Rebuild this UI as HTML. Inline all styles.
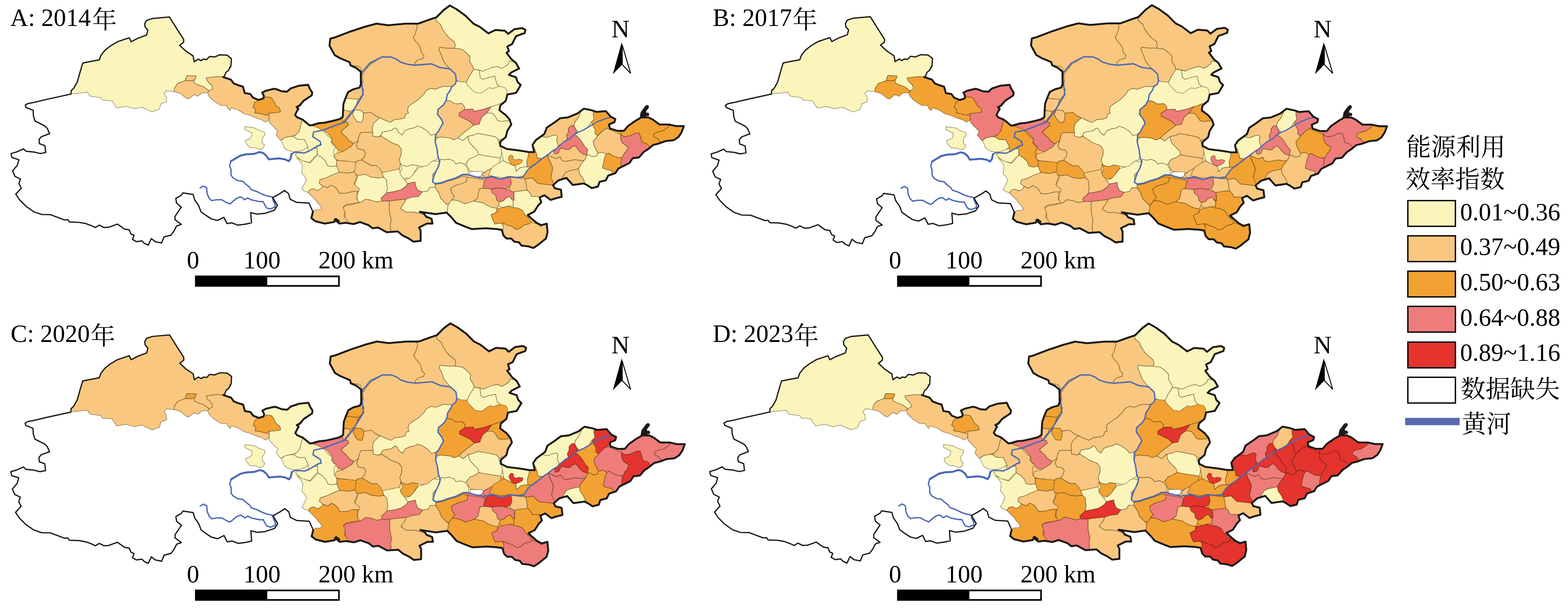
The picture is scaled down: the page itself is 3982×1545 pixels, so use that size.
<!DOCTYPE html><html><head><meta charset="utf-8"><style>
html,body{margin:0;padding:0;background:#fff;}
body{width:3982px;height:1545px;overflow:hidden;font-family:"Liberation Serif",serif;}
svg{display:block}
text{font-family:"Liberation Serif",serif;font-size:63px;fill:#000}
text.cj{font-family:"Liberation Serif","Noto Serif CJK SC",serif}
</style></head><body><svg width="3982" height="1545" viewBox="0 0 3982 1545">
<defs><path id="ol" d="M28.0,390.3 42.0,386.3 60.1,378.3 66.1,384.3 86.1,386.3 102.1,390.3 116.1,387.5 114.1,370.3 100.1,365.1 99.3,354.3 104.9,347.5 126.1,339.5 120.1,326.3 114.1,320.3 88.9,307.5 84.9,294.3 84.1,280.2 66.1,273.0 64.1,267.4 70.1,263.4 86.1,260.2 120.1,252.2 180.2,239.0 181.0,230.2 187.4,224.2 196.2,208.2 204.2,180.2 210.2,160.1 230.2,156.1 252.2,152.1 256.2,140.9 266.2,128.1 280.2,116.9 298.3,106.1 316.3,100.1 328.3,96.1 333.1,106.1 348.3,98.1 372.3,88.9 375.5,76.9 368.3,68.1 367.5,60.1 372.3,52.0 386.3,47.2 430.4,43.2 448.4,72.1 466.4,100.1 466.4,107.3 456.4,115.3 472.4,130.1 490.4,142.1 493.2,156.9 503.6,150.1 510.5,154.1 516.5,150.1 524.5,151.3 532.5,143.3 544.5,144.9 558.5,139.3 576.5,140.1 587.7,148.9 586.5,167.3 584.5,172.2 584.2,170.0 580.7,178.2 573.7,184.0 570.2,193.3 566.7,195.7 586.6,202.6 593.5,212.0 605.2,216.6 616.9,220.1 621.5,236.5 635.5,238.8 642.5,248.1 656.5,253.9 668.2,250.5 670.5,244.6 665.8,235.3 675.2,230.6 696.2,225.5 703.1,227.1 714.8,231.8 728.8,233.0 738.1,224.8 759.1,217.8 782.4,215.5 787.1,226.0 792.9,235.3 791.8,242.3 770.8,256.3 761.0,268.6 753.1,272.1 757.7,276.3 754.0,282.6 749.3,292.0 754.0,297.8 768.0,303.6 786.6,318.8 793.6,317.6 809.9,312.9 823.9,311.8 843.1,307.6 861.7,302.9 870.6,297.1 871.0,285.0 872.2,264.0 876.9,250.5 883.9,234.1 896.7,227.1 913.0,222.5 916.5,214.3 916.1,182.2 904.0,172.2 890.0,166.1 888.0,158.1 864.0,148.1 850.0,140.1 836.8,116.1 838.8,98.1 850.0,95.3 890.0,80.1 926.1,68.1 956.1,60.1 986.1,64.1 1030.2,60.1 1062.2,60.1 1090.2,50.0 1108.2,44.0 1126.2,26.0 1142.3,14.0 1160.3,24.0 1182.3,40.0 1202.3,60.1 1218.3,68.1 1240.3,84.9 1258.4,76.1 1282.4,78.1 1290.4,86.1 1306.4,74.1 1326.4,71.3 1334.4,76.1 1332.4,84.1 1310.4,92.1 1300.4,112.1 1288.4,118.1 1292.4,130.1 1286.4,134.1 1298.4,150.1 1310.4,160.1 1318.4,174.2 1298.4,184.2 1292.4,190.2 1310.4,196.2 1314.4,208.2 1322.4,216.2 1310.4,236.2 1288.4,240.2 1284.4,256.2 1270.4,268.2 1268.4,280.2 1284.4,292.3 1294.4,304.3 1298.4,316.3 1288.4,332.3 1284.4,348.3 1270.4,360.3 1270.4,370.3 1286.4,378.3 1318.4,382.3 1342.4,386.3 1356.5,386.3 1352.4,368.3 1360.5,356.3 1382.5,340.3 1388.5,324.3 1406.5,312.3 1422.5,300.3 1442.5,298.3 1466.5,288.3 1482.6,276.2 1502.6,280.2 1514.6,284.3 1538.6,282.3 1550.6,296.3 1562.6,302.3 1560.6,310.3 1546.6,316.3 1548.6,326.3 1566.6,332.3 1584.7,332.3 1594.7,320.3 1614.7,306.3 1628.7,298.3 1646.7,298.3 1658.7,304.3 1674.7,316.3 1698.8,316.3 1716.8,320.3 1736.8,320.3 1730.8,336.3 1722.8,348.3 1710.8,356.3 1690.7,358.3 1674.7,364.3 1658.7,368.3 1646.7,378.3 1634.7,386.3 1622.7,400.0 1606.7,402.0 1598.7,414.1 1586.7,420.1 1570.6,428.1 1562.6,440.1 1544.6,446.1 1538.6,458.1 1522.6,462.1 1518.6,474.1 1502.6,478.1 1490.6,470.1 1482.6,466.1 1468.5,468.1 1454.5,470.1 1438.5,452.1 1418.5,458.1 1404.5,470.1 1408.5,478.1 1424.5,482.1 1426.5,500.1 1410.5,504.1 1398.5,508.1 1382.5,496.1 1370.5,502.1 1374.5,514.1 1366.5,522.2 1356.5,538.2 1340.4,546.2 1348.4,554.2 1362.5,566.2 1374.5,572.2 1388.5,568.2 1390.5,590.2 1386.5,606.2 1366.5,622.2 1354.4,630.2 1342.4,626.2 1324.4,624.2 1318.4,616.2 1306.4,614.2 1298.4,606.2 1286.4,606.2 1278.4,598.2 1274.4,584.2 1262.4,582.2 1234.3,580.2 1198.3,582.2 1182.3,576.2 1158.3,566.2 1146.3,552.2 1134.3,540.2 1106.2,544.2 1066.2,538.2 1076.2,542.2 1082.2,550.2 1096.2,556.2 1098.2,568.2 1084.2,568.2 1064.2,578.2 1068.2,586.2 1068.2,612.2 1050.2,614.2 1038.2,606.2 1022.2,598.2 1010.1,588.2 982.1,590.2 960.1,578.2 946.1,580.2 936.1,572.2 914.1,564.2 898.0,569.4 878.0,566.2 862.0,568.2 850.0,558.2 860.8,562.2 852.8,556.2 848.8,564.2 824.7,568.2 800.7,562.2 790.7,554.2 794.7,538.2 784.7,516.1 752.7,514.1 736.7,506.1 732.7,492.1 722.6,484.1 710.6,492.1 692.6,502.1 704.6,522.2 696.6,534.2 672.6,542.2 652.6,544.2 636.6,540.2 638.6,566.2 624.6,569.4 604.5,572.2 588.5,566.2 576.5,568.2 568.5,552.2 552.5,560.2 536.5,556.2 524.5,548.2 510.5,538.2 504.4,522.2 494.4,508.1 490.4,494.1 464.4,490.1 460.4,496.1 446.4,504.1 448.4,516.1 460.4,526.2 452.4,538.2 444.4,550.2 444.4,558.2 460.4,570.2 448.4,574.2 442.4,586.2 434.4,597.4 416.4,602.2 410.4,617.4 394.4,614.2 384.3,606.2 376.3,623.0 366.3,618.2 360.3,612.2 346.3,614.2 336.3,608.2 340.3,598.2 332.3,594.2 328.3,584.2 316.3,582.2 298.3,569.4 276.2,577.4 264.2,578.2 252.2,572.2 242.2,578.2 232.2,573.4 218.2,568.2 200.2,565.0 176.2,564.2 172.2,558.2 164.1,559.0 146.1,552.2 128.1,545.4 106.1,545.0 86.1,538.2 66.1,524.2 50.0,508.1 40.0,493.3 54.0,478.1 48.0,466.1 52.0,454.9 38.0,448.1 32.0,434.1 44.0,420.1 48.0,406.0 30.0,400.0Z"/><clipPath id="cp"><use href="#ol"/></clipPath>
<path id="rv" d="M508.4,477.3 516.6,472.6 524.8,477.3 525.9,491.3 530.6,502.9 537.6,509.9 549.2,507.6 563.2,507.6 574.9,514.6 584.2,518.1 593.5,509.9 602.9,502.9 612.2,500.6 621.5,507.6 628.5,502.9 637.9,507.6 647.2,509.9 658.8,512.2 668.2,512.2 672.8,521.6 677.5,528.6 686.8,530.9 698.5,526.2 698.5,519.2 693.8,509.9 691.5,500.6 679.8,498.3 665.8,493.6 651.8,486.6 637.9,481.9 633.2,474.9 623.9,467.9 616.9,460.9 602.9,458.6 591.2,451.6 586.6,444.6 586.6,430.6 583.1,421.3 586.6,409.6 598.2,402.6 609.9,395.7 623.9,392.2 644.9,391.0 658.8,386.3 668.2,388.7 676.3,395.7 682.2,405.0 693.8,403.8 710.1,402.6 724.1,405.0 733.5,409.6 738.1,402.6 740.5,391.0 749.8,386.3 759.1,387.5 773.1,388.7 784.8,384.0 796.4,377.0 808.1,370.0 815.1,368.2 812.7,358.9 794.1,347.2 796.4,335.6 819.7,330.9 875.7,309.9 896.7,281.9 922.3,240.0 916.5,193.3 919.8,183.2 927.9,173.9 939.6,159.9 969.9,144.8 993.2,144.8 1007.2,150.6 1016.6,157.6 1035.2,163.4 1053.9,165.7 1095.8,162.2 1116.8,171.6 1142.5,175.1 1156.5,187.9 1158.8,204.2 1156.5,213.5 1147.1,220.5 1143.6,229.3 1135.5,241.0 1133.1,255.0 1126.2,266.6 1112.2,278.3 1111.0,290.0 1121.5,303.9 1125.0,313.3 1119.2,322.6 1113.3,334.3 1106.3,341.3 1105.2,359.9 1109.8,378.6 1112.2,397.2 1116.8,411.2 1112.2,425.2 1105.2,439.2 1100.5,453.0 1098.2,462.0 1105.2,466.6 1121.5,464.3 1133.1,459.6 1156.5,452.6 1175.1,443.3 1186.8,443.3 1193.8,445.7 1212.4,450.3 1226.4,452.6 1240.4,450.3 1249.7,448.0 1261.4,452.6 1273.1,455.0 1284.7,451.5 1296.4,449.1 1315.0,451.5 1329.0,450.3"/>
<path id="rvs" d="M1329.0,450.3 1329.3,447.5 1338.6,433.5 1347.9,424.2 1361.9,414.9 1375.9,403.2 1389.9,393.9 1401.6,384.6 1413.2,377.6 1422.6,368.3 1434.2,358.9 1448.2,351.9 1457.5,342.6 1469.2,335.6 1480.9,330.9 1492.5,323.9 1504.2,317.0 1515.8,310.0 1527.5,305.3 1539.2,300.6 1550.8,298.3"/>
<path id="rvt" d="M586.6,409.6 598.2,402.6 609.9,395.7 623.9,392.2 644.9,391.0 658.8,386.3 668.2,388.7 676.3,395.7 682.2,405.0 693.8,403.8 710.1,402.6 724.1,405.0 733.5,409.6 738.1,402.6 740.5,391.0"/>
<path id="olt" d="M566.7,195.7 586.6,202.6 593.5,212.0 605.2,216.6 616.9,220.1 621.5,236.5 635.5,238.8 642.5,248.1 656.5,253.9 668.2,250.5 670.5,244.6 665.8,235.3 675.2,230.6 696.2,225.5 703.1,227.1 714.8,231.8 728.8,233.0 738.1,224.8 759.1,217.8 782.4,215.5 787.1,226.0 792.9,235.3 791.8,242.3 770.8,256.3 761.0,268.6 753.1,272.1 757.7,276.3 754.0,282.6 749.3,292.0 754.0,297.8 768.0,303.6 786.6,318.8 793.6,317.6 809.9,312.9 823.9,311.8 843.1,307.6 861.7,302.9 870.6,297.1 871.0,285.0 872.2,264.0 876.9,250.5 883.9,234.1 896.7,227.1 913.0,222.5 916.5,214.3 916.1,182.2 904.0,172.2 890.0,166.1 888.0,158.1 864.0,148.1 850.0,140.1 836.8,116.1 838.8,98.1 850.0,95.3 890.0,80.1 926.1,68.1 956.1,60.1 986.1,64.1 1030.2,60.1 1062.2,60.1 1090.2,50.0 1108.2,44.0 1126.2,26.0 1142.3,14.0 1160.3,24.0 1182.3,40.0 1202.3,60.1 1218.3,68.1 1240.3,84.9 1258.4,76.1 1282.4,78.1 1290.4,86.1 1306.4,74.1 1326.4,71.3 1334.4,76.1 1332.4,84.1 1310.4,92.1 1300.4,112.1 1288.4,118.1 1292.4,130.1 1286.4,134.1 1298.4,150.1 1310.4,160.1 1318.4,174.2 1298.4,184.2 1292.4,190.2 1310.4,196.2 1314.4,208.2 1322.4,216.2 1310.4,236.2 1288.4,240.2 1284.4,256.2 1270.4,268.2 1268.4,280.2 1284.4,292.3 1294.4,304.3 1298.4,316.3 1288.4,332.3 1284.4,348.3 1270.4,360.3 1270.4,370.3 1286.4,378.3 1318.4,382.3 1342.4,386.3 1356.5,386.3 1352.4,368.3 1360.5,356.3 1382.5,340.3 1388.5,324.3 1406.5,312.3 1422.5,300.3 1442.5,298.3 1466.5,288.3 1482.6,276.2 1502.6,280.2 1514.6,284.3 1538.6,282.3 1550.6,296.3 1562.6,302.3 1560.6,310.3 1546.6,316.3 1548.6,326.3 1566.6,332.3 1584.7,332.3 1594.7,320.3 1614.7,306.3 1628.7,298.3 1646.7,298.3 1658.7,304.3 1674.7,316.3 1698.8,316.3 1716.8,320.3 1736.8,320.3 1730.8,336.3 1722.8,348.3 1710.8,356.3 1690.7,358.3 1674.7,364.3 1658.7,368.3 1646.7,378.3 1634.7,386.3 1622.7,400.0 1606.7,402.0 1598.7,414.1 1586.7,420.1 1570.6,428.1 1562.6,440.1 1544.6,446.1 1538.6,458.1 1522.6,462.1 1518.6,474.1 1502.6,478.1 1490.6,470.1 1482.6,466.1 1468.5,468.1 1454.5,470.1 1438.5,452.1 1418.5,458.1 1404.5,470.1 1408.5,478.1 1424.5,482.1 1426.5,500.1 1410.5,504.1 1398.5,508.1 1382.5,496.1 1370.5,502.1 1374.5,514.1 1366.5,522.2 1356.5,538.2 1340.4,546.2 1348.4,554.2 1362.5,566.2 1374.5,572.2 1388.5,568.2 1390.5,590.2 1386.5,606.2 1366.5,622.2 1354.4,630.2 1342.4,626.2 1324.4,624.2 1318.4,616.2 1306.4,614.2 1298.4,606.2 1286.4,606.2 1278.4,598.2 1274.4,584.2 1262.4,582.2 1234.3,580.2 1198.3,582.2 1182.3,576.2 1158.3,566.2 1146.3,552.2 1134.3,540.2 1106.2,544.2 1066.2,538.2 1076.2,542.2 1082.2,550.2 1096.2,556.2 1098.2,568.2 1084.2,568.2 1064.2,578.2 1068.2,586.2 1068.2,612.2 1050.2,614.2 1038.2,606.2 1022.2,598.2 1010.1,588.2 982.1,590.2 960.1,578.2 946.1,580.2 936.1,572.2 914.1,564.2 898.0,569.4 878.0,566.2 862.0,568.2 850.0,558.2 860.8,562.2 852.8,556.2 848.8,564.2 824.7,568.2 800.7,562.2 790.7,554.2 794.7,538.2"/>
<path id="spike" d="M1624.5,298.0 1627.0,285.0 1638.0,270.0 1643.0,266.5 1648.0,269.0 1647.5,274.0 1641.0,282.0 1641.5,287.0 1646.0,286.0 1649.0,290.0 1647.5,294.5 1642.0,295.0 1637.0,300.0Z"/>
<path id="r_alxa" d="M172.2,240.2 152.1,140.1 360.3,20.0 480.4,32.0 600.5,132.1 592.5,188.2 577.2,191.0 566.7,195.7 551.6,194.5 523.6,198.0 525.9,205.0 537.6,216.6 539.9,226.0 530.6,230.6 516.6,220.1 502.6,215.5 493.3,210.8 493.3,202.6 496.8,199.1 497.9,192.9 474.6,192.2 472.3,198.0 470.0,205.0 451.3,212.0 443.1,223.6 442.0,233.0 423.3,230.6 416.3,237.6 422.2,247.0 423.3,258.6 409.3,263.3 404.7,277.3 400.0,279.6 386.3,284.3 360.3,272.2 340.3,276.2 320.3,270.2 296.3,274.2 284.3,256.2 260.2,254.2 256.2,248.2 228.2,244.2 222.2,234.2 180.2,239.0Z"/>
<path id="r_xinzhou" d="M1147.1,220.0 1154.1,206.0 1186.8,206.0 1200.8,217.7 1214.8,221.2 1226.4,215.3 1247.4,208.3 1268.4,210.7 1287.1,206.0 1316.2,206.0 1319.7,230.5 1308.0,241.0 1294.0,242.2 1284.7,250.3 1283.6,257.3 1270.7,263.1 1261.4,266.6 1247.4,271.3 1226.4,278.3 1203.1,283.0 1200.8,277.1 1179.8,278.3 1179.8,271.3 1172.8,263.1 1156.5,264.3 1144.8,257.3 1133.1,255.0 1135.5,241.0 1143.6,229.3Z"/>
<path id="r_g2" d="M523.6,198.0 551.6,194.5 566.7,195.7 577.2,191.0 609.9,205.0 633.2,228.3 656.5,253.9 647.2,259.8 642.5,272.6 649.5,278.4 647.2,286.6 656.5,287.8 675.2,292.4 683.3,293.6 682.2,305.3 674.0,309.9 661.2,302.9 651.8,300.6 633.2,292.4 619.2,288.9 605.2,279.6 586.6,273.8 584.2,280.8 577.2,273.8 576.1,267.9 560.9,267.9 549.2,260.9 539.9,253.9 530.6,244.6 527.1,235.3 530.6,230.6 539.9,226.0 537.6,216.6 525.9,205.0Z"/>
<path id="r_g3" d="M656.5,253.9 668.2,250.5 677.5,245.8 689.2,248.1 696.2,258.6 700.8,267.9 710.1,274.9 712.5,284.3 700.8,286.6 683.3,287.8 675.2,292.4 656.5,287.8 647.2,286.6 649.5,278.4 642.5,272.6 647.2,259.8Z"/>
<path id="r_g4" d="M668.2,250.5 661.2,240.0 668.2,223.6 703.1,216.6 738.1,216.6 773.1,207.3 801.1,221.3 801.1,244.6 770.8,256.3 752.1,271.4 756.8,281.9 749.8,291.3 752.1,297.1 768.4,302.9 763.8,319.2 760.3,333.2 752.1,342.6 735.8,347.2 724.1,349.6 712.5,356.6 700.8,342.6 705.5,333.2 691.5,319.2 683.3,309.9 683.3,293.6 683.3,287.8 700.8,286.6 712.5,284.3 710.1,274.9 700.8,267.9 696.2,258.6 689.2,248.1 677.5,245.8Z"/>
<path id="r_g5" d="M621.5,321.6 633.2,322.7 647.2,325.1 656.5,330.9 671.7,335.6 672.8,342.6 665.8,351.9 665.8,363.5 671.7,368.2 669.3,375.2 663.5,379.9 656.5,378.7 647.2,375.2 635.5,375.2 626.2,365.9 622.7,356.6 630.9,354.2 637.9,349.6 640.2,337.9 629.7,333.2 621.5,328.6Z"/>
<path id="r_g6" d="M724.1,349.6 735.8,347.2 745.1,347.2 756.8,354.2 773.1,354.2 777.8,363.5 782.4,372.9 773.1,379.9 759.1,384.5 745.1,385.7 731.1,382.2 721.8,375.2 717.1,363.5 713.6,356.6Z"/>
<path id="r_bayannur" d="M825.3,99.3 876.6,78.3 957.1,55.0 1063.2,55.0 1057.4,63.1 1059.7,69.0 1053.9,87.6 1049.2,94.6 1056.2,106.3 1063.2,113.3 1067.9,122.6 1070.2,134.3 1077.2,141.3 1074.9,148.3 1059.7,152.9 1053.9,159.9 1053.9,165.7 1035.2,163.4 1016.6,157.6 1007.2,150.6 993.2,144.8 969.9,144.8 939.6,159.9 919.8,183.2 913.9,169.2 888.3,164.6 853.3,145.9 830.0,117.9Z"/>
<path id="r_baotou" d="M1057.4,63.1 1063.2,52.6 1107.5,43.3 1107.5,52.6 1119.2,62.0 1123.8,73.6 1133.1,87.6 1142.5,97.0 1154.1,106.3 1156.5,115.6 1154.1,122.6 1133.1,122.6 1116.8,120.3 1114.5,126.1 1121.5,141.3 1126.2,155.3 1135.5,166.9 1142.5,175.1 1116.8,171.6 1095.8,162.2 1053.9,165.7 1053.9,159.9 1059.7,152.9 1074.9,148.3 1077.2,141.3 1070.2,134.3 1067.9,122.6 1063.2,113.3 1056.2,106.3 1049.2,94.6 1053.9,87.6 1059.7,69.0Z"/>
<path id="r_hohhot" d="M1116.8,120.3 1133.1,122.6 1154.1,122.6 1172.8,124.9 1182.1,131.9 1193.8,143.6 1192.6,155.3 1200.8,169.2 1203.1,176.2 1191.4,194.9 1184.5,208.9 1168.1,207.7 1158.8,204.2 1156.5,187.9 1142.5,175.1 1135.5,166.9 1126.2,155.3 1121.5,141.3 1114.5,126.1Z"/>
<path id="r_ulanqab" d="M1107.5,52.6 1107.5,43.3 1133.1,13.0 1179.8,29.3 1226.4,66.6 1343.0,62.0 1319.7,124.9 1305.7,157.6 1292.9,155.3 1291.7,162.2 1282.4,169.2 1273.1,173.9 1261.4,169.2 1249.7,171.6 1240.4,175.1 1226.4,180.9 1214.8,177.4 1203.1,176.2 1200.8,169.2 1192.6,155.3 1193.8,143.6 1182.1,131.9 1172.8,124.9 1154.1,122.6 1156.5,115.6 1154.1,106.3 1142.5,97.0 1133.1,87.6 1123.8,73.6 1119.2,62.0Z"/>
<path id="r_datong" d="M1217.1,178.6 1226.4,180.9 1240.4,175.1 1249.7,171.6 1261.4,169.2 1273.1,173.9 1282.4,169.2 1291.7,162.2 1292.9,155.3 1305.7,157.6 1329.0,169.2 1319.7,183.2 1331.4,211.2 1324.4,241.5 1294.0,243.9 1287.1,250.9 1287.1,229.9 1282.4,222.9 1268.4,219.4 1261.4,213.5 1259.1,204.2 1256.7,193.7 1240.4,197.2 1226.4,201.9 1219.4,197.2Z"/>
<path id="r_shuozhou" d="M1203.1,176.2 1217.1,178.6 1219.4,197.2 1226.4,201.9 1240.4,197.2 1256.7,193.7 1261.4,213.5 1268.4,219.4 1249.7,225.2 1242.7,222.9 1231.1,229.9 1221.8,236.9 1205.4,234.5 1196.1,225.2 1186.8,215.9 1184.5,208.9 1191.4,194.9Z"/>
<path id="r_ordos" d="M919.8,189.7 939.6,164.0 969.9,145.4 993.2,145.4 1007.2,151.2 1016.6,158.2 1035.2,164.0 1053.9,166.4 1095.8,162.9 1116.8,172.2 1142.5,175.7 1156.5,188.5 1158.8,204.8 1156.5,214.2 1147.1,220.0 1123.8,220.0 1105.2,227.0 1093.5,224.7 1081.8,230.5 1077.2,238.7 1063.2,252.6 1049.2,262.0 1037.5,270.1 1035.2,280.6 1037.5,287.6 1030.5,290.0 1028.2,299.3 1016.6,302.8 1002.6,303.9 990.9,310.9 979.2,306.3 964.1,299.3 953.6,294.6 941.9,285.3 923.3,287.6 916.3,280.6 900.0,279.5 897.6,278.3 904.6,266.6 909.3,257.3 918.6,243.3 923.3,229.3 919.8,220.0Z"/>
<path id="r_wuhai" d="M897.6,222.3 919.8,220.0 923.3,229.3 918.6,243.3 909.3,252.6 886.0,250.3 876.6,248.0 874.3,234.0 888.3,220.0 907.0,206.0 915.1,194.3 919.8,189.7 922.1,208.3Z"/>
<path id="r_g10" d="M886.0,250.3 909.3,252.6 904.6,266.6 897.6,278.3 888.3,283.0 876.6,280.6 867.3,276.0 869.6,257.3 875.5,250.3Z"/>
<path id="r_g10s" d="M876.6,280.6 888.3,283.0 888.3,290.0 880.1,299.3 872.0,310.9 867.3,297.0 865.0,285.3Z"/>
<path id="r_g11" d="M900.0,279.5 916.3,280.6 923.3,287.6 922.1,301.6 918.6,310.9 907.0,309.8 900.0,299.3 895.3,290.0Z"/>
<path id="r_g9" d="M888.3,290.0 897.6,278.3 900.0,279.5 895.3,290.0 900.0,299.3 907.0,309.8 918.6,310.9 922.1,301.6 923.3,287.6 941.9,285.3 953.6,294.6 964.1,299.3 948.9,313.3 945.4,324.9 946.6,336.6 916.3,336.6 911.6,345.9 909.3,357.6 897.6,364.6 886.0,357.6 879.0,348.3 870.8,341.3 865.0,334.3 884.8,317.9 882.5,310.9 872.0,310.9 880.1,299.3Z"/>
<path id="r_g8" d="M792.7,320.3 830.0,308.6 844.0,305.1 860.3,301.6 867.3,297.0 872.0,310.9 882.5,310.9 884.8,317.9 865.0,334.3 870.8,341.3 879.0,348.3 886.0,357.6 897.6,364.6 893.0,371.6 881.3,378.6 869.6,385.6 858.0,380.9 848.7,369.2 841.7,359.9 844.0,352.9 830.0,336.6 823.0,331.9 806.7,331.9Z"/>
<path id="r_yulin" d="M964.1,299.3 979.2,306.3 990.9,310.9 1002.6,303.9 1016.6,302.8 1028.2,299.3 1030.5,290.0 1037.5,287.6 1035.2,280.6 1037.5,270.1 1049.2,262.0 1063.2,252.6 1077.2,238.7 1081.8,230.5 1093.5,224.7 1105.2,227.0 1123.8,220.0 1147.1,220.0 1143.6,229.3 1135.5,241.0 1133.1,255.0 1126.2,266.6 1112.2,278.3 1111.0,290.0 1121.5,303.9 1125.0,313.3 1119.2,322.6 1113.3,334.3 1106.3,341.3 1093.5,343.6 1086.5,334.3 1079.5,329.6 1072.5,324.9 1059.7,320.3 1051.5,324.9 1039.9,327.3 1028.2,331.9 1021.2,343.6 1011.9,336.6 1007.2,327.3 1002.6,324.9 993.2,331.9 979.2,334.3 969.9,336.6 967.6,343.6 960.6,348.3 946.6,345.9 946.6,336.6 945.4,324.9 948.9,313.3Z"/>
<path id="r_yanan" d="M969.9,336.6 979.2,334.3 993.2,331.9 1002.6,324.9 1007.2,327.3 1011.9,336.6 1021.2,343.6 1028.2,331.9 1039.9,327.3 1051.5,324.9 1059.7,320.3 1072.5,324.9 1079.5,329.6 1086.5,334.3 1093.5,343.6 1106.3,341.3 1105.2,359.9 1109.8,378.6 1112.2,397.2 1109.8,404.2 1100.5,408.9 1093.5,413.5 1095.8,420.5 1086.5,425.2 1072.5,422.9 1058.5,420.5 1044.5,418.2 1035.2,422.9 1023.5,420.5 1016.6,415.9 1014.2,404.2 1018.9,392.6 1018.9,378.6 1011.9,369.2 993.2,362.2 979.2,352.9 967.6,345.9Z"/>
<path id="r_qingyang" d="M946.6,336.6 946.6,345.9 960.6,348.3 967.6,345.9 979.2,352.9 993.2,362.2 1011.9,369.2 1018.9,378.6 1018.9,392.6 1014.2,404.2 1016.6,415.9 1014.2,429.4 1009.6,431.0 993.2,434.5 969.9,439.2 960.6,429.9 955.9,420.5 941.9,420.5 930.3,413.5 918.6,406.6 925.6,397.2 927.9,387.9 923.3,380.9 909.3,378.6 904.6,369.2 909.3,357.6 911.6,345.9 916.3,336.6Z"/>
<path id="r_guyuan" d="M897.6,364.6 909.3,357.6 904.6,369.2 909.3,378.6 923.3,380.9 927.9,387.9 925.6,397.2 918.6,406.6 907.0,408.9 900.0,418.2 888.3,413.5 876.6,408.9 865.0,408.9 853.3,406.6 848.7,397.2 853.3,390.2 869.6,385.6 881.3,378.6 893.0,371.6Z"/>
<path id="r_tongchuan" d="M1016.6,415.9 1023.5,420.5 1035.2,422.9 1044.5,418.2 1058.5,420.5 1060.9,427.5 1053.9,434.5 1049.2,443.9 1039.9,453.0 1016.6,453.0 1014.2,441.5 1021.2,429.9Z"/>
<path id="r_lvliang" d="M1133.1,255.0 1144.8,257.3 1156.5,264.3 1172.8,263.1 1179.8,271.3 1179.8,278.3 1165.8,287.6 1165.8,294.6 1179.8,301.6 1193.8,308.6 1203.1,317.9 1193.8,324.9 1184.5,331.9 1172.8,341.3 1163.5,350.6 1151.8,355.3 1142.5,350.6 1130.8,349.4 1119.2,348.3 1109.8,350.6 1106.3,341.3 1113.3,334.3 1119.2,322.6 1125.0,313.3 1121.5,303.9 1111.0,290.0 1112.2,278.3 1126.2,266.6Z"/>
<path id="r_taiyuan" d="M1165.8,287.6 1179.8,278.3 1200.8,277.1 1203.1,283.0 1226.4,278.3 1247.4,271.3 1242.7,278.3 1235.8,287.6 1224.1,297.0 1219.4,308.6 1217.1,315.6 1203.1,317.9 1193.8,308.6 1179.8,301.6 1165.8,294.6Z"/>
<path id="r_yangquan" d="M1247.4,271.3 1261.4,266.6 1270.7,263.1 1277.7,273.6 1284.7,278.3 1291.7,290.0 1298.7,299.3 1296.4,306.3 1273.1,308.6 1263.7,306.3 1256.7,294.6 1249.7,287.6 1235.8,287.6 1242.7,278.3Z"/>
<path id="r_jinzhong" d="M1235.8,287.6 1249.7,287.6 1256.7,294.6 1263.7,306.3 1273.1,308.6 1296.4,306.3 1301.0,313.3 1294.0,322.6 1289.4,331.9 1285.9,343.6 1277.7,352.9 1266.1,355.3 1259.1,348.3 1249.7,345.9 1238.1,343.6 1226.4,341.3 1212.4,338.9 1203.1,343.6 1189.1,345.9 1175.1,357.6 1163.5,350.6 1172.8,341.3 1184.5,331.9 1193.8,324.9 1203.1,317.9 1217.1,315.6 1219.4,308.6 1224.1,297.0Z"/>
<path id="r_changzhi" d="M1189.1,345.9 1203.1,343.6 1212.4,338.9 1226.4,341.3 1238.1,343.6 1249.7,345.9 1259.1,348.3 1266.1,355.3 1273.1,359.9 1275.4,378.6 1273.1,392.6 1270.7,401.9 1256.7,399.6 1240.4,397.2 1226.4,394.9 1214.8,392.6 1212.4,383.2 1203.1,373.9 1193.8,364.6 1189.1,355.3Z"/>
<path id="r_linfen" d="M1109.8,350.6 1119.2,348.3 1130.8,349.4 1142.5,350.6 1151.8,355.3 1163.5,350.6 1175.1,357.6 1189.1,345.9 1189.1,355.3 1193.8,364.6 1203.1,373.9 1212.4,383.2 1214.8,392.6 1203.1,399.6 1191.4,404.2 1184.5,413.5 1179.8,418.2 1170.5,413.5 1156.5,415.9 1151.8,408.9 1140.1,404.2 1128.5,406.6 1119.2,404.2 1116.8,411.2 1112.2,397.2 1109.8,378.6 1105.2,359.9Z"/>
<path id="r_jincheng" d="M1214.8,392.6 1226.4,394.9 1240.4,397.2 1256.7,399.6 1270.7,401.9 1268.4,413.5 1261.4,422.9 1249.7,427.5 1235.8,434.5 1226.4,439.2 1212.4,436.9 1193.8,434.5 1186.8,425.2 1184.5,413.5 1191.4,404.2 1203.1,399.6Z"/>
<path id="r_yuncheng" d="M1116.8,411.2 1119.2,404.2 1128.5,406.6 1140.1,404.2 1151.8,408.9 1156.5,415.9 1170.5,413.5 1179.8,418.2 1186.8,425.2 1189.1,434.5 1189.1,445.0 1175.1,445.0 1156.5,453.2 1133.1,460.2 1121.5,464.9 1105.2,467.2 1097.0,462.5 1097.0,450.9 1102.8,439.2 1109.8,425.2Z"/>
<path id="r_jiyuan" d="M1193.8,435.7 1224.1,435.7 1226.4,441.5 1221.8,447.4 1212.4,449.7 1198.4,447.4 1192.6,442.7Z"/>
<path id="r_pingliang" d="M853.3,406.0 865.0,408.8 888.3,413.5 900.0,418.1 907.0,408.8 918.6,406.5 930.3,413.5 941.9,420.5 955.9,420.5 965.3,429.8 969.9,438.7 974.6,450.3 960.6,452.6 941.9,450.3 927.9,443.3 909.3,445.7 900.0,441.0 876.6,443.3 858.0,434.0 848.7,424.7 855.7,413.5Z"/>
<path id="r_xianyang" d="M909.3,445.7 927.9,443.3 941.9,450.3 960.6,452.6 974.6,450.3 981.6,457.3 983.9,478.3 981.6,490.0 967.6,503.9 969.9,510.9 955.9,513.3 941.9,508.6 927.9,506.3 918.6,513.3 909.3,515.6 907.0,501.6 909.3,490.0 900.0,469.0 904.6,459.6Z"/>
<path id="r_weinan_n" d="M974.6,450.3 969.9,438.7 993.2,434.0 1014.2,429.3 1016.6,443.3 1028.2,457.3 1035.2,466.6 1030.5,473.6 1016.6,483.0 997.9,487.6 981.6,490.0 983.9,478.3 981.6,457.3Z"/>
<path id="r_xian" d="M969.9,510.9 967.6,503.9 981.6,490.0 997.9,487.6 1016.6,483.0 1030.5,473.6 1035.2,466.6 1053.9,462.0 1056.2,473.6 1060.9,483.0 1072.5,487.6 1063.2,499.3 1044.5,501.6 1030.5,506.3 1007.2,508.6 988.6,510.9Z"/>
<path id="r_weinan_e" d="M1035.2,466.6 1028.2,457.3 1039.9,452.9 1049.2,443.3 1060.9,427.0 1086.5,420.0 1093.5,413.0 1100.5,408.3 1115.7,410.7 1115.7,420.0 1107.5,434.0 1098.2,443.3 1098.2,459.6 1105.2,469.0 1105.2,476.0 1091.2,476.0 1086.5,485.3 1072.5,487.6 1060.9,483.0 1056.2,473.6 1053.9,462.0Z"/>
<path id="r_shangluo_n" d="M1016.6,529.6 1028.2,513.3 1030.5,506.3 1044.5,501.6 1063.2,499.3 1072.5,487.6 1086.5,485.3 1091.2,476.0 1105.2,476.0 1114.5,490.0 1119.2,503.9 1133.1,517.9 1137.8,522.6 1135.5,538.9 1128.5,545.9 1114.5,548.3 1095.8,548.3 1077.2,547.1 1063.2,541.3 1049.2,538.9 1030.5,538.9Z"/>
<path id="r_shangluo_s" d="M988.6,510.9 1007.2,508.6 1030.5,506.3 1028.2,513.3 1016.6,529.6 1030.5,538.9 1049.2,538.9 1063.2,541.3 1077.2,545.9 1081.8,552.9 1100.5,557.6 1102.8,571.6 1081.8,573.9 1072.5,580.9 1072.5,620.5 1049.2,622.9 1028.2,606.6 1004.9,592.6 993.2,594.9 990.9,571.6 993.2,559.9 988.6,536.6Z"/>
<path id="r_baoji" d="M876.6,522.6 890.6,520.3 909.3,515.6 918.6,513.3 927.9,506.3 941.9,508.6 955.9,513.3 969.9,510.9 988.6,510.9 988.6,536.6 993.2,559.9 990.9,571.6 993.2,594.9 979.2,594.9 955.9,585.6 932.6,578.6 900.0,576.2 876.6,564.6 876.6,541.3 869.6,531.9Z"/>
<path id="r_sanmenxia" d="M1105.2,476.0 1105.2,469.0 1121.5,466.6 1133.1,462.0 1156.5,455.0 1175.1,448.0 1186.8,450.3 1184.5,462.0 1172.8,466.6 1156.5,471.3 1144.8,478.3 1147.1,490.0 1154.1,499.3 1147.1,508.6 1140.1,517.9 1133.1,517.9 1119.2,503.9 1114.5,490.0Z"/>
<path id="r_luoyang" d="M1186.8,450.3 1203.1,452.6 1217.1,455.0 1231.1,457.3 1226.4,478.3 1217.1,480.6 1214.8,492.3 1212.4,503.9 1203.1,510.9 1189.1,515.6 1179.8,517.9 1165.8,510.9 1154.1,508.6 1147.1,508.6 1154.1,499.3 1147.1,490.0 1144.8,478.3 1156.5,471.3 1172.8,466.6 1184.5,462.0Z"/>
<path id="r_zhengzhou" d="M1231.1,457.3 1235.8,452.6 1249.7,450.3 1266.1,455.0 1282.4,452.6 1296.4,450.3 1298.7,466.6 1294.0,476.0 1282.4,480.6 1273.1,478.3 1259.1,478.3 1247.4,480.6 1226.4,478.3Z"/>
<path id="r_xuchang" d="M1247.4,480.6 1259.1,478.3 1273.1,478.3 1282.4,480.6 1294.0,483.0 1303.4,487.6 1305.7,508.6 1298.7,506.3 1294.0,499.3 1284.7,503.9 1277.7,510.9 1268.4,513.3 1261.4,508.6 1259.1,497.0 1249.7,490.0Z"/>
<path id="r_pingdingshan" d="M1217.1,480.6 1226.4,478.3 1247.4,480.6 1249.7,490.0 1259.1,497.0 1261.4,508.6 1268.4,513.3 1266.1,522.6 1261.4,529.6 1249.7,527.3 1238.1,522.6 1226.4,515.6 1214.8,513.3 1203.1,510.9 1212.4,503.9 1214.8,492.3Z"/>
<path id="r_nanyang" d="M1137.8,522.6 1140.1,517.9 1147.1,508.6 1154.1,508.6 1165.8,510.9 1179.8,517.9 1189.1,515.6 1203.1,510.9 1214.8,513.3 1226.4,515.6 1238.1,522.6 1249.7,527.3 1261.4,529.6 1261.4,538.9 1247.4,545.9 1252.1,559.9 1256.7,569.2 1273.1,566.9 1277.7,573.9 1282.4,590.2 1268.4,587.9 1249.7,585.6 1226.4,585.6 1200.8,587.9 1175.1,578.6 1156.5,571.6 1142.5,557.6 1128.5,545.9 1135.5,538.9Z"/>
<path id="r_zhumadian" d="M1247.4,545.9 1261.4,538.9 1266.1,529.6 1277.7,527.3 1289.4,523.8 1303.4,527.3 1315.0,528.4 1326.7,534.3 1333.7,545.9 1343.0,555.3 1350.0,564.6 1343.0,569.2 1331.4,571.6 1319.7,580.9 1310.4,583.2 1301.0,576.2 1287.1,571.6 1277.7,566.9 1273.1,566.9 1256.7,569.2 1252.1,559.9Z"/>
<path id="r_xinyang" d="M1277.7,566.9 1287.1,571.6 1301.0,576.2 1310.4,583.2 1319.7,580.9 1331.4,571.6 1343.0,569.2 1350.0,564.6 1364.0,569.2 1373.3,576.2 1387.3,564.6 1396.7,583.2 1399.0,601.9 1389.7,618.2 1371.0,629.9 1359.3,639.2 1338.4,634.5 1319.7,627.5 1296.4,615.9 1282.4,608.9 1275.4,599.6 1277.7,585.6Z"/>
<path id="r_luohe" d="M1268.4,513.3 1277.7,510.9 1284.7,503.9 1294.0,499.3 1298.7,506.3 1303.4,510.9 1303.4,522.6 1289.4,523.8 1277.7,527.3 1266.1,522.6Z"/>
<path id="r_zhoukou" d="M1305.7,487.6 1319.7,485.3 1338.4,483.0 1345.4,490.0 1350.0,499.3 1364.0,499.3 1375.7,499.3 1378.0,513.3 1373.3,520.3 1368.7,529.6 1359.3,545.9 1343.0,552.9 1333.7,545.9 1326.7,534.3 1315.0,528.4 1303.4,527.3 1303.4,522.6 1303.4,510.9 1305.7,508.6Z"/>
<path id="r_kaifeng" d="M1296.4,450.3 1315.0,452.6 1333.7,455.0 1336.0,466.6 1338.4,483.0 1319.7,485.3 1305.7,487.6 1303.4,487.6 1294.0,483.0 1294.0,476.0 1298.7,466.6Z"/>
<path id="r_heze" d="M1329.0,450.3 1333.7,441.0 1343.0,429.3 1357.0,420.0 1368.7,410.7 1389.7,393.9 1394.3,406.0 1399.0,415.3 1403.6,427.0 1401.3,438.7 1399.0,450.3 1410.6,452.6 1413.0,464.3 1406.0,471.3 1389.7,469.0 1366.3,466.6 1352.3,452.6 1333.7,455.0Z"/>
<path id="r_shangqiu" d="M1333.7,455.0 1352.3,452.6 1366.3,466.6 1389.7,469.0 1406.0,471.3 1413.0,464.3 1427.0,455.0 1448.0,450.3 1459.6,471.3 1448.0,490.0 1434.0,490.0 1434.0,510.9 1413.0,513.3 1399.0,517.9 1389.7,506.3 1375.7,499.3 1364.0,499.3 1350.0,499.3 1345.4,490.0 1338.4,483.0 1336.0,466.6Z"/>
<path id="r_jiaozuo" d="M1224.1,443.3 1235.8,434.0 1249.7,427.0 1259.1,424.7 1266.1,434.0 1268.4,443.3 1259.1,448.0 1245.1,450.3 1231.1,450.3Z"/>
<path id="r_dongying" d="M1506.5,286.6 1520.5,279.6 1534.5,277.3 1548.5,282.0 1560.1,296.0 1567.1,303.0 1562.5,312.3 1550.8,312.3 1546.2,319.3 1541.5,326.3 1532.2,330.9 1525.2,337.9 1518.2,344.9 1511.2,340.3 1511.2,328.6 1504.2,317.0 1501.8,310.0 1508.8,303.0 1506.5,293.6Z"/>
<path id="r_binzhou" d="M1459.9,310.0 1469.2,298.3 1473.9,286.6 1478.5,275.0 1497.2,273.8 1506.5,279.6 1506.5,293.6 1508.8,303.0 1501.8,310.0 1492.5,323.9 1480.9,330.9 1469.2,335.6 1462.2,328.6 1457.5,319.3Z"/>
<path id="r_dezhou" d="M1371.3,347.3 1375.9,335.6 1387.6,326.3 1394.6,317.0 1403.9,310.0 1413.2,307.6 1422.6,303.0 1429.6,293.6 1443.5,292.5 1459.9,291.3 1473.9,286.6 1469.2,298.3 1459.9,310.0 1457.5,319.3 1450.5,319.3 1443.5,326.3 1443.5,335.6 1438.9,344.9 1441.2,354.3 1434.2,358.9 1422.6,368.3 1417.9,370.6 1413.2,356.6 1415.6,347.3 1410.9,342.6 1401.6,344.9 1389.9,349.6 1375.9,347.3Z"/>
<path id="r_jinan_n" d="M1443.5,326.3 1450.5,319.3 1457.5,319.3 1462.2,328.6 1464.5,335.6 1457.5,342.6 1448.2,351.9 1441.2,354.3 1438.9,344.9 1443.5,335.6Z"/>
<path id="r_jinan_s" d="M1457.5,342.6 1464.5,344.9 1471.5,351.9 1478.5,361.3 1485.5,372.9 1492.5,379.9 1490.2,393.9 1480.9,391.6 1471.5,384.6 1464.5,375.3 1459.9,370.6 1452.9,372.9 1445.9,379.9 1436.6,379.9 1429.6,377.6 1422.6,377.6 1417.9,389.2 1408.6,391.6 1406.2,384.6 1413.2,377.6 1422.6,368.3 1434.2,358.9 1448.2,351.9Z"/>
<path id="r_liaocheng" d="M1354.9,361.3 1371.3,347.3 1375.9,347.3 1389.9,349.6 1401.6,344.9 1410.9,342.6 1415.6,347.3 1413.2,356.6 1417.9,370.6 1413.2,377.6 1401.6,384.6 1389.9,393.9 1375.9,403.2 1364.3,400.9 1361.9,389.2 1358.4,377.6 1352.6,370.6Z"/>
<path id="r_puyang" d="M1343.3,384.6 1357.3,385.7 1361.9,389.2 1364.3,400.9 1375.9,403.2 1361.9,414.9 1347.9,424.2 1338.6,424.2 1337.4,410.2 1340.9,398.6Z"/>
<path id="r_zibo" d="M1469.2,335.6 1480.9,330.9 1492.5,323.9 1504.2,317.0 1511.2,328.6 1511.2,340.3 1518.2,344.9 1513.5,351.9 1506.5,358.9 1508.8,370.6 1513.5,379.9 1518.2,389.2 1515.8,396.2 1504.2,398.6 1497.2,393.9 1490.2,393.9 1492.5,379.9 1485.5,372.9 1478.5,361.3 1471.5,351.9 1464.5,344.9 1457.5,342.6 1464.5,335.6Z"/>
<path id="r_weifang" d="M1518.2,344.9 1525.2,337.9 1532.2,330.9 1541.5,326.3 1550.8,330.9 1562.5,335.6 1576.5,342.6 1576.5,354.3 1581.1,363.6 1590.5,370.6 1595.1,372.9 1590.5,384.6 1585.8,389.2 1581.1,398.6 1574.1,400.9 1562.5,398.6 1553.1,393.9 1546.2,389.2 1539.2,391.6 1529.8,386.9 1518.2,389.2 1513.5,379.9 1508.8,370.6 1506.5,358.9 1513.5,351.9Z"/>
<path id="r_qingdao" d="M1576.5,342.6 1585.8,347.3 1599.8,344.9 1613.8,337.9 1623.1,337.9 1627.8,349.6 1630.1,361.3 1644.1,365.9 1651.1,370.6 1641.8,382.2 1632.4,391.6 1620.8,398.6 1609.1,407.9 1599.8,417.2 1585.8,426.6 1576.5,426.6 1576.5,414.9 1578.8,403.2 1581.1,398.6 1585.8,389.2 1590.5,384.6 1595.1,372.9 1590.5,370.6 1581.1,363.6 1576.5,354.3Z"/>
<path id="r_yantai" d="M1576.5,335.6 1585.8,330.9 1583.5,319.3 1599.8,310.0 1606.8,300.6 1620.8,296.0 1623.1,286.6 1637.1,268.0 1651.1,270.3 1651.1,296.0 1669.7,305.3 1693.1,310.0 1702.4,317.0 1693.1,326.3 1681.4,333.3 1669.7,335.6 1660.4,340.3 1660.4,347.3 1669.7,351.9 1676.7,360.1 1676.7,365.9 1658.1,370.6 1651.1,375.3 1644.1,365.9 1630.1,361.3 1627.8,349.6 1623.1,337.9 1613.8,337.9 1599.8,344.9 1585.8,347.3 1576.5,342.6Z"/>
<path id="r_weihai" d="M1702.4,317.0 1702.4,307.6 1725.7,314.6 1744.4,317.0 1742.0,333.3 1735.0,342.6 1737.4,354.3 1721.0,358.9 1714.0,363.6 1707.1,358.9 1697.7,356.6 1686.1,361.3 1676.7,365.9 1676.7,360.1 1669.7,351.9 1660.4,347.3 1660.4,340.3 1669.7,335.6 1681.4,333.3 1693.1,326.3Z"/>
<path id="r_rizhao" d="M1539.2,391.6 1546.2,389.2 1553.1,393.9 1562.5,398.6 1574.1,400.9 1578.8,403.2 1576.5,414.9 1576.5,426.6 1585.8,426.6 1571.8,445.2 1557.8,449.9 1553.1,433.5 1541.5,431.2 1529.8,426.6 1532.2,414.9 1534.5,403.2Z"/>
<path id="r_linyi" d="M1490.2,393.9 1497.2,393.9 1504.2,398.6 1515.8,396.2 1518.2,389.2 1529.8,386.9 1539.2,391.6 1534.5,403.2 1532.2,414.9 1529.8,426.6 1541.5,431.2 1553.1,433.5 1557.8,449.9 1550.8,454.5 1536.8,466.2 1518.2,477.9 1487.9,477.9 1483.2,459.2 1478.5,449.9 1471.5,440.5 1469.2,428.9 1473.9,419.6 1483.2,407.9 1487.9,400.9Z"/>
<path id="r_taian" d="M1413.2,377.6 1406.2,384.6 1408.6,391.6 1417.9,389.2 1422.6,377.6 1429.6,377.6 1436.6,379.9 1445.9,379.9 1452.9,372.9 1459.9,370.6 1464.5,375.3 1471.5,384.6 1480.9,391.6 1490.2,393.9 1487.9,400.9 1483.2,407.9 1473.9,407.9 1459.9,405.6 1450.5,407.9 1436.6,410.2 1427.2,407.9 1422.6,398.6 1410.9,403.2 1401.6,398.6 1389.9,393.9 1401.6,384.6Z"/>
<path id="r_jining" d="M1389.9,393.9 1401.6,398.6 1410.9,403.2 1422.6,398.6 1427.2,407.9 1436.6,410.2 1450.5,407.9 1459.9,405.6 1473.9,407.9 1483.2,407.9 1473.9,419.6 1469.2,428.9 1459.9,431.2 1448.2,433.5 1436.6,438.2 1431.9,445.2 1424.9,456.9 1415.6,463.9 1410.9,477.9 1399.2,449.9 1401.6,438.2 1403.9,426.6 1399.2,414.9 1394.6,405.6Z"/>
<path id="r_zaozhuang" d="M1436.6,438.2 1448.2,433.5 1459.9,431.2 1469.2,428.9 1471.5,440.5 1478.5,449.9 1483.2,459.2 1487.9,477.9 1450.5,477.9 1443.5,463.9 1434.2,455.7 1424.9,456.9 1431.9,445.2Z"/>
<path id="r_anyang" d="M1264.0,356.6 1271.0,368.3 1282.6,372.9 1296.6,377.6 1315.3,382.2 1327.0,384.6 1343.3,384.6 1340.9,398.6 1337.4,410.2 1338.6,424.2 1329.3,424.2 1320.0,426.6 1310.6,435.9 1308.3,421.9 1296.6,417.2 1287.3,412.6 1278.0,407.9 1275.7,393.9 1273.3,379.9Z"/>
<path id="r_xinxiang" d="M1250.0,424.2 1261.7,417.2 1278.0,407.9 1287.3,412.6 1296.6,417.2 1308.3,421.9 1310.6,435.9 1320.0,426.6 1329.3,424.2 1338.6,424.2 1347.9,424.2 1338.6,433.5 1329.3,447.5 1310.6,449.9 1292.0,447.5 1280.3,451.0 1264.0,449.9 1250.0,447.5 1240.7,445.2Z"/>
<path id="r_hebi" d="M1292.0,398.6 1296.6,393.9 1302.5,396.2 1302.5,403.2 1308.3,406.7 1317.6,404.4 1327.0,406.7 1324.6,413.7 1315.3,418.4 1308.3,420.7 1299.0,418.4 1294.3,411.4 1290.8,404.4Z"/>
<path id="r_g7a" d="M768.4,302.9 782.4,314.6 791.8,319.2 805.8,323.9 819.7,330.9 796.4,335.6 794.1,347.2 812.7,358.9 815.1,368.2 796.4,377.5 782.4,386.9 782.4,372.9 777.8,363.5 773.1,354.2 756.8,354.2 745.1,347.2 752.1,342.6 760.3,333.2 763.8,319.2Z"/>
<path id="r_g7b" d="M796.4,335.5 819.7,330.8 831.4,344.8 843.1,354.1 840.7,361.1 847.7,370.5 852.4,370.0 847.7,384.0 847.7,398.0 854.7,407.3 854.7,421.3 843.1,423.6 831.4,421.3 826.7,409.6 817.4,400.3 805.8,393.3 805.8,377.0 796.4,377.0 784.8,384.0 782.4,386.8 796.4,377.5 815.1,368.1 812.7,358.8 794.1,347.1Z"/>
<path id="r_linxia" d="M754.5,400.3 773.1,409.6 787.1,414.3 796.4,405.0 805.8,393.3 817.4,400.3 826.7,409.6 831.4,421.3 843.1,423.6 854.7,421.3 861.7,437.6 843.1,444.6 829.1,451.6 812.7,456.3 810.4,465.6 819.7,472.6 815.1,479.6 805.8,484.3 796.4,479.6 787.1,481.9 782.4,488.9 770.8,484.3 766.1,479.6 773.1,467.9 777.8,456.3 773.1,447.0 766.1,440.0 768.4,421.3 763.8,412.0Z"/>
<path id="r_gs_c2" d="M854.7,407.3 903.7,412.0 901.4,433.0 896.7,437.6 882.7,440.0 861.7,437.6 854.7,421.3Z"/>
<path id="r_dingxi" d="M812.7,456.3 829.1,451.6 843.1,444.6 861.7,437.6 882.7,440.0 896.7,437.6 901.4,437.6 906.0,449.3 899.0,467.9 906.0,474.9 913.0,479.6 910.7,486.6 896.7,486.6 878.0,491.3 861.7,491.3 857.1,481.9 850.1,474.9 840.7,470.3 831.4,477.3 819.7,472.6 810.4,465.6Z"/>
<path id="r_longnan" d="M782.4,488.9 787.1,481.9 796.4,479.6 805.8,484.3 815.1,479.6 819.7,472.6 831.4,477.3 840.7,470.3 850.1,474.9 857.1,481.9 861.7,491.3 878.0,491.3 896.7,486.6 910.7,486.6 906.0,491.3 906.0,505.3 913.0,514.6 899.0,516.9 880.4,519.2 871.0,526.2 875.7,537.9 873.4,549.6 880.4,558.9 887.4,568.2 857.1,572.9 829.1,575.2 796.4,568.2 789.4,554.2 791.8,540.2 801.1,533.2 810.4,533.2 817.4,530.9 812.7,521.6 805.8,514.6 801.1,507.6 794.1,500.6Z"/>
<path id="r_g1b" d="M472.3,205.0 488.6,205.0 493.3,202.6 493.3,210.8 502.6,215.5 516.6,220.1 530.6,230.6 527.1,235.3 511.9,236.5 502.6,244.6 493.3,240.0 479.3,251.6 472.3,249.3 458.3,237.6 442.0,233.0 443.1,223.6 451.3,212.0 470.0,205.0Z"/>
<path id="r_g1a" d="M474.6,192.2 497.9,192.9 496.8,199.1 493.3,202.6 488.6,205.0 472.3,205.0 472.3,198.0Z"/>
<path id="r_g6s" d="M754.0,399.1 768.0,408.5 786.6,413.1 798.3,399.1 805.3,394.5 805.8,377.0 796.4,377.0 784.8,384.0 773.1,388.7 759.1,387.5 749.8,391.0Z"/>
</defs>
<g transform="translate(0,0) scale(1)">
<g clip-path="url(#cp)">
<path d="M1139.5,14.0 1141.0,13.0 1143.0,14.0 1149.5,18.5 1150.0,19.0 1149.0,19.0 1141.0,15.0 1140.0,14.5Z" fill="#fbf5bc"/>
<path d="M889.0,167.0 889.0,166.0 967.0,145.5 967.5,145.5 967.0,146.0 915.0,193.5Z" fill="#f9c77f"/>
<path d="M1054.0,166.5 1050.5,166.5 1045.5,166.0 1034.5,165.0 1025.0,160.0 1022.0,159.0 1023.5,159.0Z" fill="#f9c77f"/>
<path d="M1220.0,179.5 1218.5,179.5 1213.5,179.0 1208.0,176.0 1213.0,176.0 1218.5,179.0Z" fill="#fbf5bc"/>
<path d="M913.0,221.0 913.0,220.5 915.5,210.5 918.0,210.0 920.0,209.0 920.0,221.0Z" fill="#f9c77f"/>
<path d="M906.0,261.5 906.0,260.5 908.0,254.5 908.5,251.5 916.5,245.5 916.5,246.0Z" fill="#f9c77f"/>
<path d="M876.0,249.0 876.5,247.5 877.5,247.5 882.0,249.0 884.0,250.5 876.0,250.5Z" fill="#f9c77f"/>
<path d="M770.5,256.5 755.0,280.0 754.5,279.5 751.5,272.5 751.5,272.0 752.5,271.0 762.5,262.5 770.0,256.5Z" fill="#f9c77f"/>
<path d="M1272.0,266.5 1271.5,266.5 1270.5,265.0 1270.0,264.0 1273.0,260.5 1281.5,257.5 1282.0,257.5 1280.5,259.0 1277.0,264.0Z" fill="#fbf5bc"/>
<path d="M870.0,283.5 870.0,280.0 870.5,277.5 871.0,277.5 877.0,281.5Z" fill="#f9c77f"/>
<path d="M887.5,290.0 887.5,284.0 894.0,279.5 897.0,278.0 897.0,278.5 893.5,285.0Z" fill="#f9c77f"/>
<path d="M1464.5,289.5 1476.0,280.5 1476.0,281.0 1475.5,282.5 1474.0,287.5 1466.0,289.5Z" fill="#f9c77f"/>
<path d="M1506.0,287.0 1506.0,280.5 1512.5,282.0 1513.0,283.5Z" fill="#f2a233"/>
<path d="M683.5,287.0 683.5,294.0 682.0,294.0 677.0,293.5 674.5,293.0 677.0,289.5 682.5,287.5Z" fill="#f9c77f"/>
<path d="M1423.5,299.0 1425.0,299.0 1425.0,299.5 1423.5,301.5 1423.0,302.0 1417.0,306.0 1413.5,307.5 1413.0,307.5 1414.0,306.5 1422.0,300.0Z" fill="#f9c77f"/>
<path d="M1504.5,315.5 1504.5,318.0 1502.0,319.5 1493.0,323.5 1492.5,323.5 1501.5,311.0 1502.5,310.0 1503.5,312.5Z" fill="#fbf5bc"/>
<path d="M789.0,319.0 810.5,311.5 817.5,311.0 819.0,311.0 816.0,312.0 794.5,320.0 792.5,320.5 791.0,320.0Z" fill="#f2a233"/>
<path d="M1548.5,315.0 1549.5,311.5 1555.5,311.5 1553.5,312.5 1549.0,315.5 1548.5,315.5Z" fill="#f2a233"/>
<path d="M1583.5,333.0 1577.0,343.0 1551.0,332.0 1541.0,325.0 1541.5,324.0 1543.0,321.5 1546.0,317.0Z" fill="#f9c77f"/>
<path d="M1462.0,329.0 1469.0,336.0 1466.0,336.0 1464.5,335.5 1462.5,331.0 1462.0,329.5Z" fill="#fbf5bc"/>
<path d="M844.5,353.5 844.5,354.0 844.0,354.5 843.0,354.0 831.0,346.0 829.5,344.5 824.5,336.5 820.0,331.0 822.0,331.0 823.0,331.5 824.5,332.5 828.0,335.0 830.5,337.5 843.0,351.5Z" fill="#f2a233"/>
<path d="M750.0,342.5 751.0,342.5 746.5,347.5 737.0,347.5 738.5,347.0 746.0,343.5Z" fill="#f9c77f"/>
<path d="M1104.5,359.0 1104.5,356.0 1105.0,345.0 1105.5,342.5 1106.0,343.5 1109.5,347.5 1110.0,351.0 1110.0,352.0Z" fill="#fbf5bc"/>
<path d="M968.0,343.0 968.5,343.0 968.0,346.5 963.0,347.5 962.5,347.5 963.0,347.0Z" fill="#fbf5bc"/>
<path d="M1265.5,356.0 1285.5,344.0 1285.5,345.5 1285.0,347.0 1284.0,348.0 1271.5,359.0 1270.0,359.0Z" fill="#fbf5bc"/>
<path d="M850.0,371.0 848.5,371.0 840.5,361.0 840.0,360.0 840.0,359.5 840.5,359.0Z" fill="#fbf5bc"/>
<path d="M1414.5,375.5 1414.5,375.0 1416.5,370.0 1419.0,369.5 1421.0,368.5 1421.5,368.5Z" fill="#ee7c7a"/>
<path d="M1361.5,388.0 1361.5,389.0 1355.5,386.0 1355.0,385.5 1352.0,371.5 1352.0,370.5 1354.0,373.0 1355.5,375.0 1358.5,376.5 1359.0,377.5 1359.5,381.0 1361.0,386.0Z" fill="#fbf5bc"/>
<path d="M870.0,386.5 847.5,399.5 847.0,399.0 847.0,382.5 849.0,376.0 850.0,373.0 850.5,372.0Z" fill="#fbf5bc"/>
<path d="M1643.5,380.0 1644.5,378.5 1649.0,373.5 1650.0,372.5 1650.5,372.5 1651.0,373.0 1651.0,374.0 1649.5,377.5 1645.5,379.0 1644.0,380.0Z" fill="#ee7c7a"/>
<path d="M1331.0,385.0 1326.0,385.0 1323.5,384.5 1314.5,381.0 1317.0,381.0Z" fill="#fbf5bc"/>
<path d="M1267.5,413.5 1268.5,408.5 1269.5,402.0 1275.0,386.5 1275.5,388.5 1277.5,399.5 1278.5,407.5 1278.5,408.5 1277.0,409.5 1268.0,413.5Z" fill="#fbf5bc"/>
<path d="M1627.5,394.0 1628.0,394.0 1625.0,399.5 1621.5,401.0 1618.0,401.0 1618.5,400.5 1621.5,396.5Z" fill="#ee7c7a"/>
<path d="M785.0,414.5 783.5,414.0 799.5,398.0 802.5,396.0 803.0,396.0 801.5,398.0 797.5,403.0 786.0,414.5Z" fill="#fbf5bc"/>
<path d="M1101.0,409.0 1113.0,397.0 1115.0,403.0 1116.5,410.0 1116.5,411.0 1114.0,411.0 1103.0,409.5Z" fill="#fbf5bc"/>
<path d="M1579.5,403.5 1579.0,403.5 1576.0,403.0 1573.5,399.5 1575.0,399.0 1580.5,398.0 1581.0,398.0 1581.0,398.5Z" fill="#f9c77f"/>
<path d="M1382.0,398.5 1382.5,398.5 1381.5,399.5 1378.5,402.0 1357.5,419.5 1355.5,421.0 1349.5,425.0 1344.0,428.5 1343.5,428.5 1347.5,424.5 1377.5,401.5Z" fill="#f2a233"/>
<path d="M1186.5,424.5 1179.0,418.0 1181.0,415.0 1185.0,413.5 1185.5,414.0 1186.5,422.0Z" fill="#fbf5bc"/>
<path d="M1013.5,429.0 1014.0,424.0 1015.5,416.0 1016.0,417.0 1019.5,421.5 1021.5,430.0 1021.5,430.5 1020.0,433.5 1015.0,438.5 1014.5,437.0 1013.5,431.0Z" fill="#fbf5bc"/>
<path d="M1061.0,427.5 1059.5,427.5 1058.5,422.0 1058.0,420.0 1060.5,420.0 1073.0,421.5 1076.0,422.0 1070.5,425.5Z" fill="#fbf5bc"/>
<path d="M1051.5,438.5 1051.5,438.0 1052.5,434.0 1056.5,432.0 1056.5,432.5 1055.5,434.0 1052.0,438.0Z" fill="#fbf5bc"/>
<path d="M1225.0,441.5 1225.0,440.5 1225.5,439.0 1231.5,436.0 1232.0,436.0 1230.5,437.5 1226.5,441.0 1225.5,441.5Z" fill="#f9c77f"/>
<path d="M1097.5,444.0 1102.5,439.0 1102.5,439.5 1097.5,447.5Z" fill="#fbf5bc"/>
<path d="M898.5,468.0 905.0,442.5 905.5,442.5 909.5,444.5 909.5,445.0 907.5,451.5 905.0,461.0 899.0,469.0 898.5,468.5Z" fill="#f9c77f"/>
<path d="M1024.5,452.5 1037.5,452.5 1028.0,457.5 1027.0,457.5 1026.5,457.0Z" fill="#fbf5bc"/>
<path d="M1294.5,475.5 1294.5,483.5 1293.0,483.5 1288.5,483.0 1281.5,481.5 1284.0,478.5 1294.0,475.5Z" fill="#ee7c7a"/>
<path d="M1302.5,487.0 1306.0,487.0 1306.0,503.0 1305.5,499.0 1302.5,488.5Z" fill="#ee7c7a"/>
<path d="M905.5,506.0 905.5,490.0 909.0,488.5 909.5,488.5 909.5,490.0 906.0,507.0Z" fill="#f9c77f"/>
<path d="M1304.0,511.0 1299.0,506.0 1300.0,506.0 1306.0,509.5 1305.0,510.5Z" fill="#ee7c7a"/>
<path d="M907.5,514.5 909.5,514.5 901.5,516.5 889.0,521.0 878.0,523.0 875.5,523.0 878.0,521.0 879.5,520.0Z" fill="#f9c77f"/>
<path d="M1133.0,517.0 1140.5,517.0 1138.5,523.0 1134.5,521.0Z" fill="#f9c77f"/>
<path d="M1260.5,538.0 1260.5,530.5 1261.0,529.5 1263.5,524.0 1267.0,522.0 1268.0,522.0 1278.0,526.0Z" fill="#f2a233"/>
<path d="M1302.5,527.5 1288.5,522.5 1295.5,522.0 1303.5,522.0 1303.5,527.5Z" fill="#fbf5bc"/>
<path d="M874.5,527.0 871.0,528.5 870.5,527.5 870.5,527.0 871.0,526.5 875.5,522.5 876.0,522.5 876.0,523.0Z" fill="#f9c77f"/>
<path d="M877.0,540.0 877.0,554.0 873.5,552.0 872.5,550.5 872.5,549.5 873.5,542.5 876.0,540.5 876.5,539.0Z" fill="#f9c77f"/>
<path d="M1096.0,556.5 1094.5,556.5 1088.5,555.0 1081.0,553.5 1080.5,553.0 1078.5,548.0 1078.0,547.0 1078.0,546.5 1079.0,546.5Z" fill="#f9c77f"/>
<path d="M1374.0,576.5 1349.5,565.5 1349.0,565.0 1336.5,548.0 1337.0,548.0 1345.0,551.0 1379.5,572.0 1378.0,573.5 1375.5,575.5Z" fill="#f9c77f"/>
<path d="M1273.0,566.0 1278.0,566.0 1278.0,573.0 1277.5,572.5 1274.5,571.0 1273.0,566.5Z" fill="#fbf5bc"/>
<use href="#r_xinzhou" fill="#fbf5bc" stroke="#fbf5bc" stroke-width="14" stroke-linejoin="round"/>
<use href="#r_bayannur" fill="#f9c77f" stroke="#f9c77f" stroke-width="14" stroke-linejoin="round"/>
<use href="#r_baotou" fill="#f9c77f" stroke="#f9c77f" stroke-width="14" stroke-linejoin="round"/>
<use href="#r_hohhot" fill="#f9c77f" stroke="#f9c77f" stroke-width="14" stroke-linejoin="round"/>
<use href="#r_ulanqab" fill="#fbf5bc" stroke="#fbf5bc" stroke-width="14" stroke-linejoin="round"/>
<use href="#r_datong" fill="#fbf5bc" stroke="#fbf5bc" stroke-width="14" stroke-linejoin="round"/>
<use href="#r_shuozhou" fill="#fbf5bc" stroke="#fbf5bc" stroke-width="14" stroke-linejoin="round"/>
<use href="#r_ordos" fill="#f9c77f" stroke="#f9c77f" stroke-width="14" stroke-linejoin="round"/>
<use href="#r_wuhai" fill="#f9c77f" stroke="#f9c77f" stroke-width="14" stroke-linejoin="round"/>
<use href="#r_g10" fill="#fbf5bc" stroke="#fbf5bc" stroke-width="14" stroke-linejoin="round"/>
<use href="#r_g10s" fill="#f9c77f" stroke="#f9c77f" stroke-width="14" stroke-linejoin="round"/>
<use href="#r_g11" fill="#fbf5bc" stroke="#fbf5bc" stroke-width="14" stroke-linejoin="round"/>
<use href="#r_g9" fill="#f9c77f" stroke="#f9c77f" stroke-width="14" stroke-linejoin="round"/>
<use href="#r_g8" fill="#f2a233" stroke="#f2a233" stroke-width="14" stroke-linejoin="round"/>
<use href="#r_yulin" fill="#fbf5bc" stroke="#fbf5bc" stroke-width="14" stroke-linejoin="round"/>
<use href="#r_yanan" fill="#fbf5bc" stroke="#fbf5bc" stroke-width="14" stroke-linejoin="round"/>
<use href="#r_qingyang" fill="#f9c77f" stroke="#f9c77f" stroke-width="14" stroke-linejoin="round"/>
<use href="#r_guyuan" fill="#f9c77f" stroke="#f9c77f" stroke-width="14" stroke-linejoin="round"/>
<use href="#r_tongchuan" fill="#fbf5bc" stroke="#fbf5bc" stroke-width="14" stroke-linejoin="round"/>
<use href="#r_lvliang" fill="#f9c77f" stroke="#f9c77f" stroke-width="14" stroke-linejoin="round"/>
<use href="#r_taiyuan" fill="#ee7c7a" stroke="#ee7c7a" stroke-width="14" stroke-linejoin="round"/>
<use href="#r_yangquan" fill="#fbf5bc" stroke="#fbf5bc" stroke-width="14" stroke-linejoin="round"/>
<use href="#r_jinzhong" fill="#fbf5bc" stroke="#fbf5bc" stroke-width="14" stroke-linejoin="round"/>
<use href="#r_changzhi" fill="#fbf5bc" stroke="#fbf5bc" stroke-width="14" stroke-linejoin="round"/>
<use href="#r_linfen" fill="#fbf5bc" stroke="#fbf5bc" stroke-width="14" stroke-linejoin="round"/>
<use href="#r_jincheng" fill="#fbf5bc" stroke="#fbf5bc" stroke-width="14" stroke-linejoin="round"/>
<use href="#r_yuncheng" fill="#fbf5bc" stroke="#fbf5bc" stroke-width="14" stroke-linejoin="round"/>
<use href="#r_pingliang" fill="#f9c77f" stroke="#f9c77f" stroke-width="14" stroke-linejoin="round"/>
<use href="#r_xianyang" fill="#fbf5bc" stroke="#fbf5bc" stroke-width="14" stroke-linejoin="round"/>
<use href="#r_weinan_n" fill="#fbf5bc" stroke="#fbf5bc" stroke-width="14" stroke-linejoin="round"/>
<use href="#r_xian" fill="#ee7c7a" stroke="#ee7c7a" stroke-width="14" stroke-linejoin="round"/>
<use href="#r_weinan_e" fill="#fbf5bc" stroke="#fbf5bc" stroke-width="14" stroke-linejoin="round"/>
<use href="#r_shangluo_n" fill="#fbf5bc" stroke="#fbf5bc" stroke-width="14" stroke-linejoin="round"/>
<use href="#r_shangluo_s" fill="#f9c77f" stroke="#f9c77f" stroke-width="14" stroke-linejoin="round"/>
<use href="#r_baoji" fill="#f9c77f" stroke="#f9c77f" stroke-width="14" stroke-linejoin="round"/>
<use href="#r_sanmenxia" fill="#f9c77f" stroke="#f9c77f" stroke-width="14" stroke-linejoin="round"/>
<use href="#r_luoyang" fill="#f9c77f" stroke="#f9c77f" stroke-width="14" stroke-linejoin="round"/>
<use href="#r_zhengzhou" fill="#ee7c7a" stroke="#ee7c7a" stroke-width="14" stroke-linejoin="round"/>
<use href="#r_xuchang" fill="#ee7c7a" stroke="#ee7c7a" stroke-width="14" stroke-linejoin="round"/>
<use href="#r_pingdingshan" fill="#f9c77f" stroke="#f9c77f" stroke-width="14" stroke-linejoin="round"/>
<use href="#r_nanyang" fill="#fbf5bc" stroke="#fbf5bc" stroke-width="14" stroke-linejoin="round"/>
<use href="#r_zhumadian" fill="#f2a233" stroke="#f2a233" stroke-width="14" stroke-linejoin="round"/>
<use href="#r_xinyang" fill="#f9c77f" stroke="#f9c77f" stroke-width="14" stroke-linejoin="round"/>
<use href="#r_luohe" fill="#fbf5bc" stroke="#fbf5bc" stroke-width="14" stroke-linejoin="round"/>
<use href="#r_zhoukou" fill="#fbf5bc" stroke="#fbf5bc" stroke-width="14" stroke-linejoin="round"/>
<use href="#r_kaifeng" fill="#f9c77f" stroke="#f9c77f" stroke-width="14" stroke-linejoin="round"/>
<use href="#r_heze" fill="#f2a233" stroke="#f2a233" stroke-width="14" stroke-linejoin="round"/>
<use href="#r_shangqiu" fill="#f9c77f" stroke="#f9c77f" stroke-width="14" stroke-linejoin="round"/>
<use href="#r_jiaozuo" fill="#f9c77f" stroke="#f9c77f" stroke-width="14" stroke-linejoin="round"/>
<use href="#r_dongying" fill="#f2a233" stroke="#f2a233" stroke-width="14" stroke-linejoin="round"/>
<use href="#r_binzhou" fill="#fbf5bc" stroke="#fbf5bc" stroke-width="14" stroke-linejoin="round"/>
<use href="#r_dezhou" fill="#f9c77f" stroke="#f9c77f" stroke-width="14" stroke-linejoin="round"/>
<use href="#r_jinan_n" fill="#ee7c7a" stroke="#ee7c7a" stroke-width="14" stroke-linejoin="round"/>
<use href="#r_jinan_s" fill="#ee7c7a" stroke="#ee7c7a" stroke-width="14" stroke-linejoin="round"/>
<use href="#r_liaocheng" fill="#fbf5bc" stroke="#fbf5bc" stroke-width="14" stroke-linejoin="round"/>
<use href="#r_puyang" fill="#f2a233" stroke="#f2a233" stroke-width="14" stroke-linejoin="round"/>
<use href="#r_zibo" fill="#fbf5bc" stroke="#fbf5bc" stroke-width="14" stroke-linejoin="round"/>
<use href="#r_weifang" fill="#f9c77f" stroke="#f9c77f" stroke-width="14" stroke-linejoin="round"/>
<use href="#r_qingdao" fill="#ee7c7a" stroke="#ee7c7a" stroke-width="14" stroke-linejoin="round"/>
<use href="#r_yantai" fill="#f2a233" stroke="#f2a233" stroke-width="14" stroke-linejoin="round"/>
<use href="#r_weihai" fill="#f2a233" stroke="#f2a233" stroke-width="14" stroke-linejoin="round"/>
<use href="#r_rizhao" fill="#f2a233" stroke="#f2a233" stroke-width="14" stroke-linejoin="round"/>
<use href="#r_linyi" fill="#fbf5bc" stroke="#fbf5bc" stroke-width="14" stroke-linejoin="round"/>
<use href="#r_taian" fill="#f9c77f" stroke="#f9c77f" stroke-width="14" stroke-linejoin="round"/>
<use href="#r_jining" fill="#f9c77f" stroke="#f9c77f" stroke-width="14" stroke-linejoin="round"/>
<use href="#r_zaozhuang" fill="#f9c77f" stroke="#f9c77f" stroke-width="14" stroke-linejoin="round"/>
<use href="#r_anyang" fill="#fbf5bc" stroke="#fbf5bc" stroke-width="14" stroke-linejoin="round"/>
<use href="#r_xinxiang" fill="#fbf5bc" stroke="#fbf5bc" stroke-width="14" stroke-linejoin="round"/>
<use href="#r_hebi" fill="#f2a233" stroke="#f2a233" stroke-width="14" stroke-linejoin="round"/>
<use href="#r_g7a" fill="#fbf5bc" stroke="#fbf5bc" stroke-width="14" stroke-linejoin="round"/>
<use href="#r_g7b" fill="#fbf5bc" stroke="#fbf5bc" stroke-width="14" stroke-linejoin="round"/>
<use href="#r_gs_c2" fill="#f9c77f" stroke="#f9c77f" stroke-width="14" stroke-linejoin="round"/>
<use href="#r_dingxi" fill="#f9c77f" stroke="#f9c77f" stroke-width="14" stroke-linejoin="round"/>
<use href="#r_g6s" fill="#fbf5bc" stroke="#fbf5bc" stroke-width="14" stroke-linejoin="round"/>
<use href="#r_alxa" fill="#fbf5bc" stroke="#2e2400" stroke-opacity="0.5" stroke-width="1.5" stroke-linejoin="round"/>
<use href="#r_xinzhou" fill="#fbf5bc" stroke="#2e2400" stroke-opacity="0.5" stroke-width="1.5" stroke-linejoin="round"/>
<use href="#r_g2" fill="#f9c77f" stroke="#2e2400" stroke-opacity="0.5" stroke-width="1.5" stroke-linejoin="round"/>
<use href="#r_g3" fill="#f2a233" stroke="#2e2400" stroke-opacity="0.5" stroke-width="1.5" stroke-linejoin="round"/>
<use href="#r_g4" fill="#f9c77f" stroke="#2e2400" stroke-opacity="0.5" stroke-width="1.5" stroke-linejoin="round"/>
<use href="#r_g5" fill="#fbf5bc" stroke="#2e2400" stroke-opacity="0.5" stroke-width="1.5" stroke-linejoin="round"/>
<use href="#r_g6" fill="#fbf5bc" stroke="#2e2400" stroke-opacity="0.5" stroke-width="1.5" stroke-linejoin="round"/>
<use href="#r_bayannur" fill="#f9c77f" stroke="#2e2400" stroke-opacity="0.5" stroke-width="1.5" stroke-linejoin="round"/>
<use href="#r_baotou" fill="#f9c77f" stroke="#2e2400" stroke-opacity="0.5" stroke-width="1.5" stroke-linejoin="round"/>
<use href="#r_hohhot" fill="#f9c77f" stroke="#2e2400" stroke-opacity="0.5" stroke-width="1.5" stroke-linejoin="round"/>
<use href="#r_ulanqab" fill="#fbf5bc" stroke="#2e2400" stroke-opacity="0.5" stroke-width="1.5" stroke-linejoin="round"/>
<use href="#r_datong" fill="#fbf5bc" stroke="#2e2400" stroke-opacity="0.5" stroke-width="1.5" stroke-linejoin="round"/>
<use href="#r_shuozhou" fill="#fbf5bc" stroke="#2e2400" stroke-opacity="0.5" stroke-width="1.5" stroke-linejoin="round"/>
<use href="#r_ordos" fill="#f9c77f" stroke="#2e2400" stroke-opacity="0.5" stroke-width="1.5" stroke-linejoin="round"/>
<use href="#r_wuhai" fill="#f9c77f" stroke="#2e2400" stroke-opacity="0.5" stroke-width="1.5" stroke-linejoin="round"/>
<use href="#r_g10" fill="#fbf5bc" stroke="#2e2400" stroke-opacity="0.5" stroke-width="1.5" stroke-linejoin="round"/>
<use href="#r_g10s" fill="#f9c77f" stroke="#2e2400" stroke-opacity="0.5" stroke-width="1.5" stroke-linejoin="round"/>
<use href="#r_g11" fill="#fbf5bc" stroke="#2e2400" stroke-opacity="0.5" stroke-width="1.5" stroke-linejoin="round"/>
<use href="#r_g9" fill="#f9c77f" stroke="#2e2400" stroke-opacity="0.5" stroke-width="1.5" stroke-linejoin="round"/>
<use href="#r_g8" fill="#f2a233" stroke="#2e2400" stroke-opacity="0.5" stroke-width="1.5" stroke-linejoin="round"/>
<use href="#r_yulin" fill="#fbf5bc" stroke="#2e2400" stroke-opacity="0.5" stroke-width="1.5" stroke-linejoin="round"/>
<use href="#r_yanan" fill="#fbf5bc" stroke="#2e2400" stroke-opacity="0.5" stroke-width="1.5" stroke-linejoin="round"/>
<use href="#r_qingyang" fill="#f9c77f" stroke="#2e2400" stroke-opacity="0.5" stroke-width="1.5" stroke-linejoin="round"/>
<use href="#r_guyuan" fill="#f9c77f" stroke="#2e2400" stroke-opacity="0.5" stroke-width="1.5" stroke-linejoin="round"/>
<use href="#r_tongchuan" fill="#fbf5bc" stroke="#2e2400" stroke-opacity="0.5" stroke-width="1.5" stroke-linejoin="round"/>
<use href="#r_lvliang" fill="#f9c77f" stroke="#2e2400" stroke-opacity="0.5" stroke-width="1.5" stroke-linejoin="round"/>
<use href="#r_taiyuan" fill="#ee7c7a" stroke="#2e2400" stroke-opacity="0.5" stroke-width="1.5" stroke-linejoin="round"/>
<use href="#r_yangquan" fill="#fbf5bc" stroke="#2e2400" stroke-opacity="0.5" stroke-width="1.5" stroke-linejoin="round"/>
<use href="#r_jinzhong" fill="#fbf5bc" stroke="#2e2400" stroke-opacity="0.5" stroke-width="1.5" stroke-linejoin="round"/>
<use href="#r_changzhi" fill="#fbf5bc" stroke="#2e2400" stroke-opacity="0.5" stroke-width="1.5" stroke-linejoin="round"/>
<use href="#r_linfen" fill="#fbf5bc" stroke="#2e2400" stroke-opacity="0.5" stroke-width="1.5" stroke-linejoin="round"/>
<use href="#r_jincheng" fill="#fbf5bc" stroke="#2e2400" stroke-opacity="0.5" stroke-width="1.5" stroke-linejoin="round"/>
<use href="#r_yuncheng" fill="#fbf5bc" stroke="#2e2400" stroke-opacity="0.5" stroke-width="1.5" stroke-linejoin="round"/>
<use href="#r_jiyuan" fill="#ffffff" stroke="#2e2400" stroke-opacity="0.5" stroke-width="1.5" stroke-linejoin="round"/>
<use href="#r_pingliang" fill="#f9c77f" stroke="#2e2400" stroke-opacity="0.5" stroke-width="1.5" stroke-linejoin="round"/>
<use href="#r_xianyang" fill="#fbf5bc" stroke="#2e2400" stroke-opacity="0.5" stroke-width="1.5" stroke-linejoin="round"/>
<use href="#r_weinan_n" fill="#fbf5bc" stroke="#2e2400" stroke-opacity="0.5" stroke-width="1.5" stroke-linejoin="round"/>
<use href="#r_xian" fill="#ee7c7a" stroke="#2e2400" stroke-opacity="0.5" stroke-width="1.5" stroke-linejoin="round"/>
<use href="#r_weinan_e" fill="#fbf5bc" stroke="#2e2400" stroke-opacity="0.5" stroke-width="1.5" stroke-linejoin="round"/>
<use href="#r_shangluo_n" fill="#fbf5bc" stroke="#2e2400" stroke-opacity="0.5" stroke-width="1.5" stroke-linejoin="round"/>
<use href="#r_shangluo_s" fill="#f9c77f" stroke="#2e2400" stroke-opacity="0.5" stroke-width="1.5" stroke-linejoin="round"/>
<use href="#r_baoji" fill="#f9c77f" stroke="#2e2400" stroke-opacity="0.5" stroke-width="1.5" stroke-linejoin="round"/>
<use href="#r_sanmenxia" fill="#f9c77f" stroke="#2e2400" stroke-opacity="0.5" stroke-width="1.5" stroke-linejoin="round"/>
<use href="#r_luoyang" fill="#f9c77f" stroke="#2e2400" stroke-opacity="0.5" stroke-width="1.5" stroke-linejoin="round"/>
<use href="#r_zhengzhou" fill="#ee7c7a" stroke="#2e2400" stroke-opacity="0.5" stroke-width="1.5" stroke-linejoin="round"/>
<use href="#r_xuchang" fill="#ee7c7a" stroke="#2e2400" stroke-opacity="0.5" stroke-width="1.5" stroke-linejoin="round"/>
<use href="#r_pingdingshan" fill="#f9c77f" stroke="#2e2400" stroke-opacity="0.5" stroke-width="1.5" stroke-linejoin="round"/>
<use href="#r_nanyang" fill="#fbf5bc" stroke="#2e2400" stroke-opacity="0.5" stroke-width="1.5" stroke-linejoin="round"/>
<use href="#r_zhumadian" fill="#f2a233" stroke="#2e2400" stroke-opacity="0.5" stroke-width="1.5" stroke-linejoin="round"/>
<use href="#r_xinyang" fill="#f9c77f" stroke="#2e2400" stroke-opacity="0.5" stroke-width="1.5" stroke-linejoin="round"/>
<use href="#r_luohe" fill="#fbf5bc" stroke="#2e2400" stroke-opacity="0.5" stroke-width="1.5" stroke-linejoin="round"/>
<use href="#r_zhoukou" fill="#fbf5bc" stroke="#2e2400" stroke-opacity="0.5" stroke-width="1.5" stroke-linejoin="round"/>
<use href="#r_kaifeng" fill="#f9c77f" stroke="#2e2400" stroke-opacity="0.5" stroke-width="1.5" stroke-linejoin="round"/>
<use href="#r_heze" fill="#f2a233" stroke="#2e2400" stroke-opacity="0.5" stroke-width="1.5" stroke-linejoin="round"/>
<use href="#r_shangqiu" fill="#f9c77f" stroke="#2e2400" stroke-opacity="0.5" stroke-width="1.5" stroke-linejoin="round"/>
<use href="#r_jiaozuo" fill="#f9c77f" stroke="#2e2400" stroke-opacity="0.5" stroke-width="1.5" stroke-linejoin="round"/>
<use href="#r_dongying" fill="#f2a233" stroke="#2e2400" stroke-opacity="0.5" stroke-width="1.5" stroke-linejoin="round"/>
<use href="#r_binzhou" fill="#fbf5bc" stroke="#2e2400" stroke-opacity="0.5" stroke-width="1.5" stroke-linejoin="round"/>
<use href="#r_dezhou" fill="#f9c77f" stroke="#2e2400" stroke-opacity="0.5" stroke-width="1.5" stroke-linejoin="round"/>
<use href="#r_jinan_n" fill="#ee7c7a" stroke="#2e2400" stroke-opacity="0.5" stroke-width="1.5" stroke-linejoin="round"/>
<use href="#r_jinan_s" fill="#ee7c7a" stroke="#2e2400" stroke-opacity="0.5" stroke-width="1.5" stroke-linejoin="round"/>
<use href="#r_liaocheng" fill="#fbf5bc" stroke="#2e2400" stroke-opacity="0.5" stroke-width="1.5" stroke-linejoin="round"/>
<use href="#r_puyang" fill="#f2a233" stroke="#2e2400" stroke-opacity="0.5" stroke-width="1.5" stroke-linejoin="round"/>
<use href="#r_zibo" fill="#fbf5bc" stroke="#2e2400" stroke-opacity="0.5" stroke-width="1.5" stroke-linejoin="round"/>
<use href="#r_weifang" fill="#f9c77f" stroke="#2e2400" stroke-opacity="0.5" stroke-width="1.5" stroke-linejoin="round"/>
<use href="#r_qingdao" fill="#ee7c7a" stroke="#2e2400" stroke-opacity="0.5" stroke-width="1.5" stroke-linejoin="round"/>
<use href="#r_yantai" fill="#f2a233" stroke="#2e2400" stroke-opacity="0.5" stroke-width="1.5" stroke-linejoin="round"/>
<use href="#r_weihai" fill="#f2a233" stroke="#2e2400" stroke-opacity="0.5" stroke-width="1.5" stroke-linejoin="round"/>
<use href="#r_rizhao" fill="#f2a233" stroke="#2e2400" stroke-opacity="0.5" stroke-width="1.5" stroke-linejoin="round"/>
<use href="#r_linyi" fill="#fbf5bc" stroke="#2e2400" stroke-opacity="0.5" stroke-width="1.5" stroke-linejoin="round"/>
<use href="#r_taian" fill="#f9c77f" stroke="#2e2400" stroke-opacity="0.5" stroke-width="1.5" stroke-linejoin="round"/>
<use href="#r_jining" fill="#f9c77f" stroke="#2e2400" stroke-opacity="0.5" stroke-width="1.5" stroke-linejoin="round"/>
<use href="#r_zaozhuang" fill="#f9c77f" stroke="#2e2400" stroke-opacity="0.5" stroke-width="1.5" stroke-linejoin="round"/>
<use href="#r_anyang" fill="#fbf5bc" stroke="#2e2400" stroke-opacity="0.5" stroke-width="1.5" stroke-linejoin="round"/>
<use href="#r_xinxiang" fill="#fbf5bc" stroke="#2e2400" stroke-opacity="0.5" stroke-width="1.5" stroke-linejoin="round"/>
<use href="#r_hebi" fill="#f2a233" stroke="#2e2400" stroke-opacity="0.5" stroke-width="1.5" stroke-linejoin="round"/>
<use href="#r_g7a" fill="#fbf5bc" stroke="#2e2400" stroke-opacity="0.5" stroke-width="1.5" stroke-linejoin="round"/>
<use href="#r_g7b" fill="#fbf5bc" stroke="#2e2400" stroke-opacity="0.5" stroke-width="1.5" stroke-linejoin="round"/>
<use href="#r_linxia" fill="#fbf5bc" stroke="#2e2400" stroke-opacity="0.5" stroke-width="1.5" stroke-linejoin="round"/>
<use href="#r_gs_c2" fill="#f9c77f" stroke="#2e2400" stroke-opacity="0.5" stroke-width="1.5" stroke-linejoin="round"/>
<use href="#r_dingxi" fill="#f9c77f" stroke="#2e2400" stroke-opacity="0.5" stroke-width="1.5" stroke-linejoin="round"/>
<use href="#r_longnan" fill="#f9c77f" stroke="#2e2400" stroke-opacity="0.5" stroke-width="1.5" stroke-linejoin="round"/>
<use href="#r_g1b" fill="#f9c77f" stroke="#2e2400" stroke-opacity="0.5" stroke-width="1.5" stroke-linejoin="round"/>
<use href="#r_g1a" fill="#f9c77f" stroke="#2e2400" stroke-opacity="0.5" stroke-width="1.5" stroke-linejoin="round"/>
<use href="#r_g6s" fill="#fbf5bc" stroke="#2e2400" stroke-opacity="0.5" stroke-width="1.5" stroke-linejoin="round"/>
</g>
<use href="#rv" fill="none" stroke="#4a68b8" stroke-width="3.4" stroke-linejoin="round" stroke-linecap="round"/>
<use href="#rvs" fill="none" stroke="#4a68b8" stroke-width="3" stroke-linejoin="round" stroke-linecap="round"/>
<use href="#rvt" fill="none" stroke="#4a68b8" stroke-width="5" stroke-linejoin="round" stroke-linecap="round"/>
<use href="#ol" fill="none" stroke="#1c1a18" stroke-width="3.2" stroke-linejoin="round"/>
<use href="#olt" fill="none" stroke="#1c1a18" stroke-width="4.8" stroke-linejoin="round" stroke-linecap="round"/>
<use href="#spike" fill="#1c1a18"/>
</g>
<g transform="translate(1777.8,-0.96) scale(1.0045)">
<g clip-path="url(#cp)">
<path d="M1139.5,14.0 1141.0,13.0 1143.0,14.0 1149.5,18.5 1150.0,19.0 1149.0,19.0 1141.0,15.0 1140.0,14.5Z" fill="#f9c77f"/>
<path d="M889.0,167.0 889.0,166.0 967.0,145.5 967.5,145.5 967.0,146.0 915.0,193.5Z" fill="#f9c77f"/>
<path d="M1054.0,166.5 1050.5,166.5 1045.5,166.0 1034.5,165.0 1025.0,160.0 1022.0,159.0 1023.5,159.0Z" fill="#f9c77f"/>
<path d="M1220.0,179.5 1218.5,179.5 1213.5,179.0 1208.0,176.0 1213.0,176.0 1218.5,179.0Z" fill="#f9c77f"/>
<path d="M913.0,221.0 913.0,220.5 915.5,210.5 918.0,210.0 920.0,209.0 920.0,221.0Z" fill="#f9c77f"/>
<path d="M906.0,261.5 906.0,260.5 908.0,254.5 908.5,251.5 916.5,245.5 916.5,246.0Z" fill="#f9c77f"/>
<path d="M876.0,249.0 876.5,247.5 877.5,247.5 882.0,249.0 884.0,250.5 876.0,250.5Z" fill="#f9c77f"/>
<path d="M770.5,256.5 755.0,280.0 754.5,279.5 751.5,272.5 751.5,272.0 752.5,271.0 762.5,262.5 770.0,256.5Z" fill="#ee7c7a"/>
<path d="M1272.0,266.5 1271.5,266.5 1270.5,265.0 1270.0,264.0 1273.0,260.5 1281.5,257.5 1282.0,257.5 1280.5,259.0 1277.0,264.0Z" fill="#fbf5bc"/>
<path d="M870.0,283.5 870.0,280.0 870.5,277.5 871.0,277.5 877.0,281.5Z" fill="#f9c77f"/>
<path d="M887.5,290.0 887.5,284.0 894.0,279.5 897.0,278.0 897.0,278.5 893.5,285.0Z" fill="#f2a233"/>
<path d="M1464.5,289.5 1476.0,280.5 1476.0,281.0 1475.5,282.5 1474.0,287.5 1466.0,289.5Z" fill="#f9c77f"/>
<path d="M1506.0,287.0 1506.0,280.5 1512.5,282.0 1513.0,283.5Z" fill="#ee7c7a"/>
<path d="M683.5,287.0 683.5,294.0 682.0,294.0 677.0,293.5 674.5,293.0 677.0,289.5 682.5,287.5Z" fill="#f2a233"/>
<path d="M1423.5,299.0 1425.0,299.0 1425.0,299.5 1423.5,301.5 1423.0,302.0 1417.0,306.0 1413.5,307.5 1413.0,307.5 1414.0,306.5 1422.0,300.0Z" fill="#f9c77f"/>
<path d="M1504.5,315.5 1504.5,318.0 1502.0,319.5 1493.0,323.5 1492.5,323.5 1501.5,311.0 1502.5,310.0 1503.5,312.5Z" fill="#fbf5bc"/>
<path d="M789.0,319.0 810.5,311.5 817.5,311.0 819.0,311.0 816.0,312.0 794.5,320.0 792.5,320.5 791.0,320.0Z" fill="#ee7c7a"/>
<path d="M1548.5,315.0 1549.5,311.5 1555.5,311.5 1553.5,312.5 1549.0,315.5 1548.5,315.5Z" fill="#ee7c7a"/>
<path d="M1583.5,333.0 1577.0,343.0 1551.0,332.0 1541.0,325.0 1541.5,324.0 1543.0,321.5 1546.0,317.0Z" fill="#f2a233"/>
<path d="M1462.0,329.0 1469.0,336.0 1466.0,336.0 1464.5,335.5 1462.5,331.0 1462.0,329.5Z" fill="#fbf5bc"/>
<path d="M844.5,353.5 844.5,354.0 844.0,354.5 843.0,354.0 831.0,346.0 829.5,344.5 824.5,336.5 820.0,331.0 822.0,331.0 823.0,331.5 824.5,332.5 828.0,335.0 830.5,337.5 843.0,351.5Z" fill="#ee7c7a"/>
<path d="M750.0,342.5 751.0,342.5 746.5,347.5 737.0,347.5 738.5,347.0 746.0,343.5Z" fill="#ee7c7a"/>
<path d="M1104.5,359.0 1104.5,356.0 1105.0,345.0 1105.5,342.5 1106.0,343.5 1109.5,347.5 1110.0,351.0 1110.0,352.0Z" fill="#fbf5bc"/>
<path d="M968.0,343.0 968.5,343.0 968.0,346.5 963.0,347.5 962.5,347.5 963.0,347.0Z" fill="#fbf5bc"/>
<path d="M1265.5,356.0 1285.5,344.0 1285.5,345.5 1285.0,347.0 1284.0,348.0 1271.5,359.0 1270.0,359.0Z" fill="#f9c77f"/>
<path d="M850.0,371.0 848.5,371.0 840.5,361.0 840.0,360.0 840.0,359.5 840.5,359.0Z" fill="#f2a233"/>
<path d="M1414.5,375.5 1414.5,375.0 1416.5,370.0 1419.0,369.5 1421.0,368.5 1421.5,368.5Z" fill="#ee7c7a"/>
<path d="M1361.5,388.0 1361.5,389.0 1355.5,386.0 1355.0,385.5 1352.0,371.5 1352.0,370.5 1354.0,373.0 1355.5,375.0 1358.5,376.5 1359.0,377.5 1359.5,381.0 1361.0,386.0Z" fill="#fbf5bc"/>
<path d="M870.0,386.5 847.5,399.5 847.0,399.0 847.0,382.5 849.0,376.0 850.0,373.0 850.5,372.0Z" fill="#f2a233"/>
<path d="M1643.5,380.0 1644.5,378.5 1649.0,373.5 1650.0,372.5 1650.5,372.5 1651.0,373.0 1651.0,374.0 1649.5,377.5 1645.5,379.0 1644.0,380.0Z" fill="#ee7c7a"/>
<path d="M1331.0,385.0 1326.0,385.0 1323.5,384.5 1314.5,381.0 1317.0,381.0Z" fill="#fbf5bc"/>
<path d="M1267.5,413.5 1268.5,408.5 1269.5,402.0 1275.0,386.5 1275.5,388.5 1277.5,399.5 1278.5,407.5 1278.5,408.5 1277.0,409.5 1268.0,413.5Z" fill="#fbf5bc"/>
<path d="M1627.5,394.0 1628.0,394.0 1625.0,399.5 1621.5,401.0 1618.0,401.0 1618.5,400.5 1621.5,396.5Z" fill="#ee7c7a"/>
<path d="M785.0,414.5 783.5,414.0 799.5,398.0 802.5,396.0 803.0,396.0 801.5,398.0 797.5,403.0 786.0,414.5Z" fill="#fbf5bc"/>
<path d="M1101.0,409.0 1113.0,397.0 1115.0,403.0 1116.5,410.0 1116.5,411.0 1114.0,411.0 1103.0,409.5Z" fill="#fbf5bc"/>
<path d="M1579.5,403.5 1579.0,403.5 1576.0,403.0 1573.5,399.5 1575.0,399.0 1580.5,398.0 1581.0,398.0 1581.0,398.5Z" fill="#f2a233"/>
<path d="M1382.0,398.5 1382.5,398.5 1381.5,399.5 1378.5,402.0 1357.5,419.5 1355.5,421.0 1349.5,425.0 1344.0,428.5 1343.5,428.5 1347.5,424.5 1377.5,401.5Z" fill="#f2a233"/>
<path d="M1186.5,424.5 1179.0,418.0 1181.0,415.0 1185.0,413.5 1185.5,414.0 1186.5,422.0Z" fill="#f9c77f"/>
<path d="M1013.5,429.0 1014.0,424.0 1015.5,416.0 1016.0,417.0 1019.5,421.5 1021.5,430.0 1021.5,430.5 1020.0,433.5 1015.0,438.5 1014.5,437.0 1013.5,431.0Z" fill="#f2a233"/>
<path d="M1061.0,427.5 1059.5,427.5 1058.5,422.0 1058.0,420.0 1060.5,420.0 1073.0,421.5 1076.0,422.0 1070.5,425.5Z" fill="#fbf5bc"/>
<path d="M1051.5,438.5 1051.5,438.0 1052.5,434.0 1056.5,432.0 1056.5,432.5 1055.5,434.0 1052.0,438.0Z" fill="#f2a233"/>
<path d="M1225.0,441.5 1225.0,440.5 1225.5,439.0 1231.5,436.0 1232.0,436.0 1230.5,437.5 1226.5,441.0 1225.5,441.5Z" fill="#f9c77f"/>
<path d="M1097.5,444.0 1102.5,439.0 1102.5,439.5 1097.5,447.5Z" fill="#fbf5bc"/>
<path d="M898.5,468.0 905.0,442.5 905.5,442.5 909.5,444.5 909.5,445.0 907.5,451.5 905.0,461.0 899.0,469.0 898.5,468.5Z" fill="#f9c77f"/>
<path d="M1024.5,452.5 1037.5,452.5 1028.0,457.5 1027.0,457.5 1026.5,457.0Z" fill="#f2a233"/>
<path d="M1294.5,475.5 1294.5,483.5 1293.0,483.5 1288.5,483.0 1281.5,481.5 1284.0,478.5 1294.0,475.5Z" fill="#ee7c7a"/>
<path d="M1302.5,487.0 1306.0,487.0 1306.0,503.0 1305.5,499.0 1302.5,488.5Z" fill="#ee7c7a"/>
<path d="M905.5,506.0 905.5,490.0 909.0,488.5 909.5,488.5 909.5,490.0 906.0,507.0Z" fill="#f9c77f"/>
<path d="M1304.0,511.0 1299.0,506.0 1300.0,506.0 1306.0,509.5 1305.0,510.5Z" fill="#ee7c7a"/>
<path d="M907.5,514.5 909.5,514.5 901.5,516.5 889.0,521.0 878.0,523.0 875.5,523.0 878.0,521.0 879.5,520.0Z" fill="#f9c77f"/>
<path d="M1133.0,517.0 1140.5,517.0 1138.5,523.0 1134.5,521.0Z" fill="#f2a233"/>
<path d="M1260.5,538.0 1260.5,530.5 1261.0,529.5 1263.5,524.0 1267.0,522.0 1268.0,522.0 1278.0,526.0Z" fill="#f2a233"/>
<path d="M1302.5,527.5 1288.5,522.5 1295.5,522.0 1303.5,522.0 1303.5,527.5Z" fill="#f9c77f"/>
<path d="M874.5,527.0 871.0,528.5 870.5,527.5 870.5,527.0 871.0,526.5 875.5,522.5 876.0,522.5 876.0,523.0Z" fill="#f9c77f"/>
<path d="M877.0,540.0 877.0,554.0 873.5,552.0 872.5,550.5 872.5,549.5 873.5,542.5 876.0,540.5 876.5,539.0Z" fill="#f9c77f"/>
<path d="M1096.0,556.5 1094.5,556.5 1088.5,555.0 1081.0,553.5 1080.5,553.0 1078.5,548.0 1078.0,547.0 1078.0,546.5 1079.0,546.5Z" fill="#f9c77f"/>
<path d="M1374.0,576.5 1349.5,565.5 1349.0,565.0 1336.5,548.0 1337.0,548.0 1345.0,551.0 1379.5,572.0 1378.0,573.5 1375.5,575.5Z" fill="#f2a233"/>
<path d="M1273.0,566.0 1278.0,566.0 1278.0,573.0 1277.5,572.5 1274.5,571.0 1273.0,566.5Z" fill="#f2a233"/>
<use href="#r_xinzhou" fill="#fbf5bc" stroke="#fbf5bc" stroke-width="14" stroke-linejoin="round"/>
<use href="#r_bayannur" fill="#f9c77f" stroke="#f9c77f" stroke-width="14" stroke-linejoin="round"/>
<use href="#r_baotou" fill="#f9c77f" stroke="#f9c77f" stroke-width="14" stroke-linejoin="round"/>
<use href="#r_hohhot" fill="#f9c77f" stroke="#f9c77f" stroke-width="14" stroke-linejoin="round"/>
<use href="#r_ulanqab" fill="#f9c77f" stroke="#f9c77f" stroke-width="14" stroke-linejoin="round"/>
<use href="#r_datong" fill="#fbf5bc" stroke="#fbf5bc" stroke-width="14" stroke-linejoin="round"/>
<use href="#r_shuozhou" fill="#fbf5bc" stroke="#fbf5bc" stroke-width="14" stroke-linejoin="round"/>
<use href="#r_ordos" fill="#f9c77f" stroke="#f9c77f" stroke-width="14" stroke-linejoin="round"/>
<use href="#r_wuhai" fill="#f9c77f" stroke="#f9c77f" stroke-width="14" stroke-linejoin="round"/>
<use href="#r_g10" fill="#f9c77f" stroke="#f9c77f" stroke-width="14" stroke-linejoin="round"/>
<use href="#r_g10s" fill="#f9c77f" stroke="#f9c77f" stroke-width="14" stroke-linejoin="round"/>
<use href="#r_g11" fill="#f9c77f" stroke="#f9c77f" stroke-width="14" stroke-linejoin="round"/>
<use href="#r_g9" fill="#f2a233" stroke="#f2a233" stroke-width="14" stroke-linejoin="round"/>
<use href="#r_g8" fill="#ee7c7a" stroke="#ee7c7a" stroke-width="14" stroke-linejoin="round"/>
<use href="#r_yulin" fill="#fbf5bc" stroke="#fbf5bc" stroke-width="14" stroke-linejoin="round"/>
<use href="#r_yanan" fill="#fbf5bc" stroke="#fbf5bc" stroke-width="14" stroke-linejoin="round"/>
<use href="#r_qingyang" fill="#f9c77f" stroke="#f9c77f" stroke-width="14" stroke-linejoin="round"/>
<use href="#r_guyuan" fill="#f9c77f" stroke="#f9c77f" stroke-width="14" stroke-linejoin="round"/>
<use href="#r_tongchuan" fill="#f2a233" stroke="#f2a233" stroke-width="14" stroke-linejoin="round"/>
<use href="#r_lvliang" fill="#f2a233" stroke="#f2a233" stroke-width="14" stroke-linejoin="round"/>
<use href="#r_taiyuan" fill="#ee7c7a" stroke="#ee7c7a" stroke-width="14" stroke-linejoin="round"/>
<use href="#r_yangquan" fill="#f2a233" stroke="#f2a233" stroke-width="14" stroke-linejoin="round"/>
<use href="#r_jinzhong" fill="#f9c77f" stroke="#f9c77f" stroke-width="14" stroke-linejoin="round"/>
<use href="#r_changzhi" fill="#f9c77f" stroke="#f9c77f" stroke-width="14" stroke-linejoin="round"/>
<use href="#r_linfen" fill="#fbf5bc" stroke="#fbf5bc" stroke-width="14" stroke-linejoin="round"/>
<use href="#r_jincheng" fill="#f9c77f" stroke="#f9c77f" stroke-width="14" stroke-linejoin="round"/>
<use href="#r_yuncheng" fill="#fbf5bc" stroke="#fbf5bc" stroke-width="14" stroke-linejoin="round"/>
<use href="#r_pingliang" fill="#f2a233" stroke="#f2a233" stroke-width="14" stroke-linejoin="round"/>
<use href="#r_xianyang" fill="#f9c77f" stroke="#f9c77f" stroke-width="14" stroke-linejoin="round"/>
<use href="#r_weinan_n" fill="#f9c77f" stroke="#f9c77f" stroke-width="14" stroke-linejoin="round"/>
<use href="#r_xian" fill="#ee7c7a" stroke="#ee7c7a" stroke-width="14" stroke-linejoin="round"/>
<use href="#r_weinan_e" fill="#fbf5bc" stroke="#fbf5bc" stroke-width="14" stroke-linejoin="round"/>
<use href="#r_shangluo_n" fill="#f9c77f" stroke="#f9c77f" stroke-width="14" stroke-linejoin="round"/>
<use href="#r_shangluo_s" fill="#f9c77f" stroke="#f9c77f" stroke-width="14" stroke-linejoin="round"/>
<use href="#r_baoji" fill="#f9c77f" stroke="#f9c77f" stroke-width="14" stroke-linejoin="round"/>
<use href="#r_sanmenxia" fill="#f2a233" stroke="#f2a233" stroke-width="14" stroke-linejoin="round"/>
<use href="#r_luoyang" fill="#f2a233" stroke="#f2a233" stroke-width="14" stroke-linejoin="round"/>
<use href="#r_zhengzhou" fill="#ee7c7a" stroke="#ee7c7a" stroke-width="14" stroke-linejoin="round"/>
<use href="#r_xuchang" fill="#ee7c7a" stroke="#ee7c7a" stroke-width="14" stroke-linejoin="round"/>
<use href="#r_pingdingshan" fill="#f9c77f" stroke="#f9c77f" stroke-width="14" stroke-linejoin="round"/>
<use href="#r_nanyang" fill="#f2a233" stroke="#f2a233" stroke-width="14" stroke-linejoin="round"/>
<use href="#r_zhumadian" fill="#f2a233" stroke="#f2a233" stroke-width="14" stroke-linejoin="round"/>
<use href="#r_xinyang" fill="#f2a233" stroke="#f2a233" stroke-width="14" stroke-linejoin="round"/>
<use href="#r_luohe" fill="#f9c77f" stroke="#f9c77f" stroke-width="14" stroke-linejoin="round"/>
<use href="#r_zhoukou" fill="#f2a233" stroke="#f2a233" stroke-width="14" stroke-linejoin="round"/>
<use href="#r_kaifeng" fill="#f9c77f" stroke="#f9c77f" stroke-width="14" stroke-linejoin="round"/>
<use href="#r_heze" fill="#f2a233" stroke="#f2a233" stroke-width="14" stroke-linejoin="round"/>
<use href="#r_shangqiu" fill="#f9c77f" stroke="#f9c77f" stroke-width="14" stroke-linejoin="round"/>
<use href="#r_jiaozuo" fill="#f9c77f" stroke="#f9c77f" stroke-width="14" stroke-linejoin="round"/>
<use href="#r_dongying" fill="#ee7c7a" stroke="#ee7c7a" stroke-width="14" stroke-linejoin="round"/>
<use href="#r_binzhou" fill="#fbf5bc" stroke="#fbf5bc" stroke-width="14" stroke-linejoin="round"/>
<use href="#r_dezhou" fill="#f9c77f" stroke="#f9c77f" stroke-width="14" stroke-linejoin="round"/>
<use href="#r_jinan_n" fill="#ee7c7a" stroke="#ee7c7a" stroke-width="14" stroke-linejoin="round"/>
<use href="#r_jinan_s" fill="#ee7c7a" stroke="#ee7c7a" stroke-width="14" stroke-linejoin="round"/>
<use href="#r_liaocheng" fill="#fbf5bc" stroke="#fbf5bc" stroke-width="14" stroke-linejoin="round"/>
<use href="#r_puyang" fill="#f2a233" stroke="#f2a233" stroke-width="14" stroke-linejoin="round"/>
<use href="#r_zibo" fill="#f9c77f" stroke="#f9c77f" stroke-width="14" stroke-linejoin="round"/>
<use href="#r_weifang" fill="#f2a233" stroke="#f2a233" stroke-width="14" stroke-linejoin="round"/>
<use href="#r_qingdao" fill="#ee7c7a" stroke="#ee7c7a" stroke-width="14" stroke-linejoin="round"/>
<use href="#r_yantai" fill="#ee7c7a" stroke="#ee7c7a" stroke-width="14" stroke-linejoin="round"/>
<use href="#r_weihai" fill="#f2a233" stroke="#f2a233" stroke-width="14" stroke-linejoin="round"/>
<use href="#r_rizhao" fill="#ee7c7a" stroke="#ee7c7a" stroke-width="14" stroke-linejoin="round"/>
<use href="#r_linyi" fill="#f9c77f" stroke="#f9c77f" stroke-width="14" stroke-linejoin="round"/>
<use href="#r_taian" fill="#f9c77f" stroke="#f9c77f" stroke-width="14" stroke-linejoin="round"/>
<use href="#r_jining" fill="#f2a233" stroke="#f2a233" stroke-width="14" stroke-linejoin="round"/>
<use href="#r_zaozhuang" fill="#f9c77f" stroke="#f9c77f" stroke-width="14" stroke-linejoin="round"/>
<use href="#r_anyang" fill="#fbf5bc" stroke="#fbf5bc" stroke-width="14" stroke-linejoin="round"/>
<use href="#r_xinxiang" fill="#f9c77f" stroke="#f9c77f" stroke-width="14" stroke-linejoin="round"/>
<use href="#r_hebi" fill="#ee7c7a" stroke="#ee7c7a" stroke-width="14" stroke-linejoin="round"/>
<use href="#r_g7a" fill="#f2a233" stroke="#f2a233" stroke-width="14" stroke-linejoin="round"/>
<use href="#r_g7b" fill="#f2a233" stroke="#f2a233" stroke-width="14" stroke-linejoin="round"/>
<use href="#r_gs_c2" fill="#f2a233" stroke="#f2a233" stroke-width="14" stroke-linejoin="round"/>
<use href="#r_dingxi" fill="#f9c77f" stroke="#f9c77f" stroke-width="14" stroke-linejoin="round"/>
<use href="#r_g6s" fill="#fbf5bc" stroke="#fbf5bc" stroke-width="14" stroke-linejoin="round"/>
<use href="#r_alxa" fill="#fbf5bc" stroke="#2e2400" stroke-opacity="0.5" stroke-width="1.5" stroke-linejoin="round"/>
<use href="#r_xinzhou" fill="#fbf5bc" stroke="#2e2400" stroke-opacity="0.5" stroke-width="1.5" stroke-linejoin="round"/>
<use href="#r_g2" fill="#f2a233" stroke="#2e2400" stroke-opacity="0.5" stroke-width="1.5" stroke-linejoin="round"/>
<use href="#r_g3" fill="#f2a233" stroke="#2e2400" stroke-opacity="0.5" stroke-width="1.5" stroke-linejoin="round"/>
<use href="#r_g4" fill="#ee7c7a" stroke="#2e2400" stroke-opacity="0.5" stroke-width="1.5" stroke-linejoin="round"/>
<use href="#r_g5" fill="#fbf5bc" stroke="#2e2400" stroke-opacity="0.5" stroke-width="1.5" stroke-linejoin="round"/>
<use href="#r_g6" fill="#fbf5bc" stroke="#2e2400" stroke-opacity="0.5" stroke-width="1.5" stroke-linejoin="round"/>
<use href="#r_bayannur" fill="#f9c77f" stroke="#2e2400" stroke-opacity="0.5" stroke-width="1.5" stroke-linejoin="round"/>
<use href="#r_baotou" fill="#f9c77f" stroke="#2e2400" stroke-opacity="0.5" stroke-width="1.5" stroke-linejoin="round"/>
<use href="#r_hohhot" fill="#f9c77f" stroke="#2e2400" stroke-opacity="0.5" stroke-width="1.5" stroke-linejoin="round"/>
<use href="#r_ulanqab" fill="#f9c77f" stroke="#2e2400" stroke-opacity="0.5" stroke-width="1.5" stroke-linejoin="round"/>
<use href="#r_datong" fill="#fbf5bc" stroke="#2e2400" stroke-opacity="0.5" stroke-width="1.5" stroke-linejoin="round"/>
<use href="#r_shuozhou" fill="#fbf5bc" stroke="#2e2400" stroke-opacity="0.5" stroke-width="1.5" stroke-linejoin="round"/>
<use href="#r_ordos" fill="#f9c77f" stroke="#2e2400" stroke-opacity="0.5" stroke-width="1.5" stroke-linejoin="round"/>
<use href="#r_wuhai" fill="#f9c77f" stroke="#2e2400" stroke-opacity="0.5" stroke-width="1.5" stroke-linejoin="round"/>
<use href="#r_g10" fill="#f9c77f" stroke="#2e2400" stroke-opacity="0.5" stroke-width="1.5" stroke-linejoin="round"/>
<use href="#r_g10s" fill="#f9c77f" stroke="#2e2400" stroke-opacity="0.5" stroke-width="1.5" stroke-linejoin="round"/>
<use href="#r_g11" fill="#f9c77f" stroke="#2e2400" stroke-opacity="0.5" stroke-width="1.5" stroke-linejoin="round"/>
<use href="#r_g9" fill="#f2a233" stroke="#2e2400" stroke-opacity="0.5" stroke-width="1.5" stroke-linejoin="round"/>
<use href="#r_g8" fill="#ee7c7a" stroke="#2e2400" stroke-opacity="0.5" stroke-width="1.5" stroke-linejoin="round"/>
<use href="#r_yulin" fill="#fbf5bc" stroke="#2e2400" stroke-opacity="0.5" stroke-width="1.5" stroke-linejoin="round"/>
<use href="#r_yanan" fill="#fbf5bc" stroke="#2e2400" stroke-opacity="0.5" stroke-width="1.5" stroke-linejoin="round"/>
<use href="#r_qingyang" fill="#f9c77f" stroke="#2e2400" stroke-opacity="0.5" stroke-width="1.5" stroke-linejoin="round"/>
<use href="#r_guyuan" fill="#f9c77f" stroke="#2e2400" stroke-opacity="0.5" stroke-width="1.5" stroke-linejoin="round"/>
<use href="#r_tongchuan" fill="#f2a233" stroke="#2e2400" stroke-opacity="0.5" stroke-width="1.5" stroke-linejoin="round"/>
<use href="#r_lvliang" fill="#f2a233" stroke="#2e2400" stroke-opacity="0.5" stroke-width="1.5" stroke-linejoin="round"/>
<use href="#r_taiyuan" fill="#ee7c7a" stroke="#2e2400" stroke-opacity="0.5" stroke-width="1.5" stroke-linejoin="round"/>
<use href="#r_yangquan" fill="#f2a233" stroke="#2e2400" stroke-opacity="0.5" stroke-width="1.5" stroke-linejoin="round"/>
<use href="#r_jinzhong" fill="#f9c77f" stroke="#2e2400" stroke-opacity="0.5" stroke-width="1.5" stroke-linejoin="round"/>
<use href="#r_changzhi" fill="#f9c77f" stroke="#2e2400" stroke-opacity="0.5" stroke-width="1.5" stroke-linejoin="round"/>
<use href="#r_linfen" fill="#fbf5bc" stroke="#2e2400" stroke-opacity="0.5" stroke-width="1.5" stroke-linejoin="round"/>
<use href="#r_jincheng" fill="#f9c77f" stroke="#2e2400" stroke-opacity="0.5" stroke-width="1.5" stroke-linejoin="round"/>
<use href="#r_yuncheng" fill="#fbf5bc" stroke="#2e2400" stroke-opacity="0.5" stroke-width="1.5" stroke-linejoin="round"/>
<use href="#r_jiyuan" fill="#ffffff" stroke="#2e2400" stroke-opacity="0.5" stroke-width="1.5" stroke-linejoin="round"/>
<use href="#r_pingliang" fill="#f2a233" stroke="#2e2400" stroke-opacity="0.5" stroke-width="1.5" stroke-linejoin="round"/>
<use href="#r_xianyang" fill="#f9c77f" stroke="#2e2400" stroke-opacity="0.5" stroke-width="1.5" stroke-linejoin="round"/>
<use href="#r_weinan_n" fill="#f9c77f" stroke="#2e2400" stroke-opacity="0.5" stroke-width="1.5" stroke-linejoin="round"/>
<use href="#r_xian" fill="#ee7c7a" stroke="#2e2400" stroke-opacity="0.5" stroke-width="1.5" stroke-linejoin="round"/>
<use href="#r_weinan_e" fill="#fbf5bc" stroke="#2e2400" stroke-opacity="0.5" stroke-width="1.5" stroke-linejoin="round"/>
<use href="#r_shangluo_n" fill="#f9c77f" stroke="#2e2400" stroke-opacity="0.5" stroke-width="1.5" stroke-linejoin="round"/>
<use href="#r_shangluo_s" fill="#f9c77f" stroke="#2e2400" stroke-opacity="0.5" stroke-width="1.5" stroke-linejoin="round"/>
<use href="#r_baoji" fill="#f9c77f" stroke="#2e2400" stroke-opacity="0.5" stroke-width="1.5" stroke-linejoin="round"/>
<use href="#r_sanmenxia" fill="#f2a233" stroke="#2e2400" stroke-opacity="0.5" stroke-width="1.5" stroke-linejoin="round"/>
<use href="#r_luoyang" fill="#f2a233" stroke="#2e2400" stroke-opacity="0.5" stroke-width="1.5" stroke-linejoin="round"/>
<use href="#r_zhengzhou" fill="#ee7c7a" stroke="#2e2400" stroke-opacity="0.5" stroke-width="1.5" stroke-linejoin="round"/>
<use href="#r_xuchang" fill="#ee7c7a" stroke="#2e2400" stroke-opacity="0.5" stroke-width="1.5" stroke-linejoin="round"/>
<use href="#r_pingdingshan" fill="#f9c77f" stroke="#2e2400" stroke-opacity="0.5" stroke-width="1.5" stroke-linejoin="round"/>
<use href="#r_nanyang" fill="#f2a233" stroke="#2e2400" stroke-opacity="0.5" stroke-width="1.5" stroke-linejoin="round"/>
<use href="#r_zhumadian" fill="#f2a233" stroke="#2e2400" stroke-opacity="0.5" stroke-width="1.5" stroke-linejoin="round"/>
<use href="#r_xinyang" fill="#f2a233" stroke="#2e2400" stroke-opacity="0.5" stroke-width="1.5" stroke-linejoin="round"/>
<use href="#r_luohe" fill="#f9c77f" stroke="#2e2400" stroke-opacity="0.5" stroke-width="1.5" stroke-linejoin="round"/>
<use href="#r_zhoukou" fill="#f2a233" stroke="#2e2400" stroke-opacity="0.5" stroke-width="1.5" stroke-linejoin="round"/>
<use href="#r_kaifeng" fill="#f9c77f" stroke="#2e2400" stroke-opacity="0.5" stroke-width="1.5" stroke-linejoin="round"/>
<use href="#r_heze" fill="#f2a233" stroke="#2e2400" stroke-opacity="0.5" stroke-width="1.5" stroke-linejoin="round"/>
<use href="#r_shangqiu" fill="#f9c77f" stroke="#2e2400" stroke-opacity="0.5" stroke-width="1.5" stroke-linejoin="round"/>
<use href="#r_jiaozuo" fill="#f9c77f" stroke="#2e2400" stroke-opacity="0.5" stroke-width="1.5" stroke-linejoin="round"/>
<use href="#r_dongying" fill="#ee7c7a" stroke="#2e2400" stroke-opacity="0.5" stroke-width="1.5" stroke-linejoin="round"/>
<use href="#r_binzhou" fill="#fbf5bc" stroke="#2e2400" stroke-opacity="0.5" stroke-width="1.5" stroke-linejoin="round"/>
<use href="#r_dezhou" fill="#f9c77f" stroke="#2e2400" stroke-opacity="0.5" stroke-width="1.5" stroke-linejoin="round"/>
<use href="#r_jinan_n" fill="#ee7c7a" stroke="#2e2400" stroke-opacity="0.5" stroke-width="1.5" stroke-linejoin="round"/>
<use href="#r_jinan_s" fill="#ee7c7a" stroke="#2e2400" stroke-opacity="0.5" stroke-width="1.5" stroke-linejoin="round"/>
<use href="#r_liaocheng" fill="#fbf5bc" stroke="#2e2400" stroke-opacity="0.5" stroke-width="1.5" stroke-linejoin="round"/>
<use href="#r_puyang" fill="#f2a233" stroke="#2e2400" stroke-opacity="0.5" stroke-width="1.5" stroke-linejoin="round"/>
<use href="#r_zibo" fill="#f9c77f" stroke="#2e2400" stroke-opacity="0.5" stroke-width="1.5" stroke-linejoin="round"/>
<use href="#r_weifang" fill="#f2a233" stroke="#2e2400" stroke-opacity="0.5" stroke-width="1.5" stroke-linejoin="round"/>
<use href="#r_qingdao" fill="#ee7c7a" stroke="#2e2400" stroke-opacity="0.5" stroke-width="1.5" stroke-linejoin="round"/>
<use href="#r_yantai" fill="#ee7c7a" stroke="#2e2400" stroke-opacity="0.5" stroke-width="1.5" stroke-linejoin="round"/>
<use href="#r_weihai" fill="#f2a233" stroke="#2e2400" stroke-opacity="0.5" stroke-width="1.5" stroke-linejoin="round"/>
<use href="#r_rizhao" fill="#ee7c7a" stroke="#2e2400" stroke-opacity="0.5" stroke-width="1.5" stroke-linejoin="round"/>
<use href="#r_linyi" fill="#f9c77f" stroke="#2e2400" stroke-opacity="0.5" stroke-width="1.5" stroke-linejoin="round"/>
<use href="#r_taian" fill="#f9c77f" stroke="#2e2400" stroke-opacity="0.5" stroke-width="1.5" stroke-linejoin="round"/>
<use href="#r_jining" fill="#f2a233" stroke="#2e2400" stroke-opacity="0.5" stroke-width="1.5" stroke-linejoin="round"/>
<use href="#r_zaozhuang" fill="#f9c77f" stroke="#2e2400" stroke-opacity="0.5" stroke-width="1.5" stroke-linejoin="round"/>
<use href="#r_anyang" fill="#fbf5bc" stroke="#2e2400" stroke-opacity="0.5" stroke-width="1.5" stroke-linejoin="round"/>
<use href="#r_xinxiang" fill="#f9c77f" stroke="#2e2400" stroke-opacity="0.5" stroke-width="1.5" stroke-linejoin="round"/>
<use href="#r_hebi" fill="#ee7c7a" stroke="#2e2400" stroke-opacity="0.5" stroke-width="1.5" stroke-linejoin="round"/>
<use href="#r_g7a" fill="#f2a233" stroke="#2e2400" stroke-opacity="0.5" stroke-width="1.5" stroke-linejoin="round"/>
<use href="#r_g7b" fill="#f2a233" stroke="#2e2400" stroke-opacity="0.5" stroke-width="1.5" stroke-linejoin="round"/>
<use href="#r_linxia" fill="#fbf5bc" stroke="#2e2400" stroke-opacity="0.5" stroke-width="1.5" stroke-linejoin="round"/>
<use href="#r_gs_c2" fill="#f2a233" stroke="#2e2400" stroke-opacity="0.5" stroke-width="1.5" stroke-linejoin="round"/>
<use href="#r_dingxi" fill="#f9c77f" stroke="#2e2400" stroke-opacity="0.5" stroke-width="1.5" stroke-linejoin="round"/>
<use href="#r_longnan" fill="#f9c77f" stroke="#2e2400" stroke-opacity="0.5" stroke-width="1.5" stroke-linejoin="round"/>
<use href="#r_g1b" fill="#f2a233" stroke="#2e2400" stroke-opacity="0.5" stroke-width="1.5" stroke-linejoin="round"/>
<use href="#r_g1a" fill="#f2a233" stroke="#2e2400" stroke-opacity="0.5" stroke-width="1.5" stroke-linejoin="round"/>
<use href="#r_g6s" fill="#fbf5bc" stroke="#2e2400" stroke-opacity="0.5" stroke-width="1.5" stroke-linejoin="round"/>
</g>
<use href="#rv" fill="none" stroke="#4a68b8" stroke-width="3.4" stroke-linejoin="round" stroke-linecap="round"/>
<use href="#rvs" fill="none" stroke="#4a68b8" stroke-width="3" stroke-linejoin="round" stroke-linecap="round"/>
<use href="#rvt" fill="none" stroke="#4a68b8" stroke-width="5" stroke-linejoin="round" stroke-linecap="round"/>
<use href="#ol" fill="none" stroke="#1c1a18" stroke-width="3.2" stroke-linejoin="round"/>
<use href="#olt" fill="none" stroke="#1c1a18" stroke-width="4.8" stroke-linejoin="round" stroke-linecap="round"/>
<use href="#spike" fill="#1c1a18"/>
</g>
<g transform="translate(-0.55,807.7) scale(1.00167)">
<g clip-path="url(#cp)">
<path d="M1139.5,14.0 1141.0,13.0 1143.0,14.0 1149.5,18.5 1150.0,19.0 1149.0,19.0 1141.0,15.0 1140.0,14.5Z" fill="#f9c77f"/>
<path d="M889.0,167.0 889.0,166.0 967.0,145.5 967.5,145.5 967.0,146.0 915.0,193.5Z" fill="#f9c77f"/>
<path d="M1054.0,166.5 1050.5,166.5 1045.5,166.0 1034.5,165.0 1025.0,160.0 1022.0,159.0 1023.5,159.0Z" fill="#f9c77f"/>
<path d="M1220.0,179.5 1218.5,179.5 1213.5,179.0 1208.0,176.0 1213.0,176.0 1218.5,179.0Z" fill="#f9c77f"/>
<path d="M913.0,221.0 913.0,220.5 915.5,210.5 918.0,210.0 920.0,209.0 920.0,221.0Z" fill="#f9c77f"/>
<path d="M906.0,261.5 906.0,260.5 908.0,254.5 908.5,251.5 916.5,245.5 916.5,246.0Z" fill="#f9c77f"/>
<path d="M876.0,249.0 876.5,247.5 877.5,247.5 882.0,249.0 884.0,250.5 876.0,250.5Z" fill="#f2a233"/>
<path d="M770.5,256.5 755.0,280.0 754.5,279.5 751.5,272.5 751.5,272.0 752.5,271.0 762.5,262.5 770.0,256.5Z" fill="#fbf5bc"/>
<path d="M1272.0,266.5 1271.5,266.5 1270.5,265.0 1270.0,264.0 1273.0,260.5 1281.5,257.5 1282.0,257.5 1280.5,259.0 1277.0,264.0Z" fill="#f2a233"/>
<path d="M870.0,283.5 870.0,280.0 870.5,277.5 871.0,277.5 877.0,281.5Z" fill="#f9c77f"/>
<path d="M887.5,290.0 887.5,284.0 894.0,279.5 897.0,278.0 897.0,278.5 893.5,285.0Z" fill="#f9c77f"/>
<path d="M1464.5,289.5 1476.0,280.5 1476.0,281.0 1475.5,282.5 1474.0,287.5 1466.0,289.5Z" fill="#fbf5bc"/>
<path d="M1506.0,287.0 1506.0,280.5 1512.5,282.0 1513.0,283.5Z" fill="#e5332d"/>
<path d="M683.5,287.0 683.5,294.0 682.0,294.0 677.0,293.5 674.5,293.0 677.0,289.5 682.5,287.5Z" fill="#f9c77f"/>
<path d="M1423.5,299.0 1425.0,299.0 1425.0,299.5 1423.5,301.5 1423.0,302.0 1417.0,306.0 1413.5,307.5 1413.0,307.5 1414.0,306.5 1422.0,300.0Z" fill="#fbf5bc"/>
<path d="M1504.5,315.5 1504.5,318.0 1502.0,319.5 1493.0,323.5 1492.5,323.5 1501.5,311.0 1502.5,310.0 1503.5,312.5Z" fill="#fbf5bc"/>
<path d="M789.0,319.0 810.5,311.5 817.5,311.0 819.0,311.0 816.0,312.0 794.5,320.0 792.5,320.5 791.0,320.0Z" fill="#ee7c7a"/>
<path d="M1548.5,315.0 1549.5,311.5 1555.5,311.5 1553.5,312.5 1549.0,315.5 1548.5,315.5Z" fill="#e5332d"/>
<path d="M1583.5,333.0 1577.0,343.0 1551.0,332.0 1541.0,325.0 1541.5,324.0 1543.0,321.5 1546.0,317.0Z" fill="#ee7c7a"/>
<path d="M1462.0,329.0 1469.0,336.0 1466.0,336.0 1464.5,335.5 1462.5,331.0 1462.0,329.5Z" fill="#fbf5bc"/>
<path d="M844.5,353.5 844.5,354.0 844.0,354.5 843.0,354.0 831.0,346.0 829.5,344.5 824.5,336.5 820.0,331.0 822.0,331.0 823.0,331.5 824.5,332.5 828.0,335.0 830.5,337.5 843.0,351.5Z" fill="#ee7c7a"/>
<path d="M750.0,342.5 751.0,342.5 746.5,347.5 737.0,347.5 738.5,347.0 746.0,343.5Z" fill="#fbf5bc"/>
<path d="M1104.5,359.0 1104.5,356.0 1105.0,345.0 1105.5,342.5 1106.0,343.5 1109.5,347.5 1110.0,351.0 1110.0,352.0Z" fill="#f9c77f"/>
<path d="M968.0,343.0 968.5,343.0 968.0,346.5 963.0,347.5 962.5,347.5 963.0,347.0Z" fill="#fbf5bc"/>
<path d="M1265.5,356.0 1285.5,344.0 1285.5,345.5 1285.0,347.0 1284.0,348.0 1271.5,359.0 1270.0,359.0Z" fill="#f9c77f"/>
<path d="M850.0,371.0 848.5,371.0 840.5,361.0 840.0,360.0 840.0,359.5 840.5,359.0Z" fill="#fbf5bc"/>
<path d="M1414.5,375.5 1414.5,375.0 1416.5,370.0 1419.0,369.5 1421.0,368.5 1421.5,368.5Z" fill="#e5332d"/>
<path d="M1361.5,388.0 1361.5,389.0 1355.5,386.0 1355.0,385.5 1352.0,371.5 1352.0,370.5 1354.0,373.0 1355.5,375.0 1358.5,376.5 1359.0,377.5 1359.5,381.0 1361.0,386.0Z" fill="#fbf5bc"/>
<path d="M870.0,386.5 847.5,399.5 847.0,399.0 847.0,382.5 849.0,376.0 850.0,373.0 850.5,372.0Z" fill="#fbf5bc"/>
<path d="M1643.5,380.0 1644.5,378.5 1649.0,373.5 1650.0,372.5 1650.5,372.5 1651.0,373.0 1651.0,374.0 1649.5,377.5 1645.5,379.0 1644.0,380.0Z" fill="#e5332d"/>
<path d="M1331.0,385.0 1326.0,385.0 1323.5,384.5 1314.5,381.0 1317.0,381.0Z" fill="#fbf5bc"/>
<path d="M1267.5,413.5 1268.5,408.5 1269.5,402.0 1275.0,386.5 1275.5,388.5 1277.5,399.5 1278.5,407.5 1278.5,408.5 1277.0,409.5 1268.0,413.5Z" fill="#fbf5bc"/>
<path d="M1627.5,394.0 1628.0,394.0 1625.0,399.5 1621.5,401.0 1618.0,401.0 1618.5,400.5 1621.5,396.5Z" fill="#e5332d"/>
<path d="M785.0,414.5 783.5,414.0 799.5,398.0 802.5,396.0 803.0,396.0 801.5,398.0 797.5,403.0 786.0,414.5Z" fill="#fbf5bc"/>
<path d="M1101.0,409.0 1113.0,397.0 1115.0,403.0 1116.5,410.0 1116.5,411.0 1114.0,411.0 1103.0,409.5Z" fill="#f9c77f"/>
<path d="M1579.5,403.5 1579.0,403.5 1576.0,403.0 1573.5,399.5 1575.0,399.0 1580.5,398.0 1581.0,398.0 1581.0,398.5Z" fill="#ee7c7a"/>
<path d="M1382.0,398.5 1382.5,398.5 1381.5,399.5 1378.5,402.0 1357.5,419.5 1355.5,421.0 1349.5,425.0 1344.0,428.5 1343.5,428.5 1347.5,424.5 1377.5,401.5Z" fill="#ee7c7a"/>
<path d="M1186.5,424.5 1179.0,418.0 1181.0,415.0 1185.0,413.5 1185.5,414.0 1186.5,422.0Z" fill="#f9c77f"/>
<path d="M1013.5,429.0 1014.0,424.0 1015.5,416.0 1016.0,417.0 1019.5,421.5 1021.5,430.0 1021.5,430.5 1020.0,433.5 1015.0,438.5 1014.5,437.0 1013.5,431.0Z" fill="#f2a233"/>
<path d="M1061.0,427.5 1059.5,427.5 1058.5,422.0 1058.0,420.0 1060.5,420.0 1073.0,421.5 1076.0,422.0 1070.5,425.5Z" fill="#f9c77f"/>
<path d="M1051.5,438.5 1051.5,438.0 1052.5,434.0 1056.5,432.0 1056.5,432.5 1055.5,434.0 1052.0,438.0Z" fill="#f2a233"/>
<path d="M1225.0,441.5 1225.0,440.5 1225.5,439.0 1231.5,436.0 1232.0,436.0 1230.5,437.5 1226.5,441.0 1225.5,441.5Z" fill="#ee7c7a"/>
<path d="M1097.5,444.0 1102.5,439.0 1102.5,439.5 1097.5,447.5Z" fill="#fbf5bc"/>
<path d="M898.5,468.0 905.0,442.5 905.5,442.5 909.5,444.5 909.5,445.0 907.5,451.5 905.0,461.0 899.0,469.0 898.5,468.5Z" fill="#f9c77f"/>
<path d="M1024.5,452.5 1037.5,452.5 1028.0,457.5 1027.0,457.5 1026.5,457.0Z" fill="#f2a233"/>
<path d="M1294.5,475.5 1294.5,483.5 1293.0,483.5 1288.5,483.0 1281.5,481.5 1284.0,478.5 1294.0,475.5Z" fill="#ee7c7a"/>
<path d="M1302.5,487.0 1306.0,487.0 1306.0,503.0 1305.5,499.0 1302.5,488.5Z" fill="#ee7c7a"/>
<path d="M905.5,506.0 905.5,490.0 909.0,488.5 909.5,488.5 909.5,490.0 906.0,507.0Z" fill="#f2a233"/>
<path d="M1304.0,511.0 1299.0,506.0 1300.0,506.0 1306.0,509.5 1305.0,510.5Z" fill="#ee7c7a"/>
<path d="M907.5,514.5 909.5,514.5 901.5,516.5 889.0,521.0 878.0,523.0 875.5,523.0 878.0,521.0 879.5,520.0Z" fill="#f2a233"/>
<path d="M1133.0,517.0 1140.5,517.0 1138.5,523.0 1134.5,521.0Z" fill="#f2a233"/>
<path d="M1260.5,538.0 1260.5,530.5 1261.0,529.5 1263.5,524.0 1267.0,522.0 1268.0,522.0 1278.0,526.0Z" fill="#ee7c7a"/>
<path d="M1302.5,527.5 1288.5,522.5 1295.5,522.0 1303.5,522.0 1303.5,527.5Z" fill="#f2a233"/>
<path d="M874.5,527.0 871.0,528.5 870.5,527.5 870.5,527.0 871.0,526.5 875.5,522.5 876.0,522.5 876.0,523.0Z" fill="#f2a233"/>
<path d="M877.0,540.0 877.0,554.0 873.5,552.0 872.5,550.5 872.5,549.5 873.5,542.5 876.0,540.5 876.5,539.0Z" fill="#f2a233"/>
<path d="M1096.0,556.5 1094.5,556.5 1088.5,555.0 1081.0,553.5 1080.5,553.0 1078.5,548.0 1078.0,547.0 1078.0,546.5 1079.0,546.5Z" fill="#f9c77f"/>
<path d="M1374.0,576.5 1349.5,565.5 1349.0,565.0 1336.5,548.0 1337.0,548.0 1345.0,551.0 1379.5,572.0 1378.0,573.5 1375.5,575.5Z" fill="#ee7c7a"/>
<path d="M1273.0,566.0 1278.0,566.0 1278.0,573.0 1277.5,572.5 1274.5,571.0 1273.0,566.5Z" fill="#f2a233"/>
<use href="#r_xinzhou" fill="#f2a233" stroke="#f2a233" stroke-width="14" stroke-linejoin="round"/>
<use href="#r_bayannur" fill="#f9c77f" stroke="#f9c77f" stroke-width="14" stroke-linejoin="round"/>
<use href="#r_baotou" fill="#f9c77f" stroke="#f9c77f" stroke-width="14" stroke-linejoin="round"/>
<use href="#r_hohhot" fill="#fbf5bc" stroke="#fbf5bc" stroke-width="14" stroke-linejoin="round"/>
<use href="#r_ulanqab" fill="#f9c77f" stroke="#f9c77f" stroke-width="14" stroke-linejoin="round"/>
<use href="#r_datong" fill="#fbf5bc" stroke="#fbf5bc" stroke-width="14" stroke-linejoin="round"/>
<use href="#r_shuozhou" fill="#fbf5bc" stroke="#fbf5bc" stroke-width="14" stroke-linejoin="round"/>
<use href="#r_ordos" fill="#f9c77f" stroke="#f9c77f" stroke-width="14" stroke-linejoin="round"/>
<use href="#r_wuhai" fill="#f2a233" stroke="#f2a233" stroke-width="14" stroke-linejoin="round"/>
<use href="#r_g10" fill="#f2a233" stroke="#f2a233" stroke-width="14" stroke-linejoin="round"/>
<use href="#r_g10s" fill="#f9c77f" stroke="#f9c77f" stroke-width="14" stroke-linejoin="round"/>
<use href="#r_g11" fill="#f2a233" stroke="#f2a233" stroke-width="14" stroke-linejoin="round"/>
<use href="#r_g9" fill="#f9c77f" stroke="#f9c77f" stroke-width="14" stroke-linejoin="round"/>
<use href="#r_g8" fill="#ee7c7a" stroke="#ee7c7a" stroke-width="14" stroke-linejoin="round"/>
<use href="#r_yulin" fill="#fbf5bc" stroke="#fbf5bc" stroke-width="14" stroke-linejoin="round"/>
<use href="#r_yanan" fill="#f9c77f" stroke="#f9c77f" stroke-width="14" stroke-linejoin="round"/>
<use href="#r_qingyang" fill="#f9c77f" stroke="#f9c77f" stroke-width="14" stroke-linejoin="round"/>
<use href="#r_guyuan" fill="#f9c77f" stroke="#f9c77f" stroke-width="14" stroke-linejoin="round"/>
<use href="#r_tongchuan" fill="#f2a233" stroke="#f2a233" stroke-width="14" stroke-linejoin="round"/>
<use href="#r_lvliang" fill="#f2a233" stroke="#f2a233" stroke-width="14" stroke-linejoin="round"/>
<use href="#r_taiyuan" fill="#e5332d" stroke="#e5332d" stroke-width="14" stroke-linejoin="round"/>
<use href="#r_yangquan" fill="#f2a233" stroke="#f2a233" stroke-width="14" stroke-linejoin="round"/>
<use href="#r_jinzhong" fill="#f9c77f" stroke="#f9c77f" stroke-width="14" stroke-linejoin="round"/>
<use href="#r_changzhi" fill="#fbf5bc" stroke="#fbf5bc" stroke-width="14" stroke-linejoin="round"/>
<use href="#r_linfen" fill="#fbf5bc" stroke="#fbf5bc" stroke-width="14" stroke-linejoin="round"/>
<use href="#r_jincheng" fill="#f9c77f" stroke="#f9c77f" stroke-width="14" stroke-linejoin="round"/>
<use href="#r_yuncheng" fill="#fbf5bc" stroke="#fbf5bc" stroke-width="14" stroke-linejoin="round"/>
<use href="#r_pingliang" fill="#f2a233" stroke="#f2a233" stroke-width="14" stroke-linejoin="round"/>
<use href="#r_xianyang" fill="#f9c77f" stroke="#f9c77f" stroke-width="14" stroke-linejoin="round"/>
<use href="#r_weinan_n" fill="#fbf5bc" stroke="#fbf5bc" stroke-width="14" stroke-linejoin="round"/>
<use href="#r_xian" fill="#ee7c7a" stroke="#ee7c7a" stroke-width="14" stroke-linejoin="round"/>
<use href="#r_weinan_e" fill="#fbf5bc" stroke="#fbf5bc" stroke-width="14" stroke-linejoin="round"/>
<use href="#r_shangluo_n" fill="#f9c77f" stroke="#f9c77f" stroke-width="14" stroke-linejoin="round"/>
<use href="#r_shangluo_s" fill="#f9c77f" stroke="#f9c77f" stroke-width="14" stroke-linejoin="round"/>
<use href="#r_baoji" fill="#ee7c7a" stroke="#ee7c7a" stroke-width="14" stroke-linejoin="round"/>
<use href="#r_sanmenxia" fill="#f2a233" stroke="#f2a233" stroke-width="14" stroke-linejoin="round"/>
<use href="#r_luoyang" fill="#ee7c7a" stroke="#ee7c7a" stroke-width="14" stroke-linejoin="round"/>
<use href="#r_zhengzhou" fill="#e5332d" stroke="#e5332d" stroke-width="14" stroke-linejoin="round"/>
<use href="#r_xuchang" fill="#ee7c7a" stroke="#ee7c7a" stroke-width="14" stroke-linejoin="round"/>
<use href="#r_pingdingshan" fill="#f9c77f" stroke="#f9c77f" stroke-width="14" stroke-linejoin="round"/>
<use href="#r_nanyang" fill="#f2a233" stroke="#f2a233" stroke-width="14" stroke-linejoin="round"/>
<use href="#r_zhumadian" fill="#ee7c7a" stroke="#ee7c7a" stroke-width="14" stroke-linejoin="round"/>
<use href="#r_xinyang" fill="#ee7c7a" stroke="#ee7c7a" stroke-width="14" stroke-linejoin="round"/>
<use href="#r_luohe" fill="#f2a233" stroke="#f2a233" stroke-width="14" stroke-linejoin="round"/>
<use href="#r_zhoukou" fill="#f2a233" stroke="#f2a233" stroke-width="14" stroke-linejoin="round"/>
<use href="#r_kaifeng" fill="#f9c77f" stroke="#f9c77f" stroke-width="14" stroke-linejoin="round"/>
<use href="#r_heze" fill="#ee7c7a" stroke="#ee7c7a" stroke-width="14" stroke-linejoin="round"/>
<use href="#r_shangqiu" fill="#f2a233" stroke="#f2a233" stroke-width="14" stroke-linejoin="round"/>
<use href="#r_jiaozuo" fill="#ee7c7a" stroke="#ee7c7a" stroke-width="14" stroke-linejoin="round"/>
<use href="#r_dongying" fill="#e5332d" stroke="#e5332d" stroke-width="14" stroke-linejoin="round"/>
<use href="#r_binzhou" fill="#fbf5bc" stroke="#fbf5bc" stroke-width="14" stroke-linejoin="round"/>
<use href="#r_dezhou" fill="#fbf5bc" stroke="#fbf5bc" stroke-width="14" stroke-linejoin="round"/>
<use href="#r_jinan_n" fill="#e5332d" stroke="#e5332d" stroke-width="14" stroke-linejoin="round"/>
<use href="#r_jinan_s" fill="#e5332d" stroke="#e5332d" stroke-width="14" stroke-linejoin="round"/>
<use href="#r_liaocheng" fill="#fbf5bc" stroke="#fbf5bc" stroke-width="14" stroke-linejoin="round"/>
<use href="#r_puyang" fill="#f2a233" stroke="#f2a233" stroke-width="14" stroke-linejoin="round"/>
<use href="#r_zibo" fill="#f2a233" stroke="#f2a233" stroke-width="14" stroke-linejoin="round"/>
<use href="#r_weifang" fill="#ee7c7a" stroke="#ee7c7a" stroke-width="14" stroke-linejoin="round"/>
<use href="#r_qingdao" fill="#e5332d" stroke="#e5332d" stroke-width="14" stroke-linejoin="round"/>
<use href="#r_yantai" fill="#ee7c7a" stroke="#ee7c7a" stroke-width="14" stroke-linejoin="round"/>
<use href="#r_weihai" fill="#ee7c7a" stroke="#ee7c7a" stroke-width="14" stroke-linejoin="round"/>
<use href="#r_rizhao" fill="#ee7c7a" stroke="#ee7c7a" stroke-width="14" stroke-linejoin="round"/>
<use href="#r_linyi" fill="#f2a233" stroke="#f2a233" stroke-width="14" stroke-linejoin="round"/>
<use href="#r_taian" fill="#ee7c7a" stroke="#ee7c7a" stroke-width="14" stroke-linejoin="round"/>
<use href="#r_jining" fill="#ee7c7a" stroke="#ee7c7a" stroke-width="14" stroke-linejoin="round"/>
<use href="#r_zaozhuang" fill="#fbf5bc" stroke="#fbf5bc" stroke-width="14" stroke-linejoin="round"/>
<use href="#r_anyang" fill="#fbf5bc" stroke="#fbf5bc" stroke-width="14" stroke-linejoin="round"/>
<use href="#r_xinxiang" fill="#f2a233" stroke="#f2a233" stroke-width="14" stroke-linejoin="round"/>
<use href="#r_hebi" fill="#e5332d" stroke="#e5332d" stroke-width="14" stroke-linejoin="round"/>
<use href="#r_g7a" fill="#fbf5bc" stroke="#fbf5bc" stroke-width="14" stroke-linejoin="round"/>
<use href="#r_g7b" fill="#fbf5bc" stroke="#fbf5bc" stroke-width="14" stroke-linejoin="round"/>
<use href="#r_gs_c2" fill="#f2a233" stroke="#f2a233" stroke-width="14" stroke-linejoin="round"/>
<use href="#r_dingxi" fill="#f9c77f" stroke="#f9c77f" stroke-width="14" stroke-linejoin="round"/>
<use href="#r_g6s" fill="#fbf5bc" stroke="#fbf5bc" stroke-width="14" stroke-linejoin="round"/>
<use href="#r_alxa" fill="#f9c77f" stroke="#2e2400" stroke-opacity="0.5" stroke-width="1.5" stroke-linejoin="round"/>
<use href="#r_xinzhou" fill="#f2a233" stroke="#2e2400" stroke-opacity="0.5" stroke-width="1.5" stroke-linejoin="round"/>
<use href="#r_g2" fill="#f9c77f" stroke="#2e2400" stroke-opacity="0.5" stroke-width="1.5" stroke-linejoin="round"/>
<use href="#r_g3" fill="#f2a233" stroke="#2e2400" stroke-opacity="0.5" stroke-width="1.5" stroke-linejoin="round"/>
<use href="#r_g4" fill="#fbf5bc" stroke="#2e2400" stroke-opacity="0.5" stroke-width="1.5" stroke-linejoin="round"/>
<use href="#r_g5" fill="#fbf5bc" stroke="#2e2400" stroke-opacity="0.5" stroke-width="1.5" stroke-linejoin="round"/>
<use href="#r_g6" fill="#fbf5bc" stroke="#2e2400" stroke-opacity="0.5" stroke-width="1.5" stroke-linejoin="round"/>
<use href="#r_bayannur" fill="#f9c77f" stroke="#2e2400" stroke-opacity="0.5" stroke-width="1.5" stroke-linejoin="round"/>
<use href="#r_baotou" fill="#f9c77f" stroke="#2e2400" stroke-opacity="0.5" stroke-width="1.5" stroke-linejoin="round"/>
<use href="#r_hohhot" fill="#fbf5bc" stroke="#2e2400" stroke-opacity="0.5" stroke-width="1.5" stroke-linejoin="round"/>
<use href="#r_ulanqab" fill="#f9c77f" stroke="#2e2400" stroke-opacity="0.5" stroke-width="1.5" stroke-linejoin="round"/>
<use href="#r_datong" fill="#fbf5bc" stroke="#2e2400" stroke-opacity="0.5" stroke-width="1.5" stroke-linejoin="round"/>
<use href="#r_shuozhou" fill="#fbf5bc" stroke="#2e2400" stroke-opacity="0.5" stroke-width="1.5" stroke-linejoin="round"/>
<use href="#r_ordos" fill="#f9c77f" stroke="#2e2400" stroke-opacity="0.5" stroke-width="1.5" stroke-linejoin="round"/>
<use href="#r_wuhai" fill="#f2a233" stroke="#2e2400" stroke-opacity="0.5" stroke-width="1.5" stroke-linejoin="round"/>
<use href="#r_g10" fill="#f2a233" stroke="#2e2400" stroke-opacity="0.5" stroke-width="1.5" stroke-linejoin="round"/>
<use href="#r_g10s" fill="#f9c77f" stroke="#2e2400" stroke-opacity="0.5" stroke-width="1.5" stroke-linejoin="round"/>
<use href="#r_g11" fill="#f2a233" stroke="#2e2400" stroke-opacity="0.5" stroke-width="1.5" stroke-linejoin="round"/>
<use href="#r_g9" fill="#f9c77f" stroke="#2e2400" stroke-opacity="0.5" stroke-width="1.5" stroke-linejoin="round"/>
<use href="#r_g8" fill="#ee7c7a" stroke="#2e2400" stroke-opacity="0.5" stroke-width="1.5" stroke-linejoin="round"/>
<use href="#r_yulin" fill="#fbf5bc" stroke="#2e2400" stroke-opacity="0.5" stroke-width="1.5" stroke-linejoin="round"/>
<use href="#r_yanan" fill="#f9c77f" stroke="#2e2400" stroke-opacity="0.5" stroke-width="1.5" stroke-linejoin="round"/>
<use href="#r_qingyang" fill="#f9c77f" stroke="#2e2400" stroke-opacity="0.5" stroke-width="1.5" stroke-linejoin="round"/>
<use href="#r_guyuan" fill="#f9c77f" stroke="#2e2400" stroke-opacity="0.5" stroke-width="1.5" stroke-linejoin="round"/>
<use href="#r_tongchuan" fill="#f2a233" stroke="#2e2400" stroke-opacity="0.5" stroke-width="1.5" stroke-linejoin="round"/>
<use href="#r_lvliang" fill="#f2a233" stroke="#2e2400" stroke-opacity="0.5" stroke-width="1.5" stroke-linejoin="round"/>
<use href="#r_taiyuan" fill="#e5332d" stroke="#2e2400" stroke-opacity="0.5" stroke-width="1.5" stroke-linejoin="round"/>
<use href="#r_yangquan" fill="#f2a233" stroke="#2e2400" stroke-opacity="0.5" stroke-width="1.5" stroke-linejoin="round"/>
<use href="#r_jinzhong" fill="#f9c77f" stroke="#2e2400" stroke-opacity="0.5" stroke-width="1.5" stroke-linejoin="round"/>
<use href="#r_changzhi" fill="#fbf5bc" stroke="#2e2400" stroke-opacity="0.5" stroke-width="1.5" stroke-linejoin="round"/>
<use href="#r_linfen" fill="#fbf5bc" stroke="#2e2400" stroke-opacity="0.5" stroke-width="1.5" stroke-linejoin="round"/>
<use href="#r_jincheng" fill="#f9c77f" stroke="#2e2400" stroke-opacity="0.5" stroke-width="1.5" stroke-linejoin="round"/>
<use href="#r_yuncheng" fill="#fbf5bc" stroke="#2e2400" stroke-opacity="0.5" stroke-width="1.5" stroke-linejoin="round"/>
<use href="#r_jiyuan" fill="#ffffff" stroke="#2e2400" stroke-opacity="0.5" stroke-width="1.5" stroke-linejoin="round"/>
<use href="#r_pingliang" fill="#f2a233" stroke="#2e2400" stroke-opacity="0.5" stroke-width="1.5" stroke-linejoin="round"/>
<use href="#r_xianyang" fill="#f9c77f" stroke="#2e2400" stroke-opacity="0.5" stroke-width="1.5" stroke-linejoin="round"/>
<use href="#r_weinan_n" fill="#fbf5bc" stroke="#2e2400" stroke-opacity="0.5" stroke-width="1.5" stroke-linejoin="round"/>
<use href="#r_xian" fill="#ee7c7a" stroke="#2e2400" stroke-opacity="0.5" stroke-width="1.5" stroke-linejoin="round"/>
<use href="#r_weinan_e" fill="#fbf5bc" stroke="#2e2400" stroke-opacity="0.5" stroke-width="1.5" stroke-linejoin="round"/>
<use href="#r_shangluo_n" fill="#f9c77f" stroke="#2e2400" stroke-opacity="0.5" stroke-width="1.5" stroke-linejoin="round"/>
<use href="#r_shangluo_s" fill="#f9c77f" stroke="#2e2400" stroke-opacity="0.5" stroke-width="1.5" stroke-linejoin="round"/>
<use href="#r_baoji" fill="#ee7c7a" stroke="#2e2400" stroke-opacity="0.5" stroke-width="1.5" stroke-linejoin="round"/>
<use href="#r_sanmenxia" fill="#f2a233" stroke="#2e2400" stroke-opacity="0.5" stroke-width="1.5" stroke-linejoin="round"/>
<use href="#r_luoyang" fill="#ee7c7a" stroke="#2e2400" stroke-opacity="0.5" stroke-width="1.5" stroke-linejoin="round"/>
<use href="#r_zhengzhou" fill="#e5332d" stroke="#2e2400" stroke-opacity="0.5" stroke-width="1.5" stroke-linejoin="round"/>
<use href="#r_xuchang" fill="#ee7c7a" stroke="#2e2400" stroke-opacity="0.5" stroke-width="1.5" stroke-linejoin="round"/>
<use href="#r_pingdingshan" fill="#f9c77f" stroke="#2e2400" stroke-opacity="0.5" stroke-width="1.5" stroke-linejoin="round"/>
<use href="#r_nanyang" fill="#f2a233" stroke="#2e2400" stroke-opacity="0.5" stroke-width="1.5" stroke-linejoin="round"/>
<use href="#r_zhumadian" fill="#ee7c7a" stroke="#2e2400" stroke-opacity="0.5" stroke-width="1.5" stroke-linejoin="round"/>
<use href="#r_xinyang" fill="#ee7c7a" stroke="#2e2400" stroke-opacity="0.5" stroke-width="1.5" stroke-linejoin="round"/>
<use href="#r_luohe" fill="#f2a233" stroke="#2e2400" stroke-opacity="0.5" stroke-width="1.5" stroke-linejoin="round"/>
<use href="#r_zhoukou" fill="#f2a233" stroke="#2e2400" stroke-opacity="0.5" stroke-width="1.5" stroke-linejoin="round"/>
<use href="#r_kaifeng" fill="#f9c77f" stroke="#2e2400" stroke-opacity="0.5" stroke-width="1.5" stroke-linejoin="round"/>
<use href="#r_heze" fill="#ee7c7a" stroke="#2e2400" stroke-opacity="0.5" stroke-width="1.5" stroke-linejoin="round"/>
<use href="#r_shangqiu" fill="#f2a233" stroke="#2e2400" stroke-opacity="0.5" stroke-width="1.5" stroke-linejoin="round"/>
<use href="#r_jiaozuo" fill="#ee7c7a" stroke="#2e2400" stroke-opacity="0.5" stroke-width="1.5" stroke-linejoin="round"/>
<use href="#r_dongying" fill="#e5332d" stroke="#2e2400" stroke-opacity="0.5" stroke-width="1.5" stroke-linejoin="round"/>
<use href="#r_binzhou" fill="#fbf5bc" stroke="#2e2400" stroke-opacity="0.5" stroke-width="1.5" stroke-linejoin="round"/>
<use href="#r_dezhou" fill="#fbf5bc" stroke="#2e2400" stroke-opacity="0.5" stroke-width="1.5" stroke-linejoin="round"/>
<use href="#r_jinan_n" fill="#e5332d" stroke="#2e2400" stroke-opacity="0.5" stroke-width="1.5" stroke-linejoin="round"/>
<use href="#r_jinan_s" fill="#e5332d" stroke="#2e2400" stroke-opacity="0.5" stroke-width="1.5" stroke-linejoin="round"/>
<use href="#r_liaocheng" fill="#fbf5bc" stroke="#2e2400" stroke-opacity="0.5" stroke-width="1.5" stroke-linejoin="round"/>
<use href="#r_puyang" fill="#f2a233" stroke="#2e2400" stroke-opacity="0.5" stroke-width="1.5" stroke-linejoin="round"/>
<use href="#r_zibo" fill="#f2a233" stroke="#2e2400" stroke-opacity="0.5" stroke-width="1.5" stroke-linejoin="round"/>
<use href="#r_weifang" fill="#ee7c7a" stroke="#2e2400" stroke-opacity="0.5" stroke-width="1.5" stroke-linejoin="round"/>
<use href="#r_qingdao" fill="#e5332d" stroke="#2e2400" stroke-opacity="0.5" stroke-width="1.5" stroke-linejoin="round"/>
<use href="#r_yantai" fill="#ee7c7a" stroke="#2e2400" stroke-opacity="0.5" stroke-width="1.5" stroke-linejoin="round"/>
<use href="#r_weihai" fill="#ee7c7a" stroke="#2e2400" stroke-opacity="0.5" stroke-width="1.5" stroke-linejoin="round"/>
<use href="#r_rizhao" fill="#ee7c7a" stroke="#2e2400" stroke-opacity="0.5" stroke-width="1.5" stroke-linejoin="round"/>
<use href="#r_linyi" fill="#f2a233" stroke="#2e2400" stroke-opacity="0.5" stroke-width="1.5" stroke-linejoin="round"/>
<use href="#r_taian" fill="#ee7c7a" stroke="#2e2400" stroke-opacity="0.5" stroke-width="1.5" stroke-linejoin="round"/>
<use href="#r_jining" fill="#ee7c7a" stroke="#2e2400" stroke-opacity="0.5" stroke-width="1.5" stroke-linejoin="round"/>
<use href="#r_zaozhuang" fill="#fbf5bc" stroke="#2e2400" stroke-opacity="0.5" stroke-width="1.5" stroke-linejoin="round"/>
<use href="#r_anyang" fill="#fbf5bc" stroke="#2e2400" stroke-opacity="0.5" stroke-width="1.5" stroke-linejoin="round"/>
<use href="#r_xinxiang" fill="#f2a233" stroke="#2e2400" stroke-opacity="0.5" stroke-width="1.5" stroke-linejoin="round"/>
<use href="#r_hebi" fill="#e5332d" stroke="#2e2400" stroke-opacity="0.5" stroke-width="1.5" stroke-linejoin="round"/>
<use href="#r_g7a" fill="#fbf5bc" stroke="#2e2400" stroke-opacity="0.5" stroke-width="1.5" stroke-linejoin="round"/>
<use href="#r_g7b" fill="#fbf5bc" stroke="#2e2400" stroke-opacity="0.5" stroke-width="1.5" stroke-linejoin="round"/>
<use href="#r_linxia" fill="#fbf5bc" stroke="#2e2400" stroke-opacity="0.5" stroke-width="1.5" stroke-linejoin="round"/>
<use href="#r_gs_c2" fill="#f2a233" stroke="#2e2400" stroke-opacity="0.5" stroke-width="1.5" stroke-linejoin="round"/>
<use href="#r_dingxi" fill="#f9c77f" stroke="#2e2400" stroke-opacity="0.5" stroke-width="1.5" stroke-linejoin="round"/>
<use href="#r_longnan" fill="#f2a233" stroke="#2e2400" stroke-opacity="0.5" stroke-width="1.5" stroke-linejoin="round"/>
<use href="#r_g1b" fill="#f9c77f" stroke="#2e2400" stroke-opacity="0.5" stroke-width="1.5" stroke-linejoin="round"/>
<use href="#r_g1a" fill="#f2a233" stroke="#2e2400" stroke-opacity="0.5" stroke-width="1.5" stroke-linejoin="round"/>
<use href="#r_g6s" fill="#fbf5bc" stroke="#2e2400" stroke-opacity="0.5" stroke-width="1.5" stroke-linejoin="round"/>
</g>
<use href="#rv" fill="none" stroke="#4a68b8" stroke-width="3.4" stroke-linejoin="round" stroke-linecap="round"/>
<use href="#rvs" fill="none" stroke="#4a68b8" stroke-width="3" stroke-linejoin="round" stroke-linecap="round"/>
<use href="#rvt" fill="none" stroke="#4a68b8" stroke-width="5" stroke-linejoin="round" stroke-linecap="round"/>
<use href="#ol" fill="none" stroke="#1c1a18" stroke-width="3.2" stroke-linejoin="round"/>
<use href="#olt" fill="none" stroke="#1c1a18" stroke-width="4.8" stroke-linejoin="round" stroke-linecap="round"/>
<use href="#spike" fill="#1c1a18"/>
</g>
<g transform="translate(1774.5,808) scale(1)">
<g clip-path="url(#cp)">
<path d="M1139.5,14.0 1141.0,13.0 1143.0,14.0 1149.5,18.5 1150.0,19.0 1149.0,19.0 1141.0,15.0 1140.0,14.5Z" fill="#fbf5bc"/>
<path d="M889.0,167.0 889.0,166.0 967.0,145.5 967.5,145.5 967.0,146.0 915.0,193.5Z" fill="#f9c77f"/>
<path d="M1054.0,166.5 1050.5,166.5 1045.5,166.0 1034.5,165.0 1025.0,160.0 1022.0,159.0 1023.5,159.0Z" fill="#f9c77f"/>
<path d="M1220.0,179.5 1218.5,179.5 1213.5,179.0 1208.0,176.0 1213.0,176.0 1218.5,179.0Z" fill="#fbf5bc"/>
<path d="M913.0,221.0 913.0,220.5 915.5,210.5 918.0,210.0 920.0,209.0 920.0,221.0Z" fill="#f9c77f"/>
<path d="M906.0,261.5 906.0,260.5 908.0,254.5 908.5,251.5 916.5,245.5 916.5,246.0Z" fill="#f9c77f"/>
<path d="M876.0,249.0 876.5,247.5 877.5,247.5 882.0,249.0 884.0,250.5 876.0,250.5Z" fill="#f2a233"/>
<path d="M770.5,256.5 755.0,280.0 754.5,279.5 751.5,272.5 751.5,272.0 752.5,271.0 762.5,262.5 770.0,256.5Z" fill="#f9c77f"/>
<path d="M1272.0,266.5 1271.5,266.5 1270.5,265.0 1270.0,264.0 1273.0,260.5 1281.5,257.5 1282.0,257.5 1280.5,259.0 1277.0,264.0Z" fill="#f2a233"/>
<path d="M870.0,283.5 870.0,280.0 870.5,277.5 871.0,277.5 877.0,281.5Z" fill="#f9c77f"/>
<path d="M887.5,290.0 887.5,284.0 894.0,279.5 897.0,278.0 897.0,278.5 893.5,285.0Z" fill="#f9c77f"/>
<path d="M1464.5,289.5 1476.0,280.5 1476.0,281.0 1475.5,282.5 1474.0,287.5 1466.0,289.5Z" fill="#ee7c7a"/>
<path d="M1506.0,287.0 1506.0,280.5 1512.5,282.0 1513.0,283.5Z" fill="#e5332d"/>
<path d="M683.5,287.0 683.5,294.0 682.0,294.0 677.0,293.5 674.5,293.0 677.0,289.5 682.5,287.5Z" fill="#f9c77f"/>
<path d="M1423.5,299.0 1425.0,299.0 1425.0,299.5 1423.5,301.5 1423.0,302.0 1417.0,306.0 1413.5,307.5 1413.0,307.5 1414.0,306.5 1422.0,300.0Z" fill="#ee7c7a"/>
<path d="M1504.5,315.5 1504.5,318.0 1502.0,319.5 1493.0,323.5 1492.5,323.5 1501.5,311.0 1502.5,310.0 1503.5,312.5Z" fill="#f9c77f"/>
<path d="M789.0,319.0 810.5,311.5 817.5,311.0 819.0,311.0 816.0,312.0 794.5,320.0 792.5,320.5 791.0,320.0Z" fill="#ee7c7a"/>
<path d="M1548.5,315.0 1549.5,311.5 1555.5,311.5 1553.5,312.5 1549.0,315.5 1548.5,315.5Z" fill="#e5332d"/>
<path d="M1583.5,333.0 1577.0,343.0 1551.0,332.0 1541.0,325.0 1541.5,324.0 1543.0,321.5 1546.0,317.0Z" fill="#e5332d"/>
<path d="M1462.0,329.0 1469.0,336.0 1466.0,336.0 1464.5,335.5 1462.5,331.0 1462.0,329.5Z" fill="#f9c77f"/>
<path d="M844.5,353.5 844.5,354.0 844.0,354.5 843.0,354.0 831.0,346.0 829.5,344.5 824.5,336.5 820.0,331.0 822.0,331.0 823.0,331.5 824.5,332.5 828.0,335.0 830.5,337.5 843.0,351.5Z" fill="#ee7c7a"/>
<path d="M750.0,342.5 751.0,342.5 746.5,347.5 737.0,347.5 738.5,347.0 746.0,343.5Z" fill="#f9c77f"/>
<path d="M1104.5,359.0 1104.5,356.0 1105.0,345.0 1105.5,342.5 1106.0,343.5 1109.5,347.5 1110.0,351.0 1110.0,352.0Z" fill="#fbf5bc"/>
<path d="M968.0,343.0 968.5,343.0 968.0,346.5 963.0,347.5 962.5,347.5 963.0,347.0Z" fill="#f9c77f"/>
<path d="M1265.5,356.0 1285.5,344.0 1285.5,345.5 1285.0,347.0 1284.0,348.0 1271.5,359.0 1270.0,359.0Z" fill="#f9c77f"/>
<path d="M850.0,371.0 848.5,371.0 840.5,361.0 840.0,360.0 840.0,359.5 840.5,359.0Z" fill="#f9c77f"/>
<path d="M1414.5,375.5 1414.5,375.0 1416.5,370.0 1419.0,369.5 1421.0,368.5 1421.5,368.5Z" fill="#e5332d"/>
<path d="M1361.5,388.0 1361.5,389.0 1355.5,386.0 1355.0,385.5 1352.0,371.5 1352.0,370.5 1354.0,373.0 1355.5,375.0 1358.5,376.5 1359.0,377.5 1359.5,381.0 1361.0,386.0Z" fill="#e5332d"/>
<path d="M870.0,386.5 847.5,399.5 847.0,399.0 847.0,382.5 849.0,376.0 850.0,373.0 850.5,372.0Z" fill="#f9c77f"/>
<path d="M1643.5,380.0 1644.5,378.5 1649.0,373.5 1650.0,372.5 1650.5,372.5 1651.0,373.0 1651.0,374.0 1649.5,377.5 1645.5,379.0 1644.0,380.0Z" fill="#e5332d"/>
<path d="M1331.0,385.0 1326.0,385.0 1323.5,384.5 1314.5,381.0 1317.0,381.0Z" fill="#f9c77f"/>
<path d="M1267.5,413.5 1268.5,408.5 1269.5,402.0 1275.0,386.5 1275.5,388.5 1277.5,399.5 1278.5,407.5 1278.5,408.5 1277.0,409.5 1268.0,413.5Z" fill="#f9c77f"/>
<path d="M1627.5,394.0 1628.0,394.0 1625.0,399.5 1621.5,401.0 1618.0,401.0 1618.5,400.5 1621.5,396.5Z" fill="#e5332d"/>
<path d="M785.0,414.5 783.5,414.0 799.5,398.0 802.5,396.0 803.0,396.0 801.5,398.0 797.5,403.0 786.0,414.5Z" fill="#fbf5bc"/>
<path d="M1101.0,409.0 1113.0,397.0 1115.0,403.0 1116.5,410.0 1116.5,411.0 1114.0,411.0 1103.0,409.5Z" fill="#fbf5bc"/>
<path d="M1579.5,403.5 1579.0,403.5 1576.0,403.0 1573.5,399.5 1575.0,399.0 1580.5,398.0 1581.0,398.0 1581.0,398.5Z" fill="#e5332d"/>
<path d="M1382.0,398.5 1382.5,398.5 1381.5,399.5 1378.5,402.0 1357.5,419.5 1355.5,421.0 1349.5,425.0 1344.0,428.5 1343.5,428.5 1347.5,424.5 1377.5,401.5Z" fill="#e5332d"/>
<path d="M1186.5,424.5 1179.0,418.0 1181.0,415.0 1185.0,413.5 1185.5,414.0 1186.5,422.0Z" fill="#f2a233"/>
<path d="M1013.5,429.0 1014.0,424.0 1015.5,416.0 1016.0,417.0 1019.5,421.5 1021.5,430.0 1021.5,430.5 1020.0,433.5 1015.0,438.5 1014.5,437.0 1013.5,431.0Z" fill="#f2a233"/>
<path d="M1061.0,427.5 1059.5,427.5 1058.5,422.0 1058.0,420.0 1060.5,420.0 1073.0,421.5 1076.0,422.0 1070.5,425.5Z" fill="#fbf5bc"/>
<path d="M1051.5,438.5 1051.5,438.0 1052.5,434.0 1056.5,432.0 1056.5,432.5 1055.5,434.0 1052.0,438.0Z" fill="#f2a233"/>
<path d="M1225.0,441.5 1225.0,440.5 1225.5,439.0 1231.5,436.0 1232.0,436.0 1230.5,437.5 1226.5,441.0 1225.5,441.5Z" fill="#f9c77f"/>
<path d="M1097.5,444.0 1102.5,439.0 1102.5,439.5 1097.5,447.5Z" fill="#fbf5bc"/>
<path d="M898.5,468.0 905.0,442.5 905.5,442.5 909.5,444.5 909.5,445.0 907.5,451.5 905.0,461.0 899.0,469.0 898.5,468.5Z" fill="#f9c77f"/>
<path d="M1024.5,452.5 1037.5,452.5 1028.0,457.5 1027.0,457.5 1026.5,457.0Z" fill="#f2a233"/>
<path d="M1294.5,475.5 1294.5,483.5 1293.0,483.5 1288.5,483.0 1281.5,481.5 1284.0,478.5 1294.0,475.5Z" fill="#e5332d"/>
<path d="M1302.5,487.0 1306.0,487.0 1306.0,503.0 1305.5,499.0 1302.5,488.5Z" fill="#e5332d"/>
<path d="M905.5,506.0 905.5,490.0 909.0,488.5 909.5,488.5 909.5,490.0 906.0,507.0Z" fill="#f2a233"/>
<path d="M1304.0,511.0 1299.0,506.0 1300.0,506.0 1306.0,509.5 1305.0,510.5Z" fill="#e5332d"/>
<path d="M907.5,514.5 909.5,514.5 901.5,516.5 889.0,521.0 878.0,523.0 875.5,523.0 878.0,521.0 879.5,520.0Z" fill="#f2a233"/>
<path d="M1133.0,517.0 1140.5,517.0 1138.5,523.0 1134.5,521.0Z" fill="#f2a233"/>
<path d="M1260.5,538.0 1260.5,530.5 1261.0,529.5 1263.5,524.0 1267.0,522.0 1268.0,522.0 1278.0,526.0Z" fill="#e5332d"/>
<path d="M1302.5,527.5 1288.5,522.5 1295.5,522.0 1303.5,522.0 1303.5,527.5Z" fill="#f2a233"/>
<path d="M874.5,527.0 871.0,528.5 870.5,527.5 870.5,527.0 871.0,526.5 875.5,522.5 876.0,522.5 876.0,523.0Z" fill="#f2a233"/>
<path d="M877.0,540.0 877.0,554.0 873.5,552.0 872.5,550.5 872.5,549.5 873.5,542.5 876.0,540.5 876.5,539.0Z" fill="#f2a233"/>
<path d="M1096.0,556.5 1094.5,556.5 1088.5,555.0 1081.0,553.5 1080.5,553.0 1078.5,548.0 1078.0,547.0 1078.0,546.5 1079.0,546.5Z" fill="#f9c77f"/>
<path d="M1374.0,576.5 1349.5,565.5 1349.0,565.0 1336.5,548.0 1337.0,548.0 1345.0,551.0 1379.5,572.0 1378.0,573.5 1375.5,575.5Z" fill="#e5332d"/>
<path d="M1273.0,566.0 1278.0,566.0 1278.0,573.0 1277.5,572.5 1274.5,571.0 1273.0,566.5Z" fill="#f2a233"/>
<use href="#r_xinzhou" fill="#f2a233" stroke="#f2a233" stroke-width="14" stroke-linejoin="round"/>
<use href="#r_bayannur" fill="#f9c77f" stroke="#f9c77f" stroke-width="14" stroke-linejoin="round"/>
<use href="#r_baotou" fill="#f9c77f" stroke="#f9c77f" stroke-width="14" stroke-linejoin="round"/>
<use href="#r_hohhot" fill="#fbf5bc" stroke="#fbf5bc" stroke-width="14" stroke-linejoin="round"/>
<use href="#r_ulanqab" fill="#fbf5bc" stroke="#fbf5bc" stroke-width="14" stroke-linejoin="round"/>
<use href="#r_datong" fill="#fbf5bc" stroke="#fbf5bc" stroke-width="14" stroke-linejoin="round"/>
<use href="#r_shuozhou" fill="#fbf5bc" stroke="#fbf5bc" stroke-width="14" stroke-linejoin="round"/>
<use href="#r_ordos" fill="#f9c77f" stroke="#f9c77f" stroke-width="14" stroke-linejoin="round"/>
<use href="#r_wuhai" fill="#f2a233" stroke="#f2a233" stroke-width="14" stroke-linejoin="round"/>
<use href="#r_g10" fill="#f2a233" stroke="#f2a233" stroke-width="14" stroke-linejoin="round"/>
<use href="#r_g10s" fill="#f9c77f" stroke="#f9c77f" stroke-width="14" stroke-linejoin="round"/>
<use href="#r_g11" fill="#f2a233" stroke="#f2a233" stroke-width="14" stroke-linejoin="round"/>
<use href="#r_g9" fill="#f9c77f" stroke="#f9c77f" stroke-width="14" stroke-linejoin="round"/>
<use href="#r_g8" fill="#ee7c7a" stroke="#ee7c7a" stroke-width="14" stroke-linejoin="round"/>
<use href="#r_yulin" fill="#f9c77f" stroke="#f9c77f" stroke-width="14" stroke-linejoin="round"/>
<use href="#r_yanan" fill="#fbf5bc" stroke="#fbf5bc" stroke-width="14" stroke-linejoin="round"/>
<use href="#r_qingyang" fill="#f9c77f" stroke="#f9c77f" stroke-width="14" stroke-linejoin="round"/>
<use href="#r_guyuan" fill="#f9c77f" stroke="#f9c77f" stroke-width="14" stroke-linejoin="round"/>
<use href="#r_tongchuan" fill="#f2a233" stroke="#f2a233" stroke-width="14" stroke-linejoin="round"/>
<use href="#r_lvliang" fill="#f2a233" stroke="#f2a233" stroke-width="14" stroke-linejoin="round"/>
<use href="#r_taiyuan" fill="#e5332d" stroke="#e5332d" stroke-width="14" stroke-linejoin="round"/>
<use href="#r_yangquan" fill="#f2a233" stroke="#f2a233" stroke-width="14" stroke-linejoin="round"/>
<use href="#r_jinzhong" fill="#f9c77f" stroke="#f9c77f" stroke-width="14" stroke-linejoin="round"/>
<use href="#r_changzhi" fill="#fbf5bc" stroke="#fbf5bc" stroke-width="14" stroke-linejoin="round"/>
<use href="#r_linfen" fill="#f9c77f" stroke="#f9c77f" stroke-width="14" stroke-linejoin="round"/>
<use href="#r_jincheng" fill="#f2a233" stroke="#f2a233" stroke-width="14" stroke-linejoin="round"/>
<use href="#r_yuncheng" fill="#f9c77f" stroke="#f9c77f" stroke-width="14" stroke-linejoin="round"/>
<use href="#r_pingliang" fill="#f2a233" stroke="#f2a233" stroke-width="14" stroke-linejoin="round"/>
<use href="#r_xianyang" fill="#f2a233" stroke="#f2a233" stroke-width="14" stroke-linejoin="round"/>
<use href="#r_weinan_n" fill="#fbf5bc" stroke="#fbf5bc" stroke-width="14" stroke-linejoin="round"/>
<use href="#r_xian" fill="#e5332d" stroke="#e5332d" stroke-width="14" stroke-linejoin="round"/>
<use href="#r_weinan_e" fill="#fbf5bc" stroke="#fbf5bc" stroke-width="14" stroke-linejoin="round"/>
<use href="#r_shangluo_n" fill="#f9c77f" stroke="#f9c77f" stroke-width="14" stroke-linejoin="round"/>
<use href="#r_shangluo_s" fill="#f9c77f" stroke="#f9c77f" stroke-width="14" stroke-linejoin="round"/>
<use href="#r_baoji" fill="#ee7c7a" stroke="#ee7c7a" stroke-width="14" stroke-linejoin="round"/>
<use href="#r_sanmenxia" fill="#f2a233" stroke="#f2a233" stroke-width="14" stroke-linejoin="round"/>
<use href="#r_luoyang" fill="#ee7c7a" stroke="#ee7c7a" stroke-width="14" stroke-linejoin="round"/>
<use href="#r_zhengzhou" fill="#e5332d" stroke="#e5332d" stroke-width="14" stroke-linejoin="round"/>
<use href="#r_xuchang" fill="#e5332d" stroke="#e5332d" stroke-width="14" stroke-linejoin="round"/>
<use href="#r_pingdingshan" fill="#f9c77f" stroke="#f9c77f" stroke-width="14" stroke-linejoin="round"/>
<use href="#r_nanyang" fill="#f2a233" stroke="#f2a233" stroke-width="14" stroke-linejoin="round"/>
<use href="#r_zhumadian" fill="#e5332d" stroke="#e5332d" stroke-width="14" stroke-linejoin="round"/>
<use href="#r_xinyang" fill="#e5332d" stroke="#e5332d" stroke-width="14" stroke-linejoin="round"/>
<use href="#r_luohe" fill="#f2a233" stroke="#f2a233" stroke-width="14" stroke-linejoin="round"/>
<use href="#r_zhoukou" fill="#ee7c7a" stroke="#ee7c7a" stroke-width="14" stroke-linejoin="round"/>
<use href="#r_kaifeng" fill="#f2a233" stroke="#f2a233" stroke-width="14" stroke-linejoin="round"/>
<use href="#r_heze" fill="#e5332d" stroke="#e5332d" stroke-width="14" stroke-linejoin="round"/>
<use href="#r_shangqiu" fill="#f9c77f" stroke="#f9c77f" stroke-width="14" stroke-linejoin="round"/>
<use href="#r_jiaozuo" fill="#f9c77f" stroke="#f9c77f" stroke-width="14" stroke-linejoin="round"/>
<use href="#r_dongying" fill="#e5332d" stroke="#e5332d" stroke-width="14" stroke-linejoin="round"/>
<use href="#r_binzhou" fill="#f9c77f" stroke="#f9c77f" stroke-width="14" stroke-linejoin="round"/>
<use href="#r_dezhou" fill="#ee7c7a" stroke="#ee7c7a" stroke-width="14" stroke-linejoin="round"/>
<use href="#r_jinan_n" fill="#e5332d" stroke="#e5332d" stroke-width="14" stroke-linejoin="round"/>
<use href="#r_jinan_s" fill="#e5332d" stroke="#e5332d" stroke-width="14" stroke-linejoin="round"/>
<use href="#r_liaocheng" fill="#e5332d" stroke="#e5332d" stroke-width="14" stroke-linejoin="round"/>
<use href="#r_puyang" fill="#f2a233" stroke="#f2a233" stroke-width="14" stroke-linejoin="round"/>
<use href="#r_zibo" fill="#e5332d" stroke="#e5332d" stroke-width="14" stroke-linejoin="round"/>
<use href="#r_weifang" fill="#e5332d" stroke="#e5332d" stroke-width="14" stroke-linejoin="round"/>
<use href="#r_qingdao" fill="#e5332d" stroke="#e5332d" stroke-width="14" stroke-linejoin="round"/>
<use href="#r_yantai" fill="#e5332d" stroke="#e5332d" stroke-width="14" stroke-linejoin="round"/>
<use href="#r_weihai" fill="#ee7c7a" stroke="#ee7c7a" stroke-width="14" stroke-linejoin="round"/>
<use href="#r_rizhao" fill="#ee7c7a" stroke="#ee7c7a" stroke-width="14" stroke-linejoin="round"/>
<use href="#r_linyi" fill="#e5332d" stroke="#e5332d" stroke-width="14" stroke-linejoin="round"/>
<use href="#r_taian" fill="#ee7c7a" stroke="#ee7c7a" stroke-width="14" stroke-linejoin="round"/>
<use href="#r_jining" fill="#ee7c7a" stroke="#ee7c7a" stroke-width="14" stroke-linejoin="round"/>
<use href="#r_zaozhuang" fill="#fbf5bc" stroke="#fbf5bc" stroke-width="14" stroke-linejoin="round"/>
<use href="#r_anyang" fill="#f9c77f" stroke="#f9c77f" stroke-width="14" stroke-linejoin="round"/>
<use href="#r_xinxiang" fill="#f2a233" stroke="#f2a233" stroke-width="14" stroke-linejoin="round"/>
<use href="#r_hebi" fill="#e5332d" stroke="#e5332d" stroke-width="14" stroke-linejoin="round"/>
<use href="#r_g7a" fill="#f9c77f" stroke="#f9c77f" stroke-width="14" stroke-linejoin="round"/>
<use href="#r_g7b" fill="#f9c77f" stroke="#f9c77f" stroke-width="14" stroke-linejoin="round"/>
<use href="#r_gs_c2" fill="#f2a233" stroke="#f2a233" stroke-width="14" stroke-linejoin="round"/>
<use href="#r_dingxi" fill="#f9c77f" stroke="#f9c77f" stroke-width="14" stroke-linejoin="round"/>
<use href="#r_g6s" fill="#fbf5bc" stroke="#fbf5bc" stroke-width="14" stroke-linejoin="round"/>
<use href="#r_alxa" fill="#fbf5bc" stroke="#2e2400" stroke-opacity="0.5" stroke-width="1.5" stroke-linejoin="round"/>
<use href="#r_xinzhou" fill="#f2a233" stroke="#2e2400" stroke-opacity="0.5" stroke-width="1.5" stroke-linejoin="round"/>
<use href="#r_g2" fill="#f9c77f" stroke="#2e2400" stroke-opacity="0.5" stroke-width="1.5" stroke-linejoin="round"/>
<use href="#r_g3" fill="#f2a233" stroke="#2e2400" stroke-opacity="0.5" stroke-width="1.5" stroke-linejoin="round"/>
<use href="#r_g4" fill="#f9c77f" stroke="#2e2400" stroke-opacity="0.5" stroke-width="1.5" stroke-linejoin="round"/>
<use href="#r_g5" fill="#fbf5bc" stroke="#2e2400" stroke-opacity="0.5" stroke-width="1.5" stroke-linejoin="round"/>
<use href="#r_g6" fill="#fbf5bc" stroke="#2e2400" stroke-opacity="0.5" stroke-width="1.5" stroke-linejoin="round"/>
<use href="#r_bayannur" fill="#f9c77f" stroke="#2e2400" stroke-opacity="0.5" stroke-width="1.5" stroke-linejoin="round"/>
<use href="#r_baotou" fill="#f9c77f" stroke="#2e2400" stroke-opacity="0.5" stroke-width="1.5" stroke-linejoin="round"/>
<use href="#r_hohhot" fill="#fbf5bc" stroke="#2e2400" stroke-opacity="0.5" stroke-width="1.5" stroke-linejoin="round"/>
<use href="#r_ulanqab" fill="#fbf5bc" stroke="#2e2400" stroke-opacity="0.5" stroke-width="1.5" stroke-linejoin="round"/>
<use href="#r_datong" fill="#fbf5bc" stroke="#2e2400" stroke-opacity="0.5" stroke-width="1.5" stroke-linejoin="round"/>
<use href="#r_shuozhou" fill="#fbf5bc" stroke="#2e2400" stroke-opacity="0.5" stroke-width="1.5" stroke-linejoin="round"/>
<use href="#r_ordos" fill="#f9c77f" stroke="#2e2400" stroke-opacity="0.5" stroke-width="1.5" stroke-linejoin="round"/>
<use href="#r_wuhai" fill="#f2a233" stroke="#2e2400" stroke-opacity="0.5" stroke-width="1.5" stroke-linejoin="round"/>
<use href="#r_g10" fill="#f2a233" stroke="#2e2400" stroke-opacity="0.5" stroke-width="1.5" stroke-linejoin="round"/>
<use href="#r_g10s" fill="#f9c77f" stroke="#2e2400" stroke-opacity="0.5" stroke-width="1.5" stroke-linejoin="round"/>
<use href="#r_g11" fill="#f2a233" stroke="#2e2400" stroke-opacity="0.5" stroke-width="1.5" stroke-linejoin="round"/>
<use href="#r_g9" fill="#f9c77f" stroke="#2e2400" stroke-opacity="0.5" stroke-width="1.5" stroke-linejoin="round"/>
<use href="#r_g8" fill="#ee7c7a" stroke="#2e2400" stroke-opacity="0.5" stroke-width="1.5" stroke-linejoin="round"/>
<use href="#r_yulin" fill="#f9c77f" stroke="#2e2400" stroke-opacity="0.5" stroke-width="1.5" stroke-linejoin="round"/>
<use href="#r_yanan" fill="#fbf5bc" stroke="#2e2400" stroke-opacity="0.5" stroke-width="1.5" stroke-linejoin="round"/>
<use href="#r_qingyang" fill="#f9c77f" stroke="#2e2400" stroke-opacity="0.5" stroke-width="1.5" stroke-linejoin="round"/>
<use href="#r_guyuan" fill="#f9c77f" stroke="#2e2400" stroke-opacity="0.5" stroke-width="1.5" stroke-linejoin="round"/>
<use href="#r_tongchuan" fill="#f2a233" stroke="#2e2400" stroke-opacity="0.5" stroke-width="1.5" stroke-linejoin="round"/>
<use href="#r_lvliang" fill="#f2a233" stroke="#2e2400" stroke-opacity="0.5" stroke-width="1.5" stroke-linejoin="round"/>
<use href="#r_taiyuan" fill="#e5332d" stroke="#2e2400" stroke-opacity="0.5" stroke-width="1.5" stroke-linejoin="round"/>
<use href="#r_yangquan" fill="#f2a233" stroke="#2e2400" stroke-opacity="0.5" stroke-width="1.5" stroke-linejoin="round"/>
<use href="#r_jinzhong" fill="#f9c77f" stroke="#2e2400" stroke-opacity="0.5" stroke-width="1.5" stroke-linejoin="round"/>
<use href="#r_changzhi" fill="#fbf5bc" stroke="#2e2400" stroke-opacity="0.5" stroke-width="1.5" stroke-linejoin="round"/>
<use href="#r_linfen" fill="#f9c77f" stroke="#2e2400" stroke-opacity="0.5" stroke-width="1.5" stroke-linejoin="round"/>
<use href="#r_jincheng" fill="#f2a233" stroke="#2e2400" stroke-opacity="0.5" stroke-width="1.5" stroke-linejoin="round"/>
<use href="#r_yuncheng" fill="#f9c77f" stroke="#2e2400" stroke-opacity="0.5" stroke-width="1.5" stroke-linejoin="round"/>
<use href="#r_jiyuan" fill="#ffffff" stroke="#2e2400" stroke-opacity="0.5" stroke-width="1.5" stroke-linejoin="round"/>
<use href="#r_pingliang" fill="#f2a233" stroke="#2e2400" stroke-opacity="0.5" stroke-width="1.5" stroke-linejoin="round"/>
<use href="#r_xianyang" fill="#f2a233" stroke="#2e2400" stroke-opacity="0.5" stroke-width="1.5" stroke-linejoin="round"/>
<use href="#r_weinan_n" fill="#fbf5bc" stroke="#2e2400" stroke-opacity="0.5" stroke-width="1.5" stroke-linejoin="round"/>
<use href="#r_xian" fill="#e5332d" stroke="#2e2400" stroke-opacity="0.5" stroke-width="1.5" stroke-linejoin="round"/>
<use href="#r_weinan_e" fill="#fbf5bc" stroke="#2e2400" stroke-opacity="0.5" stroke-width="1.5" stroke-linejoin="round"/>
<use href="#r_shangluo_n" fill="#f9c77f" stroke="#2e2400" stroke-opacity="0.5" stroke-width="1.5" stroke-linejoin="round"/>
<use href="#r_shangluo_s" fill="#f9c77f" stroke="#2e2400" stroke-opacity="0.5" stroke-width="1.5" stroke-linejoin="round"/>
<use href="#r_baoji" fill="#ee7c7a" stroke="#2e2400" stroke-opacity="0.5" stroke-width="1.5" stroke-linejoin="round"/>
<use href="#r_sanmenxia" fill="#f2a233" stroke="#2e2400" stroke-opacity="0.5" stroke-width="1.5" stroke-linejoin="round"/>
<use href="#r_luoyang" fill="#ee7c7a" stroke="#2e2400" stroke-opacity="0.5" stroke-width="1.5" stroke-linejoin="round"/>
<use href="#r_zhengzhou" fill="#e5332d" stroke="#2e2400" stroke-opacity="0.5" stroke-width="1.5" stroke-linejoin="round"/>
<use href="#r_xuchang" fill="#e5332d" stroke="#2e2400" stroke-opacity="0.5" stroke-width="1.5" stroke-linejoin="round"/>
<use href="#r_pingdingshan" fill="#f9c77f" stroke="#2e2400" stroke-opacity="0.5" stroke-width="1.5" stroke-linejoin="round"/>
<use href="#r_nanyang" fill="#f2a233" stroke="#2e2400" stroke-opacity="0.5" stroke-width="1.5" stroke-linejoin="round"/>
<use href="#r_zhumadian" fill="#e5332d" stroke="#2e2400" stroke-opacity="0.5" stroke-width="1.5" stroke-linejoin="round"/>
<use href="#r_xinyang" fill="#e5332d" stroke="#2e2400" stroke-opacity="0.5" stroke-width="1.5" stroke-linejoin="round"/>
<use href="#r_luohe" fill="#f2a233" stroke="#2e2400" stroke-opacity="0.5" stroke-width="1.5" stroke-linejoin="round"/>
<use href="#r_zhoukou" fill="#ee7c7a" stroke="#2e2400" stroke-opacity="0.5" stroke-width="1.5" stroke-linejoin="round"/>
<use href="#r_kaifeng" fill="#f2a233" stroke="#2e2400" stroke-opacity="0.5" stroke-width="1.5" stroke-linejoin="round"/>
<use href="#r_heze" fill="#e5332d" stroke="#2e2400" stroke-opacity="0.5" stroke-width="1.5" stroke-linejoin="round"/>
<use href="#r_shangqiu" fill="#f9c77f" stroke="#2e2400" stroke-opacity="0.5" stroke-width="1.5" stroke-linejoin="round"/>
<use href="#r_jiaozuo" fill="#f9c77f" stroke="#2e2400" stroke-opacity="0.5" stroke-width="1.5" stroke-linejoin="round"/>
<use href="#r_dongying" fill="#e5332d" stroke="#2e2400" stroke-opacity="0.5" stroke-width="1.5" stroke-linejoin="round"/>
<use href="#r_binzhou" fill="#f9c77f" stroke="#2e2400" stroke-opacity="0.5" stroke-width="1.5" stroke-linejoin="round"/>
<use href="#r_dezhou" fill="#ee7c7a" stroke="#2e2400" stroke-opacity="0.5" stroke-width="1.5" stroke-linejoin="round"/>
<use href="#r_jinan_n" fill="#e5332d" stroke="#2e2400" stroke-opacity="0.5" stroke-width="1.5" stroke-linejoin="round"/>
<use href="#r_jinan_s" fill="#e5332d" stroke="#2e2400" stroke-opacity="0.5" stroke-width="1.5" stroke-linejoin="round"/>
<use href="#r_liaocheng" fill="#e5332d" stroke="#2e2400" stroke-opacity="0.5" stroke-width="1.5" stroke-linejoin="round"/>
<use href="#r_puyang" fill="#f2a233" stroke="#2e2400" stroke-opacity="0.5" stroke-width="1.5" stroke-linejoin="round"/>
<use href="#r_zibo" fill="#e5332d" stroke="#2e2400" stroke-opacity="0.5" stroke-width="1.5" stroke-linejoin="round"/>
<use href="#r_weifang" fill="#e5332d" stroke="#2e2400" stroke-opacity="0.5" stroke-width="1.5" stroke-linejoin="round"/>
<use href="#r_qingdao" fill="#e5332d" stroke="#2e2400" stroke-opacity="0.5" stroke-width="1.5" stroke-linejoin="round"/>
<use href="#r_yantai" fill="#e5332d" stroke="#2e2400" stroke-opacity="0.5" stroke-width="1.5" stroke-linejoin="round"/>
<use href="#r_weihai" fill="#ee7c7a" stroke="#2e2400" stroke-opacity="0.5" stroke-width="1.5" stroke-linejoin="round"/>
<use href="#r_rizhao" fill="#ee7c7a" stroke="#2e2400" stroke-opacity="0.5" stroke-width="1.5" stroke-linejoin="round"/>
<use href="#r_linyi" fill="#e5332d" stroke="#2e2400" stroke-opacity="0.5" stroke-width="1.5" stroke-linejoin="round"/>
<use href="#r_taian" fill="#ee7c7a" stroke="#2e2400" stroke-opacity="0.5" stroke-width="1.5" stroke-linejoin="round"/>
<use href="#r_jining" fill="#ee7c7a" stroke="#2e2400" stroke-opacity="0.5" stroke-width="1.5" stroke-linejoin="round"/>
<use href="#r_zaozhuang" fill="#fbf5bc" stroke="#2e2400" stroke-opacity="0.5" stroke-width="1.5" stroke-linejoin="round"/>
<use href="#r_anyang" fill="#f9c77f" stroke="#2e2400" stroke-opacity="0.5" stroke-width="1.5" stroke-linejoin="round"/>
<use href="#r_xinxiang" fill="#f2a233" stroke="#2e2400" stroke-opacity="0.5" stroke-width="1.5" stroke-linejoin="round"/>
<use href="#r_hebi" fill="#e5332d" stroke="#2e2400" stroke-opacity="0.5" stroke-width="1.5" stroke-linejoin="round"/>
<use href="#r_g7a" fill="#f9c77f" stroke="#2e2400" stroke-opacity="0.5" stroke-width="1.5" stroke-linejoin="round"/>
<use href="#r_g7b" fill="#f9c77f" stroke="#2e2400" stroke-opacity="0.5" stroke-width="1.5" stroke-linejoin="round"/>
<use href="#r_linxia" fill="#fbf5bc" stroke="#2e2400" stroke-opacity="0.5" stroke-width="1.5" stroke-linejoin="round"/>
<use href="#r_gs_c2" fill="#f2a233" stroke="#2e2400" stroke-opacity="0.5" stroke-width="1.5" stroke-linejoin="round"/>
<use href="#r_dingxi" fill="#f9c77f" stroke="#2e2400" stroke-opacity="0.5" stroke-width="1.5" stroke-linejoin="round"/>
<use href="#r_longnan" fill="#f2a233" stroke="#2e2400" stroke-opacity="0.5" stroke-width="1.5" stroke-linejoin="round"/>
<use href="#r_g1b" fill="#f9c77f" stroke="#2e2400" stroke-opacity="0.5" stroke-width="1.5" stroke-linejoin="round"/>
<use href="#r_g1a" fill="#f2a233" stroke="#2e2400" stroke-opacity="0.5" stroke-width="1.5" stroke-linejoin="round"/>
<use href="#r_g6s" fill="#fbf5bc" stroke="#2e2400" stroke-opacity="0.5" stroke-width="1.5" stroke-linejoin="round"/>
</g>
<use href="#rv" fill="none" stroke="#4a68b8" stroke-width="3.4" stroke-linejoin="round" stroke-linecap="round"/>
<use href="#rvs" fill="none" stroke="#4a68b8" stroke-width="3" stroke-linejoin="round" stroke-linecap="round"/>
<use href="#rvt" fill="none" stroke="#4a68b8" stroke-width="5" stroke-linejoin="round" stroke-linecap="round"/>
<use href="#ol" fill="none" stroke="#1c1a18" stroke-width="3.2" stroke-linejoin="round"/>
<use href="#olt" fill="none" stroke="#1c1a18" stroke-width="4.8" stroke-linejoin="round" stroke-linecap="round"/>
<use href="#spike" fill="#1c1a18"/>
</g>
<g transform="translate(0,0)">
<rect x="495.2" y="700.2" width="367.6" height="28.4" fill="#000"/>
<rect x="678.7" y="704.4" width="180" height="20" fill="#fff"/>
<text x="474.5" y="682">0</text><text x="618" y="682">100</text><text x="808.5" y="682">200 km</text>
</g>
<g transform="translate(0,0)">
<text x="1553" y="94.5">N</text>
<path d="M1579,107 L1556.3,188.8 L1580.6,163.4 L1580.6,118 Z" fill="#000"/>
<path d="M1580,114 L1601.5,186.5 L1580.2,164 Z" fill="#fff" stroke="#000" stroke-width="2.4" stroke-linejoin="miter"/>
</g>
<text x="26" y="66">A: 2014</text>
<text class="cj" x="233.77" y="71.84" font-size="63.5">年</text>
<g transform="translate(1783,0)">
<rect x="495.2" y="700.2" width="367.6" height="28.4" fill="#000"/>
<rect x="678.7" y="704.4" width="180" height="20" fill="#fff"/>
<text x="474.5" y="682">0</text><text x="618" y="682">100</text><text x="808.5" y="682">200 km</text>
</g>
<g transform="translate(1783,0)">
<text x="1553" y="94.5">N</text>
<path d="M1579,107 L1556.3,188.8 L1580.6,163.4 L1580.6,118 Z" fill="#000"/>
<path d="M1580,114 L1601.5,186.5 L1580.2,164 Z" fill="#fff" stroke="#000" stroke-width="2.4" stroke-linejoin="miter"/>
</g>
<text x="1810" y="66">B: 2017</text>
<text class="cj" x="2012.87" y="71.84" font-size="63.5">年</text>
<g transform="translate(0,798)">
<rect x="495.2" y="700.2" width="367.6" height="28.4" fill="#000"/>
<rect x="678.7" y="704.4" width="180" height="20" fill="#fff"/>
<text x="474.5" y="682">0</text><text x="618" y="682">100</text><text x="808.5" y="682">200 km</text>
</g>
<g transform="translate(0,803)">
<text x="1553" y="94.5">N</text>
<path d="M1579,107 L1556.3,188.8 L1580.6,163.4 L1580.6,118 Z" fill="#000"/>
<path d="M1580,114 L1601.5,186.5 L1580.2,164 Z" fill="#fff" stroke="#000" stroke-width="2.4" stroke-linejoin="miter"/>
</g>
<text x="27" y="869.1">C: 2020</text>
<text class="cj" x="229.77" y="874.63" font-size="63.5">年</text>
<g transform="translate(1783,798)">
<rect x="495.2" y="700.2" width="367.6" height="28.4" fill="#000"/>
<rect x="678.7" y="704.4" width="180" height="20" fill="#fff"/>
<text x="474.5" y="682">0</text><text x="618" y="682">100</text><text x="808.5" y="682">200 km</text>
</g>
<g transform="translate(1783,803)">
<text x="1553" y="94.5">N</text>
<path d="M1579,107 L1556.3,188.8 L1580.6,163.4 L1580.6,118 Z" fill="#000"/>
<path d="M1580,114 L1601.5,186.5 L1580.2,164 Z" fill="#fff" stroke="#000" stroke-width="2.4" stroke-linejoin="miter"/>
</g>
<text x="1810" y="869.1">D: 2023</text>
<text class="cj" x="2016.37" y="874.63" font-size="63.5">年</text>
<text class="cj" x="3571.21" y="395.05" font-size="63">能源利用</text>
<text class="cj" x="3569.55" y="476.87" font-size="63">效率指数</text>
<rect x="3575.3" y="509.7" width="120.8" height="65.4" fill="#fbf5bc" stroke="#000" stroke-width="3.4"/>
<text x="3708" y="559.7">0.01~0.36</text>
<rect x="3575.3" y="599.3000000000001" width="120.8" height="65.4" fill="#f9c77f" stroke="#000" stroke-width="3.4"/>
<text x="3708" y="648.2">0.37~0.49</text>
<rect x="3575.3" y="689.1" width="120.8" height="65.4" fill="#f2a233" stroke="#000" stroke-width="3.4"/>
<text x="3708" y="737.9">0.50~0.63</text>
<rect x="3575.3" y="778.5" width="120.8" height="65.4" fill="#ee7c7a" stroke="#000" stroke-width="3.4"/>
<text x="3708" y="828.2">0.64~0.88</text>
<rect x="3575.3" y="869.3000000000001" width="120.8" height="65.4" fill="#e5332d" stroke="#000" stroke-width="3.4"/>
<text x="3708" y="916.5">0.89~1.16</text>
<rect x="3575.3" y="958.7" width="120.8" height="65.4" fill="#fff" stroke="#000" stroke-width="3.4"/>
<text class="cj" x="3709.41" y="1010.26" font-size="63">数据缺失</text>
<rect x="3568.4" y="1061.8" width="138.4" height="18.7" fill="#5a69ad"/>
<text class="cj" x="3711.69" y="1099.38" font-size="62">黄河</text>
</svg></body></html>
